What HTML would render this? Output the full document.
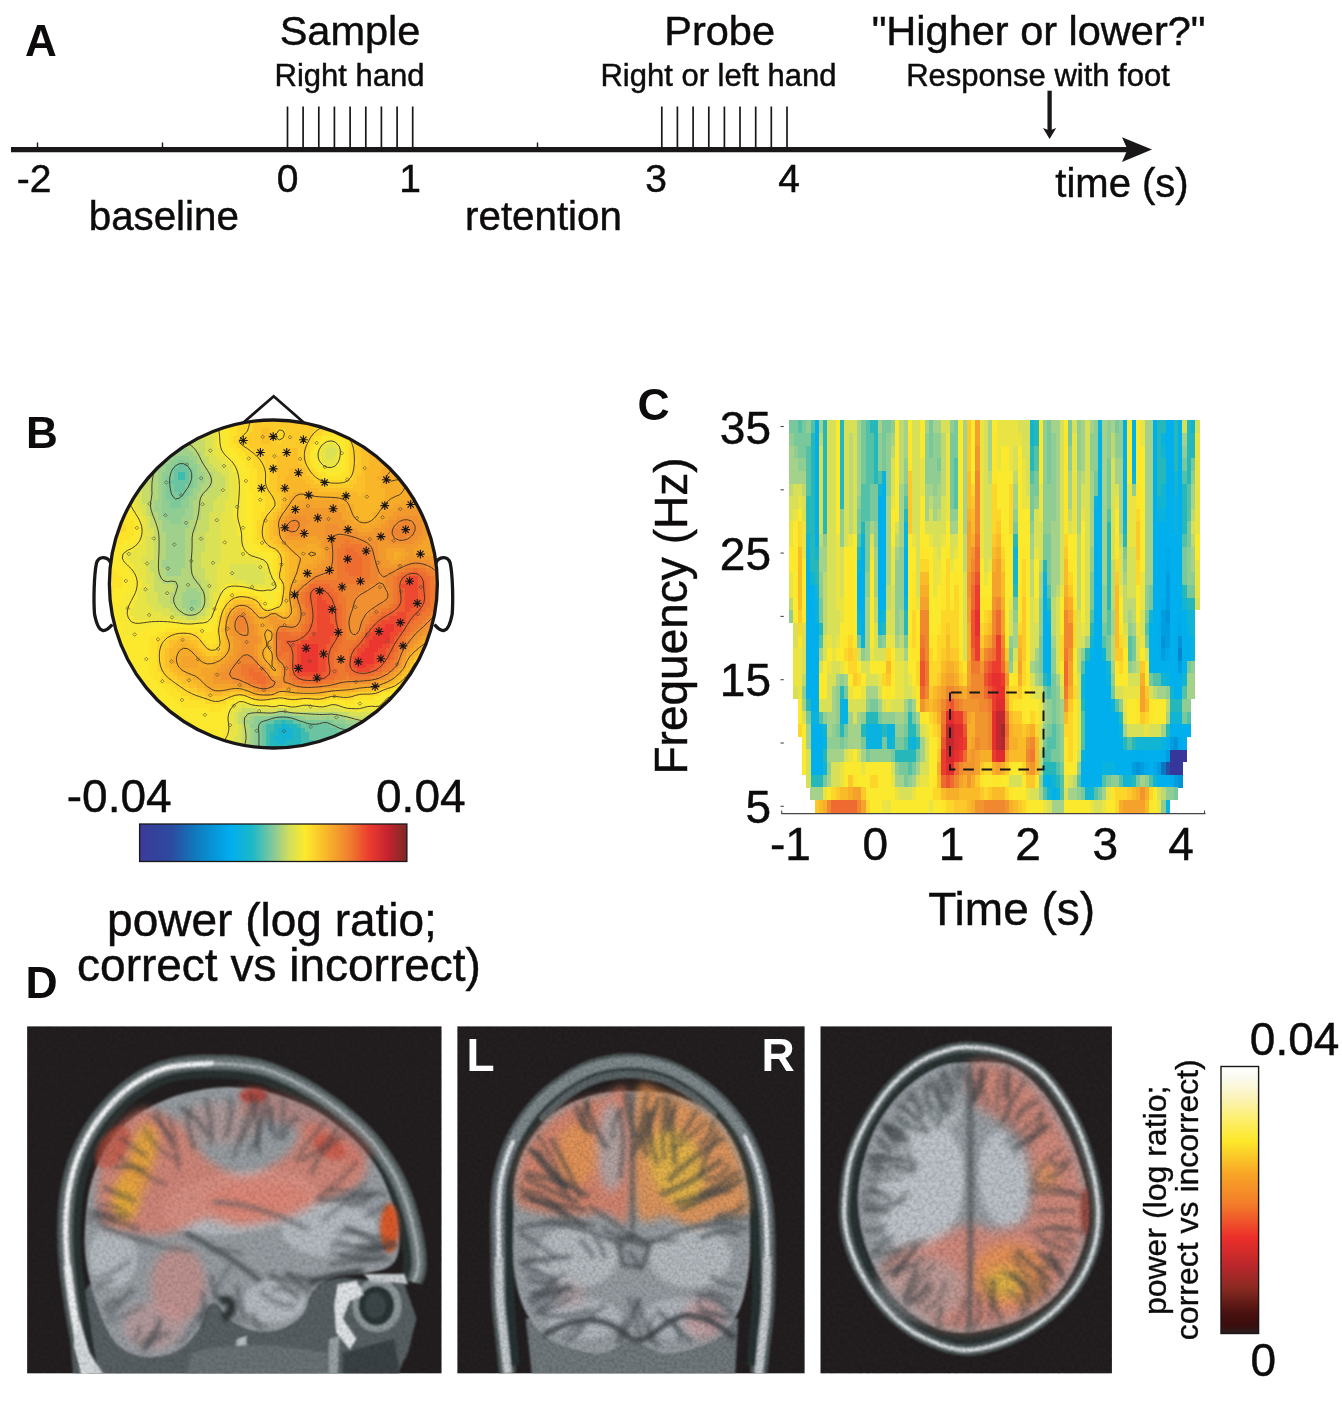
<!DOCTYPE html>
<html><head><meta charset="utf-8"><title>Figure</title>
<style>
html,body{margin:0;padding:0;background:#fff;}
svg{display:block;font-family:"Liberation Sans",sans-serif;}
</style></head><body>
<svg width="1342" height="1407" viewBox="0 0 1342 1407">
<rect width="1342" height="1407" fill="#fff"/>
<text x="25" y="56" font-size="44" text-anchor="start" font-weight="bold" fill="#0d0b0c" >A</text>
<text x="350" y="44.5" font-size="41.5" text-anchor="middle" font-weight="normal" fill="#0d0b0c" stroke="#0d0b0c" stroke-width="0.45" >Sample</text>
<text x="349.5" y="85.5" font-size="31" text-anchor="middle" font-weight="normal" fill="#0d0b0c" stroke="#0d0b0c" stroke-width="0.45" >Right hand</text>
<text x="719.6" y="44.5" font-size="41.5" text-anchor="middle" font-weight="normal" fill="#0d0b0c" stroke="#0d0b0c" stroke-width="0.45" >Probe</text>
<text x="718.5" y="85.5" font-size="31" text-anchor="middle" font-weight="normal" fill="#0d0b0c" stroke="#0d0b0c" stroke-width="0.45" >Right or left hand</text>
<text x="1038.6" y="44.5" font-size="41.5" text-anchor="middle" font-weight="normal" fill="#0d0b0c" stroke="#0d0b0c" stroke-width="0.45" >&quot;Higher or lower?&quot;</text>
<text x="1038" y="85.5" font-size="31" text-anchor="middle" font-weight="normal" fill="#0d0b0c" stroke="#0d0b0c" stroke-width="0.45" >Response with foot</text>
<line x1="11" y1="149.6" x2="1130" y2="149.6" stroke="#1a1718" stroke-width="5.2"/>
<polygon points="1152,149.6 1122,137.2 1127.5,149.6 1122,162" fill="#1a1718"/>
<line x1="37.5" y1="142.5" x2="37.5" y2="150" stroke="#1a1718" stroke-width="1.4"/>
<line x1="162.5" y1="142.5" x2="162.5" y2="150" stroke="#1a1718" stroke-width="1.4"/>
<line x1="537.5" y1="142.5" x2="537.5" y2="150" stroke="#1a1718" stroke-width="1.4"/>
<line x1="287.5" y1="106.5" x2="287.5" y2="149" stroke="#1a1718" stroke-width="1.7"/>
<line x1="303.1" y1="106.5" x2="303.1" y2="149" stroke="#1a1718" stroke-width="1.7"/>
<line x1="318.8" y1="106.5" x2="318.8" y2="149" stroke="#1a1718" stroke-width="1.7"/>
<line x1="334.4" y1="106.5" x2="334.4" y2="149" stroke="#1a1718" stroke-width="1.7"/>
<line x1="350.1" y1="106.5" x2="350.1" y2="149" stroke="#1a1718" stroke-width="1.7"/>
<line x1="365.8" y1="106.5" x2="365.8" y2="149" stroke="#1a1718" stroke-width="1.7"/>
<line x1="381.4" y1="106.5" x2="381.4" y2="149" stroke="#1a1718" stroke-width="1.7"/>
<line x1="397.1" y1="106.5" x2="397.1" y2="149" stroke="#1a1718" stroke-width="1.7"/>
<line x1="412.7" y1="106.5" x2="412.7" y2="149" stroke="#1a1718" stroke-width="1.7"/>
<line x1="661.8" y1="106.5" x2="661.8" y2="149" stroke="#1a1718" stroke-width="1.7"/>
<line x1="677.4" y1="106.5" x2="677.4" y2="149" stroke="#1a1718" stroke-width="1.7"/>
<line x1="693.1" y1="106.5" x2="693.1" y2="149" stroke="#1a1718" stroke-width="1.7"/>
<line x1="708.8" y1="106.5" x2="708.8" y2="149" stroke="#1a1718" stroke-width="1.7"/>
<line x1="724.4" y1="106.5" x2="724.4" y2="149" stroke="#1a1718" stroke-width="1.7"/>
<line x1="740.0" y1="106.5" x2="740.0" y2="149" stroke="#1a1718" stroke-width="1.7"/>
<line x1="755.7" y1="106.5" x2="755.7" y2="149" stroke="#1a1718" stroke-width="1.7"/>
<line x1="771.3" y1="106.5" x2="771.3" y2="149" stroke="#1a1718" stroke-width="1.7"/>
<line x1="787.0" y1="106.5" x2="787.0" y2="149" stroke="#1a1718" stroke-width="1.7"/>
<line x1="1049.6" y1="90.7" x2="1049.6" y2="131" stroke="#1a1718" stroke-width="4.3"/>
<polygon points="1049.6,139 1043,128 1049.6,130.5 1056.2,128" fill="#1a1718"/>
<text x="34" y="191.5" font-size="39" text-anchor="middle" font-weight="normal" fill="#0d0b0c" stroke="#0d0b0c" stroke-width="0.45" >-2</text>
<text x="287.5" y="191.5" font-size="39" text-anchor="middle" font-weight="normal" fill="#0d0b0c" stroke="#0d0b0c" stroke-width="0.45" >0</text>
<text x="410" y="191.5" font-size="39" text-anchor="middle" font-weight="normal" fill="#0d0b0c" stroke="#0d0b0c" stroke-width="0.45" >1</text>
<text x="656" y="191.5" font-size="39" text-anchor="middle" font-weight="normal" fill="#0d0b0c" stroke="#0d0b0c" stroke-width="0.45" >3</text>
<text x="789" y="191.5" font-size="39" text-anchor="middle" font-weight="normal" fill="#0d0b0c" stroke="#0d0b0c" stroke-width="0.45" >4</text>
<text x="163.8" y="230.3" font-size="40.3" text-anchor="middle" font-weight="normal" fill="#0d0b0c" stroke="#0d0b0c" stroke-width="0.45" >baseline</text>
<text x="543.5" y="230.3" font-size="40.3" text-anchor="middle" font-weight="normal" fill="#0d0b0c" stroke="#0d0b0c" stroke-width="0.45" >retention</text>
<text x="1122" y="196.5" font-size="40" text-anchor="middle" font-weight="normal" fill="#0d0b0c" stroke="#0d0b0c" stroke-width="0.45" >time (s)</text>
<text x="26" y="447.6" font-size="44" text-anchor="start" font-weight="bold" fill="#0d0b0c" >B</text>
<text x="119.2" y="811.5" font-size="46" text-anchor="middle" font-weight="normal" fill="#0d0b0c" stroke="#0d0b0c" stroke-width="0.45" >-0.04</text>
<text x="420.8" y="811.5" font-size="46" text-anchor="middle" font-weight="normal" fill="#0d0b0c" stroke="#0d0b0c" stroke-width="0.45" >0.04</text>
<text x="272" y="935.8" font-size="46" text-anchor="middle" font-weight="normal" fill="#0d0b0c" stroke="#0d0b0c" stroke-width="0.45" >power (log ratio;</text>
<text x="279" y="980.5" font-size="46" text-anchor="middle" font-weight="normal" fill="#0d0b0c" stroke="#0d0b0c" stroke-width="0.45" >correct vs incorrect)</text>
<defs><linearGradient id="jet" x1="0" x2="1" y1="0" y2="0">
<stop offset="0" stop-color="#3b3a98"/><stop offset="0.12" stop-color="#2c4ba0"/><stop offset="0.22" stop-color="#0d7fc2"/>
<stop offset="0.34" stop-color="#00aeef"/><stop offset="0.42" stop-color="#1bb8c8"/><stop offset="0.5" stop-color="#85c99a"/>
<stop offset="0.56" stop-color="#d3de5a"/><stop offset="0.62" stop-color="#fdea2c"/><stop offset="0.7" stop-color="#f8b62a"/>
<stop offset="0.78" stop-color="#f0822f"/><stop offset="0.86" stop-color="#ec3b2e"/><stop offset="0.93" stop-color="#c42330"/><stop offset="1" stop-color="#7a2a24"/>
</linearGradient></defs>
<rect x="139.6" y="824" width="267.3" height="37.5" fill="url(#jet)" stroke="#1a1718" stroke-width="1.3"/>
<text x="637.5" y="420" font-size="44.5" text-anchor="start" font-weight="bold" fill="#0d0b0c" >C</text>
<text x="771" y="443.6" font-size="46" text-anchor="end" font-weight="normal" fill="#0d0b0c" stroke="#0d0b0c" stroke-width="0.45" >35</text>
<text x="771" y="569.8" font-size="46" text-anchor="end" font-weight="normal" fill="#0d0b0c" stroke="#0d0b0c" stroke-width="0.45" >25</text>
<text x="771" y="696.2" font-size="46" text-anchor="end" font-weight="normal" fill="#0d0b0c" stroke="#0d0b0c" stroke-width="0.45" >15</text>
<text x="771" y="822.8" font-size="46" text-anchor="end" font-weight="normal" fill="#0d0b0c" stroke="#0d0b0c" stroke-width="0.45" >5</text>
<text x="790.5" y="859.6" font-size="46" text-anchor="middle" font-weight="normal" fill="#0d0b0c" stroke="#0d0b0c" stroke-width="0.45" >-1</text>
<text x="875.4" y="859.6" font-size="46" text-anchor="middle" font-weight="normal" fill="#0d0b0c" stroke="#0d0b0c" stroke-width="0.45" >0</text>
<text x="951.5" y="859.6" font-size="46" text-anchor="middle" font-weight="normal" fill="#0d0b0c" stroke="#0d0b0c" stroke-width="0.45" >1</text>
<text x="1028" y="859.6" font-size="46" text-anchor="middle" font-weight="normal" fill="#0d0b0c" stroke="#0d0b0c" stroke-width="0.45" >2</text>
<text x="1105.4" y="859.6" font-size="46" text-anchor="middle" font-weight="normal" fill="#0d0b0c" stroke="#0d0b0c" stroke-width="0.45" >3</text>
<text x="1181" y="859.6" font-size="46" text-anchor="middle" font-weight="normal" fill="#0d0b0c" stroke="#0d0b0c" stroke-width="0.45" >4</text>
<text x="1011.7" y="924.6" font-size="46" text-anchor="middle" font-weight="normal" fill="#0d0b0c" stroke="#0d0b0c" stroke-width="0.45" >Time (s)</text>
<text transform="translate(686.5,616) rotate(-90)" font-size="46" text-anchor="middle" fill="#0d0b0c" stroke="#0d0b0c" stroke-width="0.45">Frequency (Hz)</text>
<line x1="781.5" y1="813.6" x2="1205.5" y2="813.6" stroke="#4a4648" stroke-width="1.1"/>
<line x1="781.7" y1="810.5" x2="781.7" y2="814" stroke="#4a4648" stroke-width="1.1"/>
<line x1="866.3" y1="810.5" x2="866.3" y2="814" stroke="#4a4648" stroke-width="1.1"/>
<line x1="950.8" y1="810.5" x2="950.8" y2="814" stroke="#4a4648" stroke-width="1.1"/>
<line x1="1035.4" y1="810.5" x2="1035.4" y2="814" stroke="#4a4648" stroke-width="1.1"/>
<line x1="1119.9" y1="810.5" x2="1119.9" y2="814" stroke="#4a4648" stroke-width="1.1"/>
<line x1="1204.5" y1="810.5" x2="1204.5" y2="814" stroke="#4a4648" stroke-width="1.1"/>
<line x1="780.5" y1="426.5" x2="783.8" y2="426.5" stroke="#4a4648" stroke-width="1.1"/>
<line x1="780.5" y1="489.8" x2="783.8" y2="489.8" stroke="#4a4648" stroke-width="1.1"/>
<line x1="780.5" y1="553.1" x2="783.8" y2="553.1" stroke="#4a4648" stroke-width="1.1"/>
<line x1="780.5" y1="616.4" x2="783.8" y2="616.4" stroke="#4a4648" stroke-width="1.1"/>
<line x1="780.5" y1="679.7" x2="783.8" y2="679.7" stroke="#4a4648" stroke-width="1.1"/>
<line x1="780.5" y1="743.0" x2="783.8" y2="743.0" stroke="#4a4648" stroke-width="1.1"/>
<line x1="780.5" y1="806.3" x2="783.8" y2="806.3" stroke="#4a4648" stroke-width="1.1"/>
<text x="25.5" y="998" font-size="44.5" text-anchor="start" font-weight="bold" fill="#0d0b0c" >D</text>
<text x="1294.6" y="1054.8" font-size="46" text-anchor="middle" font-weight="normal" fill="#0d0b0c" stroke="#0d0b0c" stroke-width="0.45" >0.04</text>
<text x="1263.3" y="1376.2" font-size="46" text-anchor="middle" font-weight="normal" fill="#0d0b0c" stroke="#0d0b0c" stroke-width="0.45" >0</text>
<text transform="translate(1165.7,1200.4) rotate(-90)" font-size="32" text-anchor="middle" fill="#0d0b0c" stroke="#0d0b0c" stroke-width="0.35">power (log ratio;</text>
<text transform="translate(1197.7,1199.7) rotate(-90)" font-size="32" text-anchor="middle" fill="#0d0b0c" stroke="#0d0b0c" stroke-width="0.35">correct vs incorrect)</text>
<defs><linearGradient id="hot" x1="0" x2="0" y1="1" y2="0">
<stop offset="0" stop-color="#2a2021"/><stop offset="0.03" stop-color="#3a0d0c"/><stop offset="0.08" stop-color="#4a1210"/><stop offset="0.17" stop-color="#8a2a22"/><stop offset="0.25" stop-color="#b8272b"/>
<stop offset="0.36" stop-color="#ec2f2a"/><stop offset="0.48" stop-color="#f37a2a"/><stop offset="0.6" stop-color="#f8a626"/>
<stop offset="0.72" stop-color="#fde82a"/><stop offset="0.8" stop-color="#fdee6a"/><stop offset="0.88" stop-color="#fbf3b8"/><stop offset="0.96" stop-color="#fbfaf0"/><stop offset="1" stop-color="#ffffff"/>
</linearGradient></defs>
<rect x="1221" y="1066.5" width="37.6" height="267" fill="url(#hot)" stroke="#1a1718" stroke-width="1.4"/>
<rect x="27.15" y="1026.4" width="414.35" height="346.9" fill="#231f20"/>
<rect x="457.4" y="1026.4" width="347.20" height="346.9" fill="#231f20"/>
<rect x="820.5" y="1026.4" width="291.40" height="346.9" fill="#231f20"/>
<defs><clipPath id="headclip"><circle cx="273.35" cy="584.0" r="164.0"/></clipPath></defs>
<g clip-path="url(#headclip)" shape-rendering="crispEdges">
<path fill="#14b4d2" d="M281.35 724h8.3v4.3h-8.3zM277.35 728h16.3v4.3h-16.3zM277.35 732h16.3v4.3h-16.3zM273.35 736h20.3v4.3h-20.3zM277.35 740h8.3v4.3h-8.3z"/>
<path fill="#24b7be" d="M281.35 720h4.3v4.3h-4.3zM273.35 724h8.3v4.3h-8.3zM289.35 724h8.3v4.3h-8.3zM273.35 728h4.3v4.3h-4.3zM293.35 728h8.3v4.3h-8.3zM269.35 732h8.3v4.3h-8.3zM293.35 732h8.3v4.3h-8.3zM269.35 736h4.3v4.3h-4.3zM293.35 736h8.3v4.3h-8.3zM269.35 740h8.3v4.3h-8.3zM285.35 740h16.3v4.3h-16.3zM269.35 744h32.3v4.3h-32.3zM273.35 748h24.3v4.3h-24.3z"/>
<path fill="#40bcae" d="M177.35 472h8.3v4.3h-8.3zM177.35 476h8.3v4.3h-8.3zM273.35 720h8.3v4.3h-8.3zM285.35 720h8.3v4.3h-8.3zM265.35 724h8.3v4.3h-8.3zM297.35 724h4.3v4.3h-4.3zM265.35 728h8.3v4.3h-8.3zM301.35 728h4.3v4.3h-4.3zM265.35 732h4.3v4.3h-4.3zM301.35 732h8.3v4.3h-8.3zM265.35 736h4.3v4.3h-4.3zM301.35 736h8.3v4.3h-8.3zM265.35 740h4.3v4.3h-4.3zM301.35 740h12.3v4.3h-12.3zM265.35 744h4.3v4.3h-4.3zM301.35 744h16.3v4.3h-16.3zM265.35 748h8.3v4.3h-8.3z"/>
<path fill="#6ac4a1" d="M177.35 464h8.3v4.3h-8.3zM173.35 468h16.3v4.3h-16.3zM173.35 472h4.3v4.3h-4.3zM185.35 472h4.3v4.3h-4.3zM173.35 476h4.3v4.3h-4.3zM185.35 476h4.3v4.3h-4.3zM169.35 480h20.3v4.3h-20.3zM173.35 484h12.3v4.3h-12.3zM173.35 488h12.3v4.3h-12.3zM177.35 492h4.3v4.3h-4.3zM277.35 716h12.3v4.3h-12.3zM265.35 720h8.3v4.3h-8.3zM293.35 720h8.3v4.3h-8.3zM261.35 724h4.3v4.3h-4.3zM301.35 724h28.3v4.3h-28.3zM261.35 728h4.3v4.3h-4.3zM305.35 728h32.3v4.3h-32.3zM261.35 732h4.3v4.3h-4.3zM309.35 732h40.3v4.3h-40.3zM261.35 736h4.3v4.3h-4.3zM309.35 736h32.3v4.3h-32.3zM261.35 740h4.3v4.3h-4.3zM313.35 740h16.3v4.3h-16.3zM261.35 744h4.3v4.3h-4.3zM261.35 748h4.3v4.3h-4.3z"/>
<path fill="#7dc99a" d="M177.35 460h8.3v4.3h-8.3zM173.35 464h4.3v4.3h-4.3zM185.35 464h4.3v4.3h-4.3zM169.35 468h4.3v4.3h-4.3zM189.35 468h4.3v4.3h-4.3zM169.35 472h4.3v4.3h-4.3zM189.35 472h4.3v4.3h-4.3zM165.35 476h8.3v4.3h-8.3zM189.35 476h4.3v4.3h-4.3zM165.35 480h4.3v4.3h-4.3zM189.35 480h4.3v4.3h-4.3zM165.35 484h8.3v4.3h-8.3zM185.35 484h8.3v4.3h-8.3zM165.35 488h8.3v4.3h-8.3zM185.35 488h4.3v4.3h-4.3zM165.35 492h12.3v4.3h-12.3zM181.35 492h8.3v4.3h-8.3zM165.35 496h20.3v4.3h-20.3zM169.35 500h12.3v4.3h-12.3zM169.35 504h12.3v4.3h-12.3zM269.35 716h8.3v4.3h-8.3zM289.35 716h8.3v4.3h-8.3zM257.35 720h8.3v4.3h-8.3zM301.35 720h32.3v4.3h-32.3zM257.35 724h4.3v4.3h-4.3zM329.35 724h16.3v4.3h-16.3zM257.35 728h4.3v4.3h-4.3zM337.35 728h20.3v4.3h-20.3zM257.35 732h4.3v4.3h-4.3zM257.35 736h4.3v4.3h-4.3zM257.35 740h4.3v4.3h-4.3zM257.35 744h4.3v4.3h-4.3zM257.35 748h4.3v4.3h-4.3z"/>
<path fill="#8fcd93" d="M173.35 456h16.3v4.3h-16.3zM169.35 460h8.3v4.3h-8.3zM185.35 460h8.3v4.3h-8.3zM165.35 464h8.3v4.3h-8.3zM189.35 464h8.3v4.3h-8.3zM165.35 468h4.3v4.3h-4.3zM193.35 468h4.3v4.3h-4.3zM161.35 472h8.3v4.3h-8.3zM193.35 472h4.3v4.3h-4.3zM161.35 476h4.3v4.3h-4.3zM193.35 476h8.3v4.3h-8.3zM161.35 480h4.3v4.3h-4.3zM193.35 480h4.3v4.3h-4.3zM161.35 484h4.3v4.3h-4.3zM193.35 484h4.3v4.3h-4.3zM161.35 488h4.3v4.3h-4.3zM189.35 488h4.3v4.3h-4.3zM161.35 492h4.3v4.3h-4.3zM189.35 492h4.3v4.3h-4.3zM161.35 496h4.3v4.3h-4.3zM185.35 496h4.3v4.3h-4.3zM161.35 500h8.3v4.3h-8.3zM181.35 500h8.3v4.3h-8.3zM161.35 504h8.3v4.3h-8.3zM181.35 504h8.3v4.3h-8.3zM161.35 508h24.3v4.3h-24.3zM161.35 512h24.3v4.3h-24.3zM165.35 516h16.3v4.3h-16.3zM169.35 520h12.3v4.3h-12.3zM189.35 600h8.3v4.3h-8.3zM189.35 604h4.3v4.3h-4.3zM253.35 716h16.3v4.3h-16.3zM297.35 716h8.3v4.3h-8.3zM325.35 716h4.3v4.3h-4.3zM253.35 720h4.3v4.3h-4.3zM333.35 720h12.3v4.3h-12.3zM249.35 724h8.3v4.3h-8.3zM345.35 724h12.3v4.3h-12.3zM253.35 728h4.3v4.3h-4.3zM253.35 732h4.3v4.3h-4.3zM253.35 736h4.3v4.3h-4.3zM253.35 740h4.3v4.3h-4.3zM253.35 744h4.3v4.3h-4.3zM253.35 748h4.3v4.3h-4.3z"/>
<path fill="#a0d18c" d="M177.35 448h12.3v4.3h-12.3zM169.35 452h24.3v4.3h-24.3zM165.35 456h8.3v4.3h-8.3zM189.35 456h8.3v4.3h-8.3zM165.35 460h4.3v4.3h-4.3zM193.35 460h4.3v4.3h-4.3zM161.35 464h4.3v4.3h-4.3zM197.35 464h4.3v4.3h-4.3zM157.35 468h8.3v4.3h-8.3zM197.35 468h4.3v4.3h-4.3zM157.35 472h4.3v4.3h-4.3zM197.35 472h8.3v4.3h-8.3zM157.35 476h4.3v4.3h-4.3zM201.35 476h4.3v4.3h-4.3zM157.35 480h4.3v4.3h-4.3zM197.35 480h8.3v4.3h-8.3zM157.35 484h4.3v4.3h-4.3zM197.35 484h4.3v4.3h-4.3zM157.35 488h4.3v4.3h-4.3zM193.35 488h8.3v4.3h-8.3zM157.35 492h4.3v4.3h-4.3zM193.35 492h4.3v4.3h-4.3zM157.35 496h4.3v4.3h-4.3zM189.35 496h8.3v4.3h-8.3zM153.35 500h8.3v4.3h-8.3zM189.35 500h4.3v4.3h-4.3zM153.35 504h8.3v4.3h-8.3zM189.35 504h4.3v4.3h-4.3zM153.35 508h8.3v4.3h-8.3zM185.35 508h8.3v4.3h-8.3zM157.35 512h4.3v4.3h-4.3zM185.35 512h8.3v4.3h-8.3zM157.35 516h8.3v4.3h-8.3zM181.35 516h12.3v4.3h-12.3zM161.35 520h8.3v4.3h-8.3zM181.35 520h8.3v4.3h-8.3zM161.35 524h28.3v4.3h-28.3zM161.35 528h24.3v4.3h-24.3zM165.35 532h20.3v4.3h-20.3zM165.35 536h20.3v4.3h-20.3zM165.35 540h20.3v4.3h-20.3zM165.35 544h20.3v4.3h-20.3zM165.35 548h20.3v4.3h-20.3zM165.35 552h20.3v4.3h-20.3zM165.35 556h20.3v4.3h-20.3zM161.35 560h24.3v4.3h-24.3zM161.35 564h24.3v4.3h-24.3zM165.35 568h16.3v4.3h-16.3zM165.35 572h16.3v4.3h-16.3zM185.35 588h12.3v4.3h-12.3zM181.35 592h20.3v4.3h-20.3zM181.35 596h20.3v4.3h-20.3zM181.35 600h8.3v4.3h-8.3zM197.35 600h4.3v4.3h-4.3zM181.35 604h8.3v4.3h-8.3zM193.35 604h8.3v4.3h-8.3zM185.35 608h12.3v4.3h-12.3zM273.35 712h20.3v4.3h-20.3zM249.35 716h4.3v4.3h-4.3zM305.35 716h20.3v4.3h-20.3zM329.35 716h16.3v4.3h-16.3zM245.35 720h8.3v4.3h-8.3zM345.35 720h12.3v4.3h-12.3zM357.35 724h4.3v4.3h-4.3zM249.35 728h4.3v4.3h-4.3zM249.35 732h4.3v4.3h-4.3zM249.35 736h4.3v4.3h-4.3zM249.35 740h4.3v4.3h-4.3zM249.35 744h4.3v4.3h-4.3zM249.35 748h4.3v4.3h-4.3z"/>
<path fill="#b3d67c" d="M185.35 440h4.3v4.3h-4.3zM177.35 444h16.3v4.3h-16.3zM173.35 448h4.3v4.3h-4.3zM189.35 448h8.3v4.3h-8.3zM165.35 452h4.3v4.3h-4.3zM193.35 452h8.3v4.3h-8.3zM161.35 456h4.3v4.3h-4.3zM197.35 456h4.3v4.3h-4.3zM157.35 460h8.3v4.3h-8.3zM197.35 460h8.3v4.3h-8.3zM153.35 464h8.3v4.3h-8.3zM201.35 464h4.3v4.3h-4.3zM153.35 468h4.3v4.3h-4.3zM201.35 468h8.3v4.3h-8.3zM153.35 472h4.3v4.3h-4.3zM205.35 472h8.3v4.3h-8.3zM149.35 476h8.3v4.3h-8.3zM205.35 476h8.3v4.3h-8.3zM149.35 480h8.3v4.3h-8.3zM205.35 480h8.3v4.3h-8.3zM149.35 484h8.3v4.3h-8.3zM201.35 484h12.3v4.3h-12.3zM149.35 488h8.3v4.3h-8.3zM201.35 488h8.3v4.3h-8.3zM149.35 492h8.3v4.3h-8.3zM197.35 492h8.3v4.3h-8.3zM149.35 496h8.3v4.3h-8.3zM197.35 496h4.3v4.3h-4.3zM149.35 500h4.3v4.3h-4.3zM193.35 500h8.3v4.3h-8.3zM149.35 504h4.3v4.3h-4.3zM193.35 504h8.3v4.3h-8.3zM149.35 508h4.3v4.3h-4.3zM193.35 508h8.3v4.3h-8.3zM149.35 512h8.3v4.3h-8.3zM193.35 512h8.3v4.3h-8.3zM153.35 516h4.3v4.3h-4.3zM193.35 516h8.3v4.3h-8.3zM153.35 520h8.3v4.3h-8.3zM189.35 520h8.3v4.3h-8.3zM157.35 524h4.3v4.3h-4.3zM189.35 524h8.3v4.3h-8.3zM157.35 528h4.3v4.3h-4.3zM185.35 528h12.3v4.3h-12.3zM157.35 532h8.3v4.3h-8.3zM185.35 532h8.3v4.3h-8.3zM157.35 536h8.3v4.3h-8.3zM185.35 536h8.3v4.3h-8.3zM157.35 540h8.3v4.3h-8.3zM185.35 540h8.3v4.3h-8.3zM157.35 544h8.3v4.3h-8.3zM185.35 544h8.3v4.3h-8.3zM157.35 548h8.3v4.3h-8.3zM185.35 548h8.3v4.3h-8.3zM157.35 552h8.3v4.3h-8.3zM185.35 552h8.3v4.3h-8.3zM157.35 556h8.3v4.3h-8.3zM185.35 556h8.3v4.3h-8.3zM157.35 560h4.3v4.3h-4.3zM185.35 560h8.3v4.3h-8.3zM157.35 564h4.3v4.3h-4.3zM185.35 564h8.3v4.3h-8.3zM157.35 568h8.3v4.3h-8.3zM181.35 568h12.3v4.3h-12.3zM157.35 572h8.3v4.3h-8.3zM181.35 572h12.3v4.3h-12.3zM157.35 576h40.3v4.3h-40.3zM161.35 580h40.3v4.3h-40.3zM173.35 584h28.3v4.3h-28.3zM173.35 588h12.3v4.3h-12.3zM197.35 588h8.3v4.3h-8.3zM169.35 592h12.3v4.3h-12.3zM201.35 592h4.3v4.3h-4.3zM169.35 596h12.3v4.3h-12.3zM201.35 596h4.3v4.3h-4.3zM169.35 600h12.3v4.3h-12.3zM201.35 600h4.3v4.3h-4.3zM173.35 604h8.3v4.3h-8.3zM201.35 604h4.3v4.3h-4.3zM177.35 608h8.3v4.3h-8.3zM197.35 608h4.3v4.3h-4.3zM181.35 612h16.3v4.3h-16.3zM245.35 712h28.3v4.3h-28.3zM293.35 712h44.3v4.3h-44.3zM241.35 716h8.3v4.3h-8.3zM345.35 716h8.3v4.3h-8.3zM241.35 720h4.3v4.3h-4.3zM357.35 720h12.3v4.3h-12.3zM245.35 724h4.3v4.3h-4.3zM245.35 728h4.3v4.3h-4.3zM245.35 732h4.3v4.3h-4.3zM245.35 736h4.3v4.3h-4.3zM245.35 740h4.3v4.3h-4.3zM245.35 744h4.3v4.3h-4.3z"/>
<path fill="#c7db68" d="M189.35 436h12.3v4.3h-12.3zM189.35 440h16.3v4.3h-16.3zM193.35 444h12.3v4.3h-12.3zM197.35 448h8.3v4.3h-8.3zM201.35 452h4.3v4.3h-4.3zM201.35 456h8.3v4.3h-8.3zM205.35 460h4.3v4.3h-4.3zM205.35 464h8.3v4.3h-8.3zM149.35 468h4.3v4.3h-4.3zM209.35 468h8.3v4.3h-8.3zM145.35 472h8.3v4.3h-8.3zM213.35 472h8.3v4.3h-8.3zM145.35 476h4.3v4.3h-4.3zM213.35 476h12.3v4.3h-12.3zM141.35 480h8.3v4.3h-8.3zM213.35 480h12.3v4.3h-12.3zM141.35 484h8.3v4.3h-8.3zM213.35 484h12.3v4.3h-12.3zM141.35 488h8.3v4.3h-8.3zM209.35 488h12.3v4.3h-12.3zM141.35 492h8.3v4.3h-8.3zM205.35 492h16.3v4.3h-16.3zM141.35 496h8.3v4.3h-8.3zM201.35 496h16.3v4.3h-16.3zM141.35 500h8.3v4.3h-8.3zM201.35 500h12.3v4.3h-12.3zM145.35 504h4.3v4.3h-4.3zM201.35 504h12.3v4.3h-12.3zM145.35 508h4.3v4.3h-4.3zM201.35 508h12.3v4.3h-12.3zM145.35 512h4.3v4.3h-4.3zM201.35 512h8.3v4.3h-8.3zM149.35 516h4.3v4.3h-4.3zM201.35 516h8.3v4.3h-8.3zM149.35 520h4.3v4.3h-4.3zM197.35 520h12.3v4.3h-12.3zM149.35 524h8.3v4.3h-8.3zM197.35 524h12.3v4.3h-12.3zM153.35 528h4.3v4.3h-4.3zM197.35 528h12.3v4.3h-12.3zM153.35 532h4.3v4.3h-4.3zM193.35 532h12.3v4.3h-12.3zM153.35 536h4.3v4.3h-4.3zM193.35 536h12.3v4.3h-12.3zM153.35 540h4.3v4.3h-4.3zM193.35 540h12.3v4.3h-12.3zM153.35 544h4.3v4.3h-4.3zM193.35 544h12.3v4.3h-12.3zM153.35 548h4.3v4.3h-4.3zM193.35 548h12.3v4.3h-12.3zM153.35 552h4.3v4.3h-4.3zM193.35 552h8.3v4.3h-8.3zM153.35 556h4.3v4.3h-4.3zM193.35 556h8.3v4.3h-8.3zM149.35 560h8.3v4.3h-8.3zM193.35 560h8.3v4.3h-8.3zM149.35 564h8.3v4.3h-8.3zM193.35 564h8.3v4.3h-8.3zM149.35 568h8.3v4.3h-8.3zM193.35 568h12.3v4.3h-12.3zM153.35 572h4.3v4.3h-4.3zM193.35 572h12.3v4.3h-12.3zM153.35 576h4.3v4.3h-4.3zM197.35 576h8.3v4.3h-8.3zM153.35 580h8.3v4.3h-8.3zM201.35 580h8.3v4.3h-8.3zM153.35 584h20.3v4.3h-20.3zM201.35 584h8.3v4.3h-8.3zM153.35 588h20.3v4.3h-20.3zM205.35 588h4.3v4.3h-4.3zM157.35 592h12.3v4.3h-12.3zM205.35 592h4.3v4.3h-4.3zM157.35 596h12.3v4.3h-12.3zM205.35 596h4.3v4.3h-4.3zM157.35 600h12.3v4.3h-12.3zM205.35 600h4.3v4.3h-4.3zM161.35 604h12.3v4.3h-12.3zM205.35 604h4.3v4.3h-4.3zM169.35 608h8.3v4.3h-8.3zM201.35 608h4.3v4.3h-4.3zM173.35 612h8.3v4.3h-8.3zM197.35 612h8.3v4.3h-8.3zM185.35 616h12.3v4.3h-12.3zM241.35 708h16.3v4.3h-16.3zM277.35 708h8.3v4.3h-8.3zM237.35 712h8.3v4.3h-8.3zM337.35 712h12.3v4.3h-12.3zM237.35 716h4.3v4.3h-4.3zM353.35 716h20.3v4.3h-20.3zM237.35 720h4.3v4.3h-4.3zM241.35 724h4.3v4.3h-4.3zM241.35 728h4.3v4.3h-4.3zM241.35 732h4.3v4.3h-4.3zM241.35 736h4.3v4.3h-4.3zM241.35 740h4.3v4.3h-4.3zM237.35 744h8.3v4.3h-8.3z"/>
<path fill="#dae155" d="M205.35 428h4.3v4.3h-4.3zM197.35 432h12.3v4.3h-12.3zM201.35 436h12.3v4.3h-12.3zM205.35 440h8.3v4.3h-8.3zM205.35 444h8.3v4.3h-8.3zM329.35 444h4.3v4.3h-4.3zM205.35 448h8.3v4.3h-8.3zM325.35 448h12.3v4.3h-12.3zM205.35 452h8.3v4.3h-8.3zM325.35 452h12.3v4.3h-12.3zM209.35 456h8.3v4.3h-8.3zM325.35 456h8.3v4.3h-8.3zM209.35 460h12.3v4.3h-12.3zM213.35 464h12.3v4.3h-12.3zM217.35 468h12.3v4.3h-12.3zM221.35 472h8.3v4.3h-8.3zM141.35 476h4.3v4.3h-4.3zM225.35 476h4.3v4.3h-4.3zM225.35 480h4.3v4.3h-4.3zM137.35 484h4.3v4.3h-4.3zM225.35 484h4.3v4.3h-4.3zM133.35 488h8.3v4.3h-8.3zM221.35 488h8.3v4.3h-8.3zM137.35 492h4.3v4.3h-4.3zM221.35 492h8.3v4.3h-8.3zM137.35 496h4.3v4.3h-4.3zM217.35 496h12.3v4.3h-12.3zM137.35 500h4.3v4.3h-4.3zM213.35 500h12.3v4.3h-12.3zM137.35 504h8.3v4.3h-8.3zM213.35 504h12.3v4.3h-12.3zM141.35 508h4.3v4.3h-4.3zM213.35 508h12.3v4.3h-12.3zM141.35 512h4.3v4.3h-4.3zM209.35 512h12.3v4.3h-12.3zM145.35 516h4.3v4.3h-4.3zM209.35 516h12.3v4.3h-12.3zM145.35 520h4.3v4.3h-4.3zM209.35 520h12.3v4.3h-12.3zM145.35 524h4.3v4.3h-4.3zM209.35 524h12.3v4.3h-12.3zM145.35 528h8.3v4.3h-8.3zM209.35 528h12.3v4.3h-12.3zM149.35 532h4.3v4.3h-4.3zM205.35 532h16.3v4.3h-16.3zM145.35 536h8.3v4.3h-8.3zM205.35 536h16.3v4.3h-16.3zM145.35 540h8.3v4.3h-8.3zM205.35 540h16.3v4.3h-16.3zM145.35 544h8.3v4.3h-8.3zM205.35 544h16.3v4.3h-16.3zM145.35 548h8.3v4.3h-8.3zM205.35 548h16.3v4.3h-16.3zM145.35 552h8.3v4.3h-8.3zM201.35 552h20.3v4.3h-20.3zM141.35 556h12.3v4.3h-12.3zM201.35 556h20.3v4.3h-20.3zM141.35 560h8.3v4.3h-8.3zM201.35 560h20.3v4.3h-20.3zM145.35 564h4.3v4.3h-4.3zM201.35 564h16.3v4.3h-16.3zM229.35 564h28.3v4.3h-28.3zM145.35 568h4.3v4.3h-4.3zM205.35 568h12.3v4.3h-12.3zM229.35 568h32.3v4.3h-32.3zM145.35 572h8.3v4.3h-8.3zM205.35 572h12.3v4.3h-12.3zM229.35 572h36.3v4.3h-36.3zM145.35 576h8.3v4.3h-8.3zM205.35 576h12.3v4.3h-12.3zM233.35 576h32.3v4.3h-32.3zM145.35 580h8.3v4.3h-8.3zM209.35 580h8.3v4.3h-8.3zM245.35 580h20.3v4.3h-20.3zM149.35 584h4.3v4.3h-4.3zM209.35 584h8.3v4.3h-8.3zM145.35 588h8.3v4.3h-8.3zM209.35 588h8.3v4.3h-8.3zM145.35 592h12.3v4.3h-12.3zM209.35 592h4.3v4.3h-4.3zM145.35 596h12.3v4.3h-12.3zM209.35 596h4.3v4.3h-4.3zM145.35 600h12.3v4.3h-12.3zM209.35 600h4.3v4.3h-4.3zM149.35 604h12.3v4.3h-12.3zM209.35 604h4.3v4.3h-4.3zM153.35 608h16.3v4.3h-16.3zM205.35 608h4.3v4.3h-4.3zM161.35 612h12.3v4.3h-12.3zM205.35 612h4.3v4.3h-4.3zM173.35 616h12.3v4.3h-12.3zM197.35 616h8.3v4.3h-8.3zM241.35 704h4.3v4.3h-4.3zM237.35 708h4.3v4.3h-4.3zM257.35 708h20.3v4.3h-20.3zM285.35 708h56.3v4.3h-56.3zM233.35 712h4.3v4.3h-4.3zM349.35 712h32.3v4.3h-32.3zM233.35 716h4.3v4.3h-4.3zM233.35 720h4.3v4.3h-4.3zM237.35 724h4.3v4.3h-4.3zM237.35 728h4.3v4.3h-4.3zM237.35 732h4.3v4.3h-4.3zM233.35 736h8.3v4.3h-8.3zM233.35 740h8.3v4.3h-8.3zM233.35 744h4.3v4.3h-4.3z"/>
<path fill="#e8e445" d="M209.35 428h8.3v4.3h-8.3zM209.35 432h8.3v4.3h-8.3zM213.35 436h4.3v4.3h-4.3zM213.35 440h4.3v4.3h-4.3zM329.35 440h4.3v4.3h-4.3zM213.35 444h4.3v4.3h-4.3zM321.35 444h8.3v4.3h-8.3zM333.35 444h4.3v4.3h-4.3zM213.35 448h8.3v4.3h-8.3zM321.35 448h4.3v4.3h-4.3zM337.35 448h4.3v4.3h-4.3zM213.35 452h8.3v4.3h-8.3zM317.35 452h8.3v4.3h-8.3zM217.35 456h8.3v4.3h-8.3zM321.35 456h4.3v4.3h-4.3zM333.35 456h4.3v4.3h-4.3zM221.35 460h8.3v4.3h-8.3zM321.35 460h16.3v4.3h-16.3zM225.35 464h8.3v4.3h-8.3zM325.35 464h8.3v4.3h-8.3zM229.35 468h4.3v4.3h-4.3zM229.35 472h8.3v4.3h-8.3zM229.35 476h8.3v4.3h-8.3zM229.35 480h8.3v4.3h-8.3zM229.35 484h8.3v4.3h-8.3zM229.35 488h8.3v4.3h-8.3zM133.35 492h4.3v4.3h-4.3zM229.35 492h8.3v4.3h-8.3zM129.35 496h8.3v4.3h-8.3zM229.35 496h8.3v4.3h-8.3zM129.35 500h8.3v4.3h-8.3zM225.35 500h12.3v4.3h-12.3zM133.35 504h4.3v4.3h-4.3zM225.35 504h12.3v4.3h-12.3zM133.35 508h8.3v4.3h-8.3zM225.35 508h8.3v4.3h-8.3zM137.35 512h4.3v4.3h-4.3zM221.35 512h12.3v4.3h-12.3zM141.35 516h4.3v4.3h-4.3zM221.35 516h12.3v4.3h-12.3zM141.35 520h4.3v4.3h-4.3zM221.35 520h16.3v4.3h-16.3zM141.35 524h4.3v4.3h-4.3zM221.35 524h16.3v4.3h-16.3zM141.35 528h4.3v4.3h-4.3zM221.35 528h16.3v4.3h-16.3zM141.35 532h8.3v4.3h-8.3zM221.35 532h16.3v4.3h-16.3zM141.35 536h4.3v4.3h-4.3zM221.35 536h20.3v4.3h-20.3zM141.35 540h4.3v4.3h-4.3zM221.35 540h20.3v4.3h-20.3zM137.35 544h8.3v4.3h-8.3zM221.35 544h20.3v4.3h-20.3zM133.35 548h12.3v4.3h-12.3zM221.35 548h20.3v4.3h-20.3zM125.35 552h20.3v4.3h-20.3zM221.35 552h24.3v4.3h-24.3zM125.35 556h16.3v4.3h-16.3zM221.35 556h32.3v4.3h-32.3zM129.35 560h12.3v4.3h-12.3zM221.35 560h44.3v4.3h-44.3zM133.35 564h12.3v4.3h-12.3zM217.35 564h12.3v4.3h-12.3zM257.35 564h8.3v4.3h-8.3zM133.35 568h12.3v4.3h-12.3zM217.35 568h12.3v4.3h-12.3zM261.35 568h8.3v4.3h-8.3zM137.35 572h8.3v4.3h-8.3zM217.35 572h12.3v4.3h-12.3zM265.35 572h4.3v4.3h-4.3zM137.35 576h8.3v4.3h-8.3zM217.35 576h16.3v4.3h-16.3zM265.35 576h8.3v4.3h-8.3zM141.35 580h4.3v4.3h-4.3zM217.35 580h28.3v4.3h-28.3zM265.35 580h8.3v4.3h-8.3zM141.35 584h8.3v4.3h-8.3zM217.35 584h8.3v4.3h-8.3zM245.35 584h32.3v4.3h-32.3zM137.35 588h8.3v4.3h-8.3zM217.35 588h4.3v4.3h-4.3zM137.35 592h8.3v4.3h-8.3zM213.35 592h8.3v4.3h-8.3zM137.35 596h8.3v4.3h-8.3zM213.35 596h4.3v4.3h-4.3zM133.35 600h12.3v4.3h-12.3zM213.35 600h4.3v4.3h-4.3zM133.35 604h16.3v4.3h-16.3zM129.35 608h24.3v4.3h-24.3zM209.35 608h4.3v4.3h-4.3zM129.35 612h32.3v4.3h-32.3zM209.35 612h4.3v4.3h-4.3zM133.35 616h40.3v4.3h-40.3zM205.35 616h4.3v4.3h-4.3zM177.35 620h24.3v4.3h-24.3zM397.35 692h4.3v4.3h-4.3zM389.35 696h8.3v4.3h-8.3zM385.35 700h8.3v4.3h-8.3zM233.35 704h8.3v4.3h-8.3zM245.35 704h12.3v4.3h-12.3zM301.35 704h8.3v4.3h-8.3zM329.35 704h8.3v4.3h-8.3zM381.35 704h8.3v4.3h-8.3zM229.35 708h8.3v4.3h-8.3zM341.35 708h16.3v4.3h-16.3zM361.35 708h24.3v4.3h-24.3zM229.35 712h4.3v4.3h-4.3zM229.35 716h4.3v4.3h-4.3zM229.35 720h4.3v4.3h-4.3zM229.35 724h8.3v4.3h-8.3zM229.35 728h8.3v4.3h-8.3zM229.35 732h8.3v4.3h-8.3zM229.35 736h4.3v4.3h-4.3zM225.35 740h8.3v4.3h-8.3zM229.35 744h4.3v4.3h-4.3z"/>
<path fill="#f6e835" d="M217.35 424h4.3v4.3h-4.3zM217.35 428h8.3v4.3h-8.3zM217.35 432h8.3v4.3h-8.3zM217.35 436h8.3v4.3h-8.3zM217.35 440h8.3v4.3h-8.3zM321.35 440h8.3v4.3h-8.3zM333.35 440h4.3v4.3h-4.3zM217.35 444h8.3v4.3h-8.3zM317.35 444h4.3v4.3h-4.3zM337.35 444h4.3v4.3h-4.3zM221.35 448h4.3v4.3h-4.3zM317.35 448h4.3v4.3h-4.3zM221.35 452h8.3v4.3h-8.3zM313.35 452h4.3v4.3h-4.3zM337.35 452h4.3v4.3h-4.3zM225.35 456h8.3v4.3h-8.3zM313.35 456h8.3v4.3h-8.3zM337.35 456h4.3v4.3h-4.3zM229.35 460h8.3v4.3h-8.3zM317.35 460h4.3v4.3h-4.3zM337.35 460h4.3v4.3h-4.3zM233.35 464h8.3v4.3h-8.3zM317.35 464h8.3v4.3h-8.3zM333.35 464h8.3v4.3h-8.3zM233.35 468h8.3v4.3h-8.3zM325.35 468h12.3v4.3h-12.3zM237.35 472h4.3v4.3h-4.3zM237.35 476h8.3v4.3h-8.3zM237.35 480h8.3v4.3h-8.3zM237.35 484h8.3v4.3h-8.3zM237.35 488h8.3v4.3h-8.3zM237.35 492h8.3v4.3h-8.3zM237.35 496h8.3v4.3h-8.3zM125.35 500h4.3v4.3h-4.3zM237.35 500h8.3v4.3h-8.3zM125.35 504h8.3v4.3h-8.3zM237.35 504h8.3v4.3h-8.3zM129.35 508h4.3v4.3h-4.3zM233.35 508h12.3v4.3h-12.3zM133.35 512h4.3v4.3h-4.3zM233.35 512h12.3v4.3h-12.3zM133.35 516h8.3v4.3h-8.3zM233.35 516h12.3v4.3h-12.3zM137.35 520h4.3v4.3h-4.3zM237.35 520h8.3v4.3h-8.3zM137.35 524h4.3v4.3h-4.3zM237.35 524h8.3v4.3h-8.3zM137.35 528h4.3v4.3h-4.3zM237.35 528h8.3v4.3h-8.3zM137.35 532h4.3v4.3h-4.3zM237.35 532h8.3v4.3h-8.3zM137.35 536h4.3v4.3h-4.3zM241.35 536h4.3v4.3h-4.3zM133.35 540h8.3v4.3h-8.3zM241.35 540h8.3v4.3h-8.3zM125.35 544h12.3v4.3h-12.3zM241.35 544h8.3v4.3h-8.3zM121.35 548h12.3v4.3h-12.3zM241.35 548h12.3v4.3h-12.3zM117.35 552h8.3v4.3h-8.3zM245.35 552h16.3v4.3h-16.3zM117.35 556h8.3v4.3h-8.3zM253.35 556h16.3v4.3h-16.3zM117.35 560h12.3v4.3h-12.3zM265.35 560h4.3v4.3h-4.3zM121.35 564h12.3v4.3h-12.3zM265.35 564h8.3v4.3h-8.3zM125.35 568h8.3v4.3h-8.3zM269.35 568h4.3v4.3h-4.3zM129.35 572h8.3v4.3h-8.3zM269.35 572h4.3v4.3h-4.3zM129.35 576h8.3v4.3h-8.3zM129.35 580h12.3v4.3h-12.3zM273.35 580h4.3v4.3h-4.3zM129.35 584h12.3v4.3h-12.3zM225.35 584h20.3v4.3h-20.3zM129.35 588h8.3v4.3h-8.3zM221.35 588h8.3v4.3h-8.3zM249.35 588h28.3v4.3h-28.3zM125.35 592h12.3v4.3h-12.3zM221.35 592h4.3v4.3h-4.3zM261.35 592h12.3v4.3h-12.3zM121.35 596h16.3v4.3h-16.3zM217.35 596h4.3v4.3h-4.3zM265.35 596h8.3v4.3h-8.3zM121.35 600h12.3v4.3h-12.3zM217.35 600h4.3v4.3h-4.3zM269.35 600h4.3v4.3h-4.3zM117.35 604h16.3v4.3h-16.3zM213.35 604h4.3v4.3h-4.3zM117.35 608h12.3v4.3h-12.3zM213.35 608h4.3v4.3h-4.3zM117.35 612h12.3v4.3h-12.3zM117.35 616h16.3v4.3h-16.3zM209.35 616h4.3v4.3h-4.3zM121.35 620h56.3v4.3h-56.3zM201.35 620h12.3v4.3h-12.3zM121.35 624h36.3v4.3h-36.3zM121.35 628h24.3v4.3h-24.3zM121.35 632h16.3v4.3h-16.3zM401.35 688h4.3v4.3h-4.3zM389.35 692h8.3v4.3h-8.3zM381.35 696h8.3v4.3h-8.3zM233.35 700h16.3v4.3h-16.3zM373.35 700h12.3v4.3h-12.3zM229.35 704h4.3v4.3h-4.3zM257.35 704h44.3v4.3h-44.3zM309.35 704h20.3v4.3h-20.3zM337.35 704h8.3v4.3h-8.3zM353.35 704h28.3v4.3h-28.3zM225.35 708h4.3v4.3h-4.3zM357.35 708h4.3v4.3h-4.3zM225.35 712h4.3v4.3h-4.3zM225.35 716h4.3v4.3h-4.3zM225.35 720h4.3v4.3h-4.3zM225.35 724h4.3v4.3h-4.3zM221.35 728h8.3v4.3h-8.3zM221.35 732h8.3v4.3h-8.3zM213.35 736h16.3v4.3h-16.3zM217.35 740h8.3v4.3h-8.3z"/>
<path fill="#fce82c" d="M221.35 424h8.3v4.3h-8.3zM225.35 428h4.3v4.3h-4.3zM225.35 432h4.3v4.3h-4.3zM225.35 436h4.3v4.3h-4.3zM321.35 436h20.3v4.3h-20.3zM225.35 440h4.3v4.3h-4.3zM317.35 440h4.3v4.3h-4.3zM337.35 440h8.3v4.3h-8.3zM225.35 444h4.3v4.3h-4.3zM313.35 444h4.3v4.3h-4.3zM341.35 444h4.3v4.3h-4.3zM225.35 448h8.3v4.3h-8.3zM313.35 448h4.3v4.3h-4.3zM341.35 448h4.3v4.3h-4.3zM229.35 452h8.3v4.3h-8.3zM309.35 452h4.3v4.3h-4.3zM341.35 452h4.3v4.3h-4.3zM233.35 456h8.3v4.3h-8.3zM309.35 456h4.3v4.3h-4.3zM341.35 456h4.3v4.3h-4.3zM237.35 460h8.3v4.3h-8.3zM313.35 460h4.3v4.3h-4.3zM341.35 460h4.3v4.3h-4.3zM241.35 464h4.3v4.3h-4.3zM313.35 464h4.3v4.3h-4.3zM341.35 464h4.3v4.3h-4.3zM241.35 468h8.3v4.3h-8.3zM317.35 468h8.3v4.3h-8.3zM337.35 468h8.3v4.3h-8.3zM241.35 472h8.3v4.3h-8.3zM325.35 472h16.3v4.3h-16.3zM245.35 476h4.3v4.3h-4.3zM245.35 480h4.3v4.3h-4.3zM245.35 484h4.3v4.3h-4.3zM245.35 488h4.3v4.3h-4.3zM245.35 492h8.3v4.3h-8.3zM245.35 496h8.3v4.3h-8.3zM245.35 500h8.3v4.3h-8.3zM245.35 504h8.3v4.3h-8.3zM121.35 508h8.3v4.3h-8.3zM245.35 508h8.3v4.3h-8.3zM125.35 512h8.3v4.3h-8.3zM245.35 512h8.3v4.3h-8.3zM129.35 516h4.3v4.3h-4.3zM245.35 516h8.3v4.3h-8.3zM133.35 520h4.3v4.3h-4.3zM245.35 520h8.3v4.3h-8.3zM133.35 524h4.3v4.3h-4.3zM245.35 524h8.3v4.3h-8.3zM133.35 528h4.3v4.3h-4.3zM245.35 528h8.3v4.3h-8.3zM133.35 532h4.3v4.3h-4.3zM245.35 532h8.3v4.3h-8.3zM129.35 536h8.3v4.3h-8.3zM245.35 536h8.3v4.3h-8.3zM121.35 540h12.3v4.3h-12.3zM249.35 540h4.3v4.3h-4.3zM113.35 544h12.3v4.3h-12.3zM249.35 544h8.3v4.3h-8.3zM109.35 548h12.3v4.3h-12.3zM253.35 548h8.3v4.3h-8.3zM109.35 552h8.3v4.3h-8.3zM261.35 552h12.3v4.3h-12.3zM109.35 556h8.3v4.3h-8.3zM269.35 556h4.3v4.3h-4.3zM109.35 560h8.3v4.3h-8.3zM269.35 560h4.3v4.3h-4.3zM109.35 564h12.3v4.3h-12.3zM113.35 568h12.3v4.3h-12.3zM117.35 572h12.3v4.3h-12.3zM121.35 576h8.3v4.3h-8.3zM273.35 576h4.3v4.3h-4.3zM121.35 580h8.3v4.3h-8.3zM121.35 584h8.3v4.3h-8.3zM277.35 584h4.3v4.3h-4.3zM113.35 588h16.3v4.3h-16.3zM229.35 588h20.3v4.3h-20.3zM277.35 588h4.3v4.3h-4.3zM109.35 592h16.3v4.3h-16.3zM225.35 592h4.3v4.3h-4.3zM253.35 592h8.3v4.3h-8.3zM273.35 592h4.3v4.3h-4.3zM109.35 596h12.3v4.3h-12.3zM221.35 596h4.3v4.3h-4.3zM261.35 596h4.3v4.3h-4.3zM273.35 596h4.3v4.3h-4.3zM105.35 600h16.3v4.3h-16.3zM265.35 600h4.3v4.3h-4.3zM273.35 600h4.3v4.3h-4.3zM105.35 604h12.3v4.3h-12.3zM217.35 604h4.3v4.3h-4.3zM265.35 604h8.3v4.3h-8.3zM109.35 608h8.3v4.3h-8.3zM109.35 612h8.3v4.3h-8.3zM213.35 612h4.3v4.3h-4.3zM109.35 616h8.3v4.3h-8.3zM213.35 616h4.3v4.3h-4.3zM109.35 620h12.3v4.3h-12.3zM213.35 620h4.3v4.3h-4.3zM109.35 624h12.3v4.3h-12.3zM157.35 624h56.3v4.3h-56.3zM113.35 628h8.3v4.3h-8.3zM145.35 628h20.3v4.3h-20.3zM201.35 628h12.3v4.3h-12.3zM113.35 632h8.3v4.3h-8.3zM137.35 632h20.3v4.3h-20.3zM113.35 636h36.3v4.3h-36.3zM117.35 640h32.3v4.3h-32.3zM117.35 644h32.3v4.3h-32.3zM117.35 648h32.3v4.3h-32.3zM121.35 652h28.3v4.3h-28.3zM121.35 656h28.3v4.3h-28.3zM125.35 660h24.3v4.3h-24.3zM125.35 664h24.3v4.3h-24.3zM129.35 668h20.3v4.3h-20.3zM133.35 672h16.3v4.3h-16.3zM133.35 676h20.3v4.3h-20.3zM409.35 676h4.3v4.3h-4.3zM137.35 680h20.3v4.3h-20.3zM405.35 680h4.3v4.3h-4.3zM141.35 684h20.3v4.3h-20.3zM401.35 684h4.3v4.3h-4.3zM141.35 688h24.3v4.3h-24.3zM393.35 688h8.3v4.3h-8.3zM145.35 692h24.3v4.3h-24.3zM381.35 692h8.3v4.3h-8.3zM149.35 696h24.3v4.3h-24.3zM237.35 696h4.3v4.3h-4.3zM373.35 696h8.3v4.3h-8.3zM153.35 700h24.3v4.3h-24.3zM229.35 700h4.3v4.3h-4.3zM249.35 700h4.3v4.3h-4.3zM269.35 700h16.3v4.3h-16.3zM301.35 700h12.3v4.3h-12.3zM325.35 700h20.3v4.3h-20.3zM353.35 700h20.3v4.3h-20.3zM157.35 704h24.3v4.3h-24.3zM225.35 704h4.3v4.3h-4.3zM345.35 704h8.3v4.3h-8.3zM161.35 708h48.3v4.3h-48.3zM221.35 708h4.3v4.3h-4.3zM165.35 712h60.3v4.3h-60.3zM173.35 716h52.3v4.3h-52.3zM177.35 720h48.3v4.3h-48.3zM185.35 724h40.3v4.3h-40.3zM189.35 728h32.3v4.3h-32.3zM197.35 732h24.3v4.3h-24.3zM205.35 736h8.3v4.3h-8.3z"/>
<path fill="#fde22a" d="M229.35 420h12.3v4.3h-12.3zM229.35 424h8.3v4.3h-8.3zM229.35 428h8.3v4.3h-8.3zM329.35 428h4.3v4.3h-4.3zM229.35 432h8.3v4.3h-8.3zM321.35 432h20.3v4.3h-20.3zM229.35 436h4.3v4.3h-4.3zM313.35 436h8.3v4.3h-8.3zM341.35 436h4.3v4.3h-4.3zM229.35 440h4.3v4.3h-4.3zM313.35 440h4.3v4.3h-4.3zM345.35 440h4.3v4.3h-4.3zM229.35 444h8.3v4.3h-8.3zM309.35 444h4.3v4.3h-4.3zM345.35 444h4.3v4.3h-4.3zM233.35 448h8.3v4.3h-8.3zM309.35 448h4.3v4.3h-4.3zM345.35 448h4.3v4.3h-4.3zM237.35 452h8.3v4.3h-8.3zM345.35 452h4.3v4.3h-4.3zM241.35 456h8.3v4.3h-8.3zM345.35 456h4.3v4.3h-4.3zM245.35 460h8.3v4.3h-8.3zM309.35 460h4.3v4.3h-4.3zM345.35 460h4.3v4.3h-4.3zM245.35 464h8.3v4.3h-8.3zM309.35 464h4.3v4.3h-4.3zM345.35 464h4.3v4.3h-4.3zM249.35 468h8.3v4.3h-8.3zM313.35 468h4.3v4.3h-4.3zM345.35 468h4.3v4.3h-4.3zM249.35 472h8.3v4.3h-8.3zM317.35 472h8.3v4.3h-8.3zM341.35 472h8.3v4.3h-8.3zM249.35 476h8.3v4.3h-8.3zM321.35 476h24.3v4.3h-24.3zM249.35 480h8.3v4.3h-8.3zM249.35 484h8.3v4.3h-8.3zM249.35 488h8.3v4.3h-8.3zM253.35 492h8.3v4.3h-8.3zM253.35 496h12.3v4.3h-12.3zM253.35 500h12.3v4.3h-12.3zM253.35 504h12.3v4.3h-12.3zM253.35 508h12.3v4.3h-12.3zM121.35 512h4.3v4.3h-4.3zM253.35 512h8.3v4.3h-8.3zM121.35 516h8.3v4.3h-8.3zM253.35 516h8.3v4.3h-8.3zM121.35 520h12.3v4.3h-12.3zM253.35 520h4.3v4.3h-4.3zM125.35 524h8.3v4.3h-8.3zM253.35 524h4.3v4.3h-4.3zM125.35 528h8.3v4.3h-8.3zM253.35 528h4.3v4.3h-4.3zM117.35 532h16.3v4.3h-16.3zM253.35 532h4.3v4.3h-4.3zM113.35 536h16.3v4.3h-16.3zM253.35 536h4.3v4.3h-4.3zM109.35 540h12.3v4.3h-12.3zM253.35 540h8.3v4.3h-8.3zM109.35 544h4.3v4.3h-4.3zM257.35 544h8.3v4.3h-8.3zM261.35 548h12.3v4.3h-12.3zM273.35 552h4.3v4.3h-4.3zM273.35 556h4.3v4.3h-4.3zM105.35 560h4.3v4.3h-4.3zM273.35 560h4.3v4.3h-4.3zM105.35 564h4.3v4.3h-4.3zM273.35 564h4.3v4.3h-4.3zM105.35 568h8.3v4.3h-8.3zM273.35 568h4.3v4.3h-4.3zM105.35 572h12.3v4.3h-12.3zM273.35 572h4.3v4.3h-4.3zM105.35 576h16.3v4.3h-16.3zM105.35 580h16.3v4.3h-16.3zM277.35 580h4.3v4.3h-4.3zM105.35 584h16.3v4.3h-16.3zM105.35 588h8.3v4.3h-8.3zM105.35 592h4.3v4.3h-4.3zM229.35 592h24.3v4.3h-24.3zM277.35 592h4.3v4.3h-4.3zM105.35 596h4.3v4.3h-4.3zM225.35 596h4.3v4.3h-4.3zM257.35 596h4.3v4.3h-4.3zM277.35 596h4.3v4.3h-4.3zM221.35 600h4.3v4.3h-4.3zM261.35 600h4.3v4.3h-4.3zM277.35 600h4.3v4.3h-4.3zM221.35 604h4.3v4.3h-4.3zM261.35 604h4.3v4.3h-4.3zM273.35 604h4.3v4.3h-4.3zM217.35 608h4.3v4.3h-4.3zM217.35 612h4.3v4.3h-4.3zM213.35 624h4.3v4.3h-4.3zM165.35 628h36.3v4.3h-36.3zM213.35 628h4.3v4.3h-4.3zM157.35 632h8.3v4.3h-8.3zM197.35 632h20.3v4.3h-20.3zM149.35 636h12.3v4.3h-12.3zM201.35 636h16.3v4.3h-16.3zM149.35 640h8.3v4.3h-8.3zM205.35 640h12.3v4.3h-12.3zM149.35 644h8.3v4.3h-8.3zM209.35 644h4.3v4.3h-4.3zM149.35 648h8.3v4.3h-8.3zM149.35 652h8.3v4.3h-8.3zM149.35 656h8.3v4.3h-8.3zM149.35 660h8.3v4.3h-8.3zM149.35 664h8.3v4.3h-8.3zM417.35 664h4.3v4.3h-4.3zM149.35 668h8.3v4.3h-8.3zM413.35 668h4.3v4.3h-4.3zM149.35 672h12.3v4.3h-12.3zM409.35 672h4.3v4.3h-4.3zM153.35 676h8.3v4.3h-8.3zM405.35 676h4.3v4.3h-4.3zM157.35 680h8.3v4.3h-8.3zM401.35 680h4.3v4.3h-4.3zM161.35 684h12.3v4.3h-12.3zM397.35 684h4.3v4.3h-4.3zM165.35 688h12.3v4.3h-12.3zM389.35 688h4.3v4.3h-4.3zM169.35 692h12.3v4.3h-12.3zM377.35 692h4.3v4.3h-4.3zM173.35 696h16.3v4.3h-16.3zM233.35 696h4.3v4.3h-4.3zM241.35 696h8.3v4.3h-8.3zM329.35 696h8.3v4.3h-8.3zM353.35 696h20.3v4.3h-20.3zM177.35 700h28.3v4.3h-28.3zM225.35 700h4.3v4.3h-4.3zM253.35 700h16.3v4.3h-16.3zM285.35 700h16.3v4.3h-16.3zM313.35 700h12.3v4.3h-12.3zM345.35 700h8.3v4.3h-8.3zM181.35 704h44.3v4.3h-44.3zM209.35 708h12.3v4.3h-12.3z"/>
<path fill="#fcd72a" d="M249.35 416h4.3v4.3h-4.3zM241.35 420h12.3v4.3h-12.3zM237.35 424h16.3v4.3h-16.3zM321.35 424h8.3v4.3h-8.3zM237.35 428h16.3v4.3h-16.3zM277.35 428h8.3v4.3h-8.3zM313.35 428h16.3v4.3h-16.3zM333.35 428h8.3v4.3h-8.3zM237.35 432h12.3v4.3h-12.3zM273.35 432h12.3v4.3h-12.3zM313.35 432h8.3v4.3h-8.3zM341.35 432h8.3v4.3h-8.3zM233.35 436h12.3v4.3h-12.3zM273.35 436h12.3v4.3h-12.3zM309.35 436h4.3v4.3h-4.3zM345.35 436h4.3v4.3h-4.3zM233.35 440h8.3v4.3h-8.3zM277.35 440h4.3v4.3h-4.3zM305.35 440h8.3v4.3h-8.3zM349.35 440h4.3v4.3h-4.3zM237.35 444h12.3v4.3h-12.3zM305.35 444h4.3v4.3h-4.3zM349.35 444h4.3v4.3h-4.3zM241.35 448h12.3v4.3h-12.3zM305.35 448h4.3v4.3h-4.3zM349.35 448h4.3v4.3h-4.3zM245.35 452h12.3v4.3h-12.3zM301.35 452h8.3v4.3h-8.3zM349.35 452h4.3v4.3h-4.3zM249.35 456h12.3v4.3h-12.3zM305.35 456h4.3v4.3h-4.3zM349.35 456h4.3v4.3h-4.3zM253.35 460h12.3v4.3h-12.3zM305.35 460h4.3v4.3h-4.3zM349.35 460h8.3v4.3h-8.3zM253.35 464h12.3v4.3h-12.3zM305.35 464h4.3v4.3h-4.3zM349.35 464h4.3v4.3h-4.3zM257.35 468h12.3v4.3h-12.3zM309.35 468h4.3v4.3h-4.3zM349.35 468h4.3v4.3h-4.3zM257.35 472h12.3v4.3h-12.3zM309.35 472h8.3v4.3h-8.3zM349.35 472h4.3v4.3h-4.3zM257.35 476h12.3v4.3h-12.3zM313.35 476h8.3v4.3h-8.3zM345.35 476h8.3v4.3h-8.3zM257.35 480h12.3v4.3h-12.3zM321.35 480h28.3v4.3h-28.3zM257.35 484h12.3v4.3h-12.3zM257.35 488h12.3v4.3h-12.3zM261.35 492h12.3v4.3h-12.3zM265.35 496h8.3v4.3h-8.3zM265.35 500h12.3v4.3h-12.3zM265.35 504h12.3v4.3h-12.3zM265.35 508h8.3v4.3h-8.3zM261.35 512h8.3v4.3h-8.3zM117.35 516h4.3v4.3h-4.3zM261.35 516h4.3v4.3h-4.3zM117.35 520h4.3v4.3h-4.3zM257.35 520h8.3v4.3h-8.3zM117.35 524h8.3v4.3h-8.3zM257.35 524h8.3v4.3h-8.3zM113.35 528h12.3v4.3h-12.3zM257.35 528h8.3v4.3h-8.3zM113.35 532h4.3v4.3h-4.3zM257.35 532h8.3v4.3h-8.3zM257.35 536h8.3v4.3h-8.3zM261.35 540h4.3v4.3h-4.3zM265.35 544h4.3v4.3h-4.3zM273.35 548h4.3v4.3h-4.3zM277.35 552h4.3v4.3h-4.3zM277.35 556h4.3v4.3h-4.3zM277.35 560h4.3v4.3h-4.3zM277.35 564h4.3v4.3h-4.3zM277.35 568h4.3v4.3h-4.3zM277.35 572h4.3v4.3h-4.3zM277.35 576h4.3v4.3h-4.3zM281.35 584h4.3v4.3h-4.3zM281.35 588h4.3v4.3h-4.3zM281.35 592h4.3v4.3h-4.3zM229.35 596h8.3v4.3h-8.3zM249.35 596h8.3v4.3h-8.3zM225.35 600h4.3v4.3h-4.3zM257.35 600h4.3v4.3h-4.3zM277.35 604h4.3v4.3h-4.3zM221.35 608h4.3v4.3h-4.3zM265.35 608h8.3v4.3h-8.3zM217.35 616h4.3v4.3h-4.3zM217.35 620h4.3v4.3h-4.3zM217.35 624h4.3v4.3h-4.3zM165.35 632h16.3v4.3h-16.3zM185.35 632h12.3v4.3h-12.3zM217.35 632h4.3v4.3h-4.3zM161.35 636h8.3v4.3h-8.3zM197.35 636h4.3v4.3h-4.3zM217.35 636h4.3v4.3h-4.3zM157.35 640h8.3v4.3h-8.3zM201.35 640h4.3v4.3h-4.3zM217.35 640h4.3v4.3h-4.3zM157.35 644h4.3v4.3h-4.3zM205.35 644h4.3v4.3h-4.3zM213.35 644h8.3v4.3h-8.3zM157.35 648h4.3v4.3h-4.3zM209.35 648h8.3v4.3h-8.3zM157.35 652h4.3v4.3h-4.3zM157.35 656h4.3v4.3h-4.3zM421.35 656h4.3v4.3h-4.3zM157.35 660h4.3v4.3h-4.3zM413.35 660h8.3v4.3h-8.3zM157.35 664h4.3v4.3h-4.3zM413.35 664h4.3v4.3h-4.3zM157.35 668h4.3v4.3h-4.3zM409.35 668h4.3v4.3h-4.3zM161.35 672h4.3v4.3h-4.3zM161.35 676h8.3v4.3h-8.3zM165.35 680h12.3v4.3h-12.3zM173.35 684h8.3v4.3h-8.3zM393.35 684h4.3v4.3h-4.3zM177.35 688h12.3v4.3h-12.3zM381.35 688h8.3v4.3h-8.3zM181.35 692h16.3v4.3h-16.3zM357.35 692h20.3v4.3h-20.3zM189.35 696h16.3v4.3h-16.3zM225.35 696h8.3v4.3h-8.3zM249.35 696h4.3v4.3h-4.3zM277.35 696h8.3v4.3h-8.3zM325.35 696h4.3v4.3h-4.3zM337.35 696h16.3v4.3h-16.3zM205.35 700h20.3v4.3h-20.3z"/>
<path fill="#fccb2a" d="M253.35 416h44.3v4.3h-44.3zM253.35 420h64.3v4.3h-64.3zM253.35 424h68.3v4.3h-68.3zM253.35 428h8.3v4.3h-8.3zM269.35 428h8.3v4.3h-8.3zM285.35 428h28.3v4.3h-28.3zM249.35 432h12.3v4.3h-12.3zM285.35 432h28.3v4.3h-28.3zM245.35 436h16.3v4.3h-16.3zM285.35 436h24.3v4.3h-24.3zM349.35 436h8.3v4.3h-8.3zM241.35 440h20.3v4.3h-20.3zM269.35 440h8.3v4.3h-8.3zM281.35 440h24.3v4.3h-24.3zM353.35 440h4.3v4.3h-4.3zM249.35 444h56.3v4.3h-56.3zM353.35 444h8.3v4.3h-8.3zM253.35 448h32.3v4.3h-32.3zM297.35 448h8.3v4.3h-8.3zM353.35 448h8.3v4.3h-8.3zM257.35 452h24.3v4.3h-24.3zM297.35 452h4.3v4.3h-4.3zM353.35 452h8.3v4.3h-8.3zM261.35 456h16.3v4.3h-16.3zM297.35 456h8.3v4.3h-8.3zM353.35 456h8.3v4.3h-8.3zM265.35 460h12.3v4.3h-12.3zM297.35 460h8.3v4.3h-8.3zM357.35 460h4.3v4.3h-4.3zM265.35 464h12.3v4.3h-12.3zM301.35 464h4.3v4.3h-4.3zM353.35 464h8.3v4.3h-8.3zM269.35 468h8.3v4.3h-8.3zM305.35 468h4.3v4.3h-4.3zM353.35 468h8.3v4.3h-8.3zM269.35 472h8.3v4.3h-8.3zM305.35 472h4.3v4.3h-4.3zM353.35 472h8.3v4.3h-8.3zM269.35 476h8.3v4.3h-8.3zM309.35 476h4.3v4.3h-4.3zM353.35 476h4.3v4.3h-4.3zM269.35 480h8.3v4.3h-8.3zM313.35 480h8.3v4.3h-8.3zM349.35 480h8.3v4.3h-8.3zM269.35 484h8.3v4.3h-8.3zM321.35 484h32.3v4.3h-32.3zM269.35 488h8.3v4.3h-8.3zM273.35 492h8.3v4.3h-8.3zM273.35 496h8.3v4.3h-8.3zM277.35 500h4.3v4.3h-4.3zM277.35 504h4.3v4.3h-4.3zM273.35 508h4.3v4.3h-4.3zM269.35 512h4.3v4.3h-4.3zM265.35 516h8.3v4.3h-8.3zM265.35 520h4.3v4.3h-4.3zM265.35 524h4.3v4.3h-4.3zM265.35 528h4.3v4.3h-4.3zM265.35 532h4.3v4.3h-4.3zM265.35 536h4.3v4.3h-4.3zM265.35 540h8.3v4.3h-8.3zM269.35 544h8.3v4.3h-8.3zM277.35 548h4.3v4.3h-4.3zM281.35 552h4.3v4.3h-4.3zM281.35 556h4.3v4.3h-4.3zM281.35 560h4.3v4.3h-4.3zM281.35 564h4.3v4.3h-4.3zM281.35 568h4.3v4.3h-4.3zM281.35 572h4.3v4.3h-4.3zM281.35 576h4.3v4.3h-4.3zM281.35 580h4.3v4.3h-4.3zM237.35 596h12.3v4.3h-12.3zM281.35 596h4.3v4.3h-4.3zM229.35 600h4.3v4.3h-4.3zM253.35 600h4.3v4.3h-4.3zM281.35 600h4.3v4.3h-4.3zM225.35 604h4.3v4.3h-4.3zM257.35 604h4.3v4.3h-4.3zM281.35 604h4.3v4.3h-4.3zM261.35 608h4.3v4.3h-4.3zM273.35 608h12.3v4.3h-12.3zM221.35 612h4.3v4.3h-4.3zM217.35 628h4.3v4.3h-4.3zM181.35 632h4.3v4.3h-4.3zM169.35 636h8.3v4.3h-8.3zM189.35 636h8.3v4.3h-8.3zM165.35 640h4.3v4.3h-4.3zM197.35 640h4.3v4.3h-4.3zM161.35 644h8.3v4.3h-8.3zM197.35 644h8.3v4.3h-8.3zM161.35 648h4.3v4.3h-4.3zM201.35 648h8.3v4.3h-8.3zM217.35 648h4.3v4.3h-4.3zM161.35 652h4.3v4.3h-4.3zM205.35 652h12.3v4.3h-12.3zM421.35 652h4.3v4.3h-4.3zM161.35 656h4.3v4.3h-4.3zM417.35 656h4.3v4.3h-4.3zM161.35 660h4.3v4.3h-4.3zM161.35 664h4.3v4.3h-4.3zM409.35 664h4.3v4.3h-4.3zM161.35 668h8.3v4.3h-8.3zM165.35 672h8.3v4.3h-8.3zM405.35 672h4.3v4.3h-4.3zM169.35 676h8.3v4.3h-8.3zM401.35 676h4.3v4.3h-4.3zM177.35 680h4.3v4.3h-4.3zM397.35 680h4.3v4.3h-4.3zM181.35 684h8.3v4.3h-8.3zM389.35 684h4.3v4.3h-4.3zM189.35 688h8.3v4.3h-8.3zM377.35 688h4.3v4.3h-4.3zM197.35 692h8.3v4.3h-8.3zM229.35 692h16.3v4.3h-16.3zM349.35 692h8.3v4.3h-8.3zM205.35 696h20.3v4.3h-20.3zM253.35 696h4.3v4.3h-4.3zM269.35 696h8.3v4.3h-8.3zM285.35 696h40.3v4.3h-40.3z"/>
<path fill="#fbc029" d="M261.35 428h8.3v4.3h-8.3zM261.35 432h12.3v4.3h-12.3zM261.35 436h12.3v4.3h-12.3zM261.35 440h8.3v4.3h-8.3zM357.35 440h4.3v4.3h-4.3zM361.35 444h8.3v4.3h-8.3zM285.35 448h12.3v4.3h-12.3zM361.35 448h8.3v4.3h-8.3zM281.35 452h16.3v4.3h-16.3zM361.35 452h8.3v4.3h-8.3zM277.35 456h20.3v4.3h-20.3zM361.35 456h8.3v4.3h-8.3zM277.35 460h20.3v4.3h-20.3zM361.35 460h8.3v4.3h-8.3zM277.35 464h24.3v4.3h-24.3zM361.35 464h8.3v4.3h-8.3zM277.35 468h12.3v4.3h-12.3zM297.35 468h8.3v4.3h-8.3zM361.35 468h4.3v4.3h-4.3zM277.35 472h12.3v4.3h-12.3zM301.35 472h4.3v4.3h-4.3zM361.35 472h4.3v4.3h-4.3zM277.35 476h8.3v4.3h-8.3zM301.35 476h8.3v4.3h-8.3zM357.35 476h8.3v4.3h-8.3zM277.35 480h8.3v4.3h-8.3zM305.35 480h8.3v4.3h-8.3zM357.35 480h8.3v4.3h-8.3zM277.35 484h8.3v4.3h-8.3zM309.35 484h12.3v4.3h-12.3zM353.35 484h12.3v4.3h-12.3zM277.35 488h8.3v4.3h-8.3zM317.35 488h48.3v4.3h-48.3zM281.35 492h4.3v4.3h-4.3zM357.35 492h4.3v4.3h-4.3zM281.35 496h4.3v4.3h-4.3zM281.35 500h4.3v4.3h-4.3zM277.35 508h4.3v4.3h-4.3zM273.35 512h4.3v4.3h-4.3zM273.35 516h4.3v4.3h-4.3zM269.35 520h4.3v4.3h-4.3zM269.35 524h4.3v4.3h-4.3zM269.35 528h4.3v4.3h-4.3zM269.35 532h4.3v4.3h-4.3zM269.35 536h8.3v4.3h-8.3zM273.35 540h4.3v4.3h-4.3zM277.35 544h4.3v4.3h-4.3zM281.35 548h4.3v4.3h-4.3zM285.35 552h4.3v4.3h-4.3zM285.35 556h4.3v4.3h-4.3zM285.35 560h4.3v4.3h-4.3zM285.35 564h4.3v4.3h-4.3zM285.35 568h4.3v4.3h-4.3zM285.35 572h4.3v4.3h-4.3zM285.35 576h4.3v4.3h-4.3zM285.35 580h4.3v4.3h-4.3zM285.35 584h4.3v4.3h-4.3zM285.35 588h4.3v4.3h-4.3zM285.35 592h4.3v4.3h-4.3zM233.35 600h20.3v4.3h-20.3zM285.35 600h4.3v4.3h-4.3zM229.35 604h4.3v4.3h-4.3zM253.35 604h4.3v4.3h-4.3zM285.35 604h4.3v4.3h-4.3zM225.35 608h4.3v4.3h-4.3zM257.35 608h4.3v4.3h-4.3zM285.35 608h4.3v4.3h-4.3zM261.35 612h4.3v4.3h-4.3zM281.35 612h4.3v4.3h-4.3zM221.35 616h4.3v4.3h-4.3zM221.35 620h4.3v4.3h-4.3zM221.35 624h4.3v4.3h-4.3zM221.35 632h4.3v4.3h-4.3zM177.35 636h12.3v4.3h-12.3zM221.35 636h4.3v4.3h-4.3zM169.35 640h8.3v4.3h-8.3zM189.35 640h8.3v4.3h-8.3zM221.35 640h4.3v4.3h-4.3zM169.35 644h4.3v4.3h-4.3zM193.35 644h4.3v4.3h-4.3zM221.35 644h4.3v4.3h-4.3zM165.35 648h4.3v4.3h-4.3zM197.35 648h4.3v4.3h-4.3zM221.35 648h4.3v4.3h-4.3zM421.35 648h8.3v4.3h-8.3zM165.35 652h4.3v4.3h-4.3zM201.35 652h4.3v4.3h-4.3zM217.35 652h4.3v4.3h-4.3zM417.35 652h4.3v4.3h-4.3zM165.35 656h4.3v4.3h-4.3zM209.35 656h4.3v4.3h-4.3zM413.35 656h4.3v4.3h-4.3zM165.35 660h4.3v4.3h-4.3zM409.35 660h4.3v4.3h-4.3zM165.35 664h4.3v4.3h-4.3zM169.35 668h4.3v4.3h-4.3zM405.35 668h4.3v4.3h-4.3zM173.35 672h4.3v4.3h-4.3zM401.35 672h4.3v4.3h-4.3zM177.35 676h8.3v4.3h-8.3zM397.35 676h4.3v4.3h-4.3zM181.35 680h12.3v4.3h-12.3zM393.35 680h4.3v4.3h-4.3zM189.35 684h8.3v4.3h-8.3zM385.35 684h4.3v4.3h-4.3zM197.35 688h8.3v4.3h-8.3zM365.35 688h12.3v4.3h-12.3zM205.35 692h8.3v4.3h-8.3zM221.35 692h8.3v4.3h-8.3zM245.35 692h4.3v4.3h-4.3zM277.35 692h8.3v4.3h-8.3zM325.35 692h24.3v4.3h-24.3zM257.35 696h12.3v4.3h-12.3z"/>
<path fill="#f9b629" d="M369.35 448h4.3v4.3h-4.3zM369.35 452h12.3v4.3h-12.3zM369.35 456h16.3v4.3h-16.3zM369.35 460h16.3v4.3h-16.3zM369.35 464h16.3v4.3h-16.3zM289.35 468h8.3v4.3h-8.3zM365.35 468h16.3v4.3h-16.3zM289.35 472h12.3v4.3h-12.3zM365.35 472h16.3v4.3h-16.3zM285.35 476h16.3v4.3h-16.3zM365.35 476h12.3v4.3h-12.3zM285.35 480h20.3v4.3h-20.3zM365.35 480h16.3v4.3h-16.3zM285.35 484h24.3v4.3h-24.3zM365.35 484h16.3v4.3h-16.3zM285.35 488h32.3v4.3h-32.3zM365.35 488h20.3v4.3h-20.3zM285.35 492h8.3v4.3h-8.3zM313.35 492h44.3v4.3h-44.3zM361.35 492h24.3v4.3h-24.3zM285.35 496h4.3v4.3h-4.3zM345.35 496h40.3v4.3h-40.3zM285.35 500h4.3v4.3h-4.3zM349.35 500h32.3v4.3h-32.3zM281.35 504h4.3v4.3h-4.3zM353.35 504h28.3v4.3h-28.3zM281.35 508h4.3v4.3h-4.3zM353.35 508h24.3v4.3h-24.3zM277.35 512h4.3v4.3h-4.3zM353.35 512h20.3v4.3h-20.3zM357.35 516h16.3v4.3h-16.3zM273.35 520h4.3v4.3h-4.3zM273.35 524h4.3v4.3h-4.3zM273.35 528h4.3v4.3h-4.3zM273.35 532h4.3v4.3h-4.3zM277.35 536h4.3v4.3h-4.3zM277.35 540h4.3v4.3h-4.3zM281.35 544h4.3v4.3h-4.3zM285.35 548h4.3v4.3h-4.3zM289.35 552h4.3v4.3h-4.3zM289.35 556h8.3v4.3h-8.3zM289.35 560h8.3v4.3h-8.3zM289.35 564h8.3v4.3h-8.3zM289.35 568h8.3v4.3h-8.3zM289.35 572h4.3v4.3h-4.3zM289.35 576h4.3v4.3h-4.3zM289.35 580h4.3v4.3h-4.3zM285.35 596h4.3v4.3h-4.3zM233.35 604h4.3v4.3h-4.3zM249.35 604h4.3v4.3h-4.3zM253.35 608h4.3v4.3h-4.3zM225.35 612h4.3v4.3h-4.3zM257.35 612h4.3v4.3h-4.3zM265.35 612h4.3v4.3h-4.3zM277.35 612h4.3v4.3h-4.3zM285.35 612h4.3v4.3h-4.3zM221.35 628h4.3v4.3h-4.3zM265.35 632h8.3v4.3h-8.3zM265.35 636h8.3v4.3h-8.3zM177.35 640h12.3v4.3h-12.3zM225.35 640h4.3v4.3h-4.3zM173.35 644h8.3v4.3h-8.3zM185.35 644h8.3v4.3h-8.3zM225.35 644h4.3v4.3h-4.3zM421.35 644h8.3v4.3h-8.3zM169.35 648h8.3v4.3h-8.3zM193.35 648h4.3v4.3h-4.3zM225.35 648h4.3v4.3h-4.3zM265.35 648h4.3v4.3h-4.3zM417.35 648h4.3v4.3h-4.3zM169.35 652h8.3v4.3h-8.3zM197.35 652h4.3v4.3h-4.3zM221.35 652h4.3v4.3h-4.3zM265.35 652h8.3v4.3h-8.3zM413.35 652h4.3v4.3h-4.3zM169.35 656h4.3v4.3h-4.3zM201.35 656h8.3v4.3h-8.3zM213.35 656h8.3v4.3h-8.3zM265.35 656h8.3v4.3h-8.3zM409.35 656h4.3v4.3h-4.3zM169.35 660h4.3v4.3h-4.3zM205.35 660h8.3v4.3h-8.3zM405.35 660h4.3v4.3h-4.3zM169.35 664h8.3v4.3h-8.3zM405.35 664h4.3v4.3h-4.3zM173.35 668h8.3v4.3h-8.3zM401.35 668h4.3v4.3h-4.3zM177.35 672h8.3v4.3h-8.3zM185.35 676h8.3v4.3h-8.3zM393.35 676h4.3v4.3h-4.3zM193.35 680h8.3v4.3h-8.3zM389.35 680h4.3v4.3h-4.3zM197.35 684h8.3v4.3h-8.3zM377.35 684h8.3v4.3h-8.3zM205.35 688h4.3v4.3h-4.3zM229.35 688h16.3v4.3h-16.3zM353.35 688h12.3v4.3h-12.3zM213.35 692h8.3v4.3h-8.3zM249.35 692h4.3v4.3h-4.3zM273.35 692h4.3v4.3h-4.3zM285.35 692h40.3v4.3h-40.3z"/>
<path fill="#f7ac29" d="M385.35 460h4.3v4.3h-4.3zM385.35 464h8.3v4.3h-8.3zM381.35 468h16.3v4.3h-16.3zM381.35 472h20.3v4.3h-20.3zM377.35 476h28.3v4.3h-28.3zM381.35 480h24.3v4.3h-24.3zM381.35 484h28.3v4.3h-28.3zM385.35 488h28.3v4.3h-28.3zM293.35 492h20.3v4.3h-20.3zM385.35 492h28.3v4.3h-28.3zM289.35 496h56.3v4.3h-56.3zM385.35 496h24.3v4.3h-24.3zM289.35 500h8.3v4.3h-8.3zM337.35 500h12.3v4.3h-12.3zM381.35 500h20.3v4.3h-20.3zM285.35 504h8.3v4.3h-8.3zM345.35 504h8.3v4.3h-8.3zM381.35 504h12.3v4.3h-12.3zM285.35 508h4.3v4.3h-4.3zM345.35 508h8.3v4.3h-8.3zM377.35 508h8.3v4.3h-8.3zM281.35 512h4.3v4.3h-4.3zM349.35 512h4.3v4.3h-4.3zM373.35 512h8.3v4.3h-8.3zM277.35 516h4.3v4.3h-4.3zM349.35 516h8.3v4.3h-8.3zM373.35 516h8.3v4.3h-8.3zM277.35 520h4.3v4.3h-4.3zM353.35 520h24.3v4.3h-24.3zM277.35 524h4.3v4.3h-4.3zM361.35 524h8.3v4.3h-8.3zM277.35 528h4.3v4.3h-4.3zM277.35 532h4.3v4.3h-4.3zM281.35 540h4.3v4.3h-4.3zM285.35 544h8.3v4.3h-8.3zM305.35 544h12.3v4.3h-12.3zM289.35 548h32.3v4.3h-32.3zM293.35 552h28.3v4.3h-28.3zM393.35 552h8.3v4.3h-8.3zM297.35 556h20.3v4.3h-20.3zM393.35 556h4.3v4.3h-4.3zM297.35 560h16.3v4.3h-16.3zM297.35 564h8.3v4.3h-8.3zM297.35 568h4.3v4.3h-4.3zM293.35 572h8.3v4.3h-8.3zM293.35 576h8.3v4.3h-8.3zM293.35 580h4.3v4.3h-4.3zM289.35 584h4.3v4.3h-4.3zM289.35 588h4.3v4.3h-4.3zM289.35 600h4.3v4.3h-4.3zM237.35 604h12.3v4.3h-12.3zM289.35 604h4.3v4.3h-4.3zM229.35 608h4.3v4.3h-4.3zM249.35 608h4.3v4.3h-4.3zM289.35 608h4.3v4.3h-4.3zM253.35 612h4.3v4.3h-4.3zM269.35 612h8.3v4.3h-8.3zM289.35 612h4.3v4.3h-4.3zM225.35 616h4.3v4.3h-4.3zM257.35 616h8.3v4.3h-8.3zM281.35 616h8.3v4.3h-8.3zM225.35 620h4.3v4.3h-4.3zM257.35 620h8.3v4.3h-8.3zM261.35 624h4.3v4.3h-4.3zM261.35 628h12.3v4.3h-12.3zM225.35 632h4.3v4.3h-4.3zM261.35 632h4.3v4.3h-4.3zM225.35 636h4.3v4.3h-4.3zM261.35 636h4.3v4.3h-4.3zM429.35 636h4.3v4.3h-4.3zM261.35 640h12.3v4.3h-12.3zM421.35 640h8.3v4.3h-8.3zM181.35 644h4.3v4.3h-4.3zM229.35 644h4.3v4.3h-4.3zM261.35 644h8.3v4.3h-8.3zM417.35 644h4.3v4.3h-4.3zM177.35 648h16.3v4.3h-16.3zM261.35 648h4.3v4.3h-4.3zM269.35 648h4.3v4.3h-4.3zM413.35 648h4.3v4.3h-4.3zM177.35 652h20.3v4.3h-20.3zM225.35 652h4.3v4.3h-4.3zM261.35 652h4.3v4.3h-4.3zM409.35 652h4.3v4.3h-4.3zM173.35 656h8.3v4.3h-8.3zM193.35 656h8.3v4.3h-8.3zM221.35 656h4.3v4.3h-4.3zM261.35 656h4.3v4.3h-4.3zM405.35 656h4.3v4.3h-4.3zM173.35 660h8.3v4.3h-8.3zM197.35 660h8.3v4.3h-8.3zM213.35 660h8.3v4.3h-8.3zM265.35 660h8.3v4.3h-8.3zM177.35 664h4.3v4.3h-4.3zM197.35 664h16.3v4.3h-16.3zM269.35 664h8.3v4.3h-8.3zM181.35 668h20.3v4.3h-20.3zM269.35 668h8.3v4.3h-8.3zM185.35 672h16.3v4.3h-16.3zM273.35 672h4.3v4.3h-4.3zM397.35 672h4.3v4.3h-4.3zM193.35 676h12.3v4.3h-12.3zM201.35 680h4.3v4.3h-4.3zM385.35 680h4.3v4.3h-4.3zM205.35 684h4.3v4.3h-4.3zM369.35 684h8.3v4.3h-8.3zM209.35 688h20.3v4.3h-20.3zM245.35 688h4.3v4.3h-4.3zM333.35 688h20.3v4.3h-20.3zM253.35 692h12.3v4.3h-12.3zM269.35 692h4.3v4.3h-4.3z"/>
<path fill="#f4a32b" d="M409.35 496h8.3v4.3h-8.3zM297.35 500h40.3v4.3h-40.3zM401.35 500h20.3v4.3h-20.3zM293.35 504h52.3v4.3h-52.3zM393.35 504h28.3v4.3h-28.3zM289.35 508h4.3v4.3h-4.3zM337.35 508h8.3v4.3h-8.3zM385.35 508h12.3v4.3h-12.3zM285.35 512h4.3v4.3h-4.3zM341.35 512h8.3v4.3h-8.3zM381.35 512h12.3v4.3h-12.3zM281.35 516h4.3v4.3h-4.3zM341.35 516h8.3v4.3h-8.3zM381.35 516h8.3v4.3h-8.3zM345.35 520h8.3v4.3h-8.3zM377.35 520h8.3v4.3h-8.3zM349.35 524h12.3v4.3h-12.3zM369.35 524h12.3v4.3h-12.3zM357.35 528h16.3v4.3h-16.3zM429.35 528h4.3v4.3h-4.3zM281.35 532h4.3v4.3h-4.3zM429.35 532h4.3v4.3h-4.3zM281.35 536h4.3v4.3h-4.3zM305.35 536h12.3v4.3h-12.3zM425.35 536h8.3v4.3h-8.3zM285.35 540h36.3v4.3h-36.3zM421.35 540h16.3v4.3h-16.3zM293.35 544h12.3v4.3h-12.3zM317.35 544h4.3v4.3h-4.3zM417.35 544h20.3v4.3h-20.3zM321.35 548h4.3v4.3h-4.3zM385.35 548h20.3v4.3h-20.3zM413.35 548h24.3v4.3h-24.3zM321.35 552h4.3v4.3h-4.3zM385.35 552h8.3v4.3h-8.3zM401.35 552h8.3v4.3h-8.3zM413.35 552h24.3v4.3h-24.3zM317.35 556h8.3v4.3h-8.3zM385.35 556h8.3v4.3h-8.3zM397.35 556h8.3v4.3h-8.3zM433.35 556h4.3v4.3h-4.3zM313.35 560h8.3v4.3h-8.3zM389.35 560h12.3v4.3h-12.3zM305.35 564h12.3v4.3h-12.3zM301.35 568h12.3v4.3h-12.3zM301.35 572h8.3v4.3h-8.3zM301.35 576h4.3v4.3h-4.3zM297.35 580h4.3v4.3h-4.3zM293.35 584h4.3v4.3h-4.3zM289.35 592h4.3v4.3h-4.3zM289.35 596h4.3v4.3h-4.3zM233.35 608h4.3v4.3h-4.3zM245.35 608h4.3v4.3h-4.3zM293.35 608h4.3v4.3h-4.3zM229.35 612h4.3v4.3h-4.3zM249.35 612h4.3v4.3h-4.3zM293.35 612h4.3v4.3h-4.3zM253.35 616h4.3v4.3h-4.3zM265.35 616h4.3v4.3h-4.3zM277.35 616h4.3v4.3h-4.3zM289.35 616h4.3v4.3h-4.3zM253.35 620h4.3v4.3h-4.3zM265.35 620h4.3v4.3h-4.3zM285.35 620h4.3v4.3h-4.3zM225.35 624h4.3v4.3h-4.3zM257.35 624h4.3v4.3h-4.3zM265.35 624h8.3v4.3h-8.3zM225.35 628h4.3v4.3h-4.3zM257.35 628h4.3v4.3h-4.3zM257.35 632h4.3v4.3h-4.3zM429.35 632h4.3v4.3h-4.3zM229.35 636h4.3v4.3h-4.3zM421.35 636h8.3v4.3h-8.3zM229.35 640h4.3v4.3h-4.3zM417.35 640h4.3v4.3h-4.3zM257.35 644h4.3v4.3h-4.3zM269.35 644h4.3v4.3h-4.3zM413.35 644h4.3v4.3h-4.3zM229.35 648h4.3v4.3h-4.3zM257.35 648h4.3v4.3h-4.3zM409.35 648h4.3v4.3h-4.3zM229.35 652h4.3v4.3h-4.3zM257.35 652h4.3v4.3h-4.3zM405.35 652h4.3v4.3h-4.3zM181.35 656h12.3v4.3h-12.3zM225.35 656h4.3v4.3h-4.3zM257.35 656h4.3v4.3h-4.3zM181.35 660h16.3v4.3h-16.3zM221.35 660h4.3v4.3h-4.3zM261.35 660h4.3v4.3h-4.3zM273.35 660h4.3v4.3h-4.3zM401.35 660h4.3v4.3h-4.3zM181.35 664h16.3v4.3h-16.3zM213.35 664h8.3v4.3h-8.3zM265.35 664h4.3v4.3h-4.3zM401.35 664h4.3v4.3h-4.3zM201.35 668h16.3v4.3h-16.3zM277.35 668h4.3v4.3h-4.3zM397.35 668h4.3v4.3h-4.3zM201.35 672h12.3v4.3h-12.3zM269.35 672h4.3v4.3h-4.3zM277.35 672h4.3v4.3h-4.3zM393.35 672h4.3v4.3h-4.3zM205.35 676h8.3v4.3h-8.3zM389.35 676h4.3v4.3h-4.3zM205.35 680h8.3v4.3h-8.3zM377.35 680h8.3v4.3h-8.3zM209.35 684h32.3v4.3h-32.3zM349.35 684h20.3v4.3h-20.3zM249.35 688h4.3v4.3h-4.3zM277.35 688h20.3v4.3h-20.3zM321.35 688h12.3v4.3h-12.3zM265.35 692h4.3v4.3h-4.3z"/>
<path fill="#f2992e" d="M293.35 508h44.3v4.3h-44.3zM397.35 508h28.3v4.3h-28.3zM289.35 512h52.3v4.3h-52.3zM393.35 512h32.3v4.3h-32.3zM285.35 516h4.3v4.3h-4.3zM305.35 516h36.3v4.3h-36.3zM389.35 516h8.3v4.3h-8.3zM417.35 516h12.3v4.3h-12.3zM281.35 520h4.3v4.3h-4.3zM309.35 520h36.3v4.3h-36.3zM385.35 520h4.3v4.3h-4.3zM421.35 520h8.3v4.3h-8.3zM281.35 524h4.3v4.3h-4.3zM305.35 524h20.3v4.3h-20.3zM337.35 524h12.3v4.3h-12.3zM381.35 524h8.3v4.3h-8.3zM421.35 524h8.3v4.3h-8.3zM281.35 528h4.3v4.3h-4.3zM305.35 528h20.3v4.3h-20.3zM345.35 528h12.3v4.3h-12.3zM373.35 528h12.3v4.3h-12.3zM421.35 528h8.3v4.3h-8.3zM285.35 532h4.3v4.3h-4.3zM301.35 532h24.3v4.3h-24.3zM357.35 532h28.3v4.3h-28.3zM421.35 532h8.3v4.3h-8.3zM285.35 536h20.3v4.3h-20.3zM317.35 536h8.3v4.3h-8.3zM369.35 536h12.3v4.3h-12.3zM417.35 536h8.3v4.3h-8.3zM321.35 540h4.3v4.3h-4.3zM377.35 540h12.3v4.3h-12.3zM413.35 540h8.3v4.3h-8.3zM321.35 544h8.3v4.3h-8.3zM377.35 544h40.3v4.3h-40.3zM325.35 548h4.3v4.3h-4.3zM377.35 548h8.3v4.3h-8.3zM405.35 548h8.3v4.3h-8.3zM325.35 552h4.3v4.3h-4.3zM377.35 552h8.3v4.3h-8.3zM409.35 552h4.3v4.3h-4.3zM325.35 556h4.3v4.3h-4.3zM377.35 556h8.3v4.3h-8.3zM405.35 556h28.3v4.3h-28.3zM321.35 560h8.3v4.3h-8.3zM381.35 560h8.3v4.3h-8.3zM401.35 560h8.3v4.3h-8.3zM429.35 560h12.3v4.3h-12.3zM317.35 564h8.3v4.3h-8.3zM381.35 564h16.3v4.3h-16.3zM437.35 564h4.3v4.3h-4.3zM313.35 568h8.3v4.3h-8.3zM309.35 572h4.3v4.3h-4.3zM305.35 576h4.3v4.3h-4.3zM301.35 580h4.3v4.3h-4.3zM297.35 584h4.3v4.3h-4.3zM293.35 588h4.3v4.3h-4.3zM293.35 600h4.3v4.3h-4.3zM293.35 604h4.3v4.3h-4.3zM237.35 608h8.3v4.3h-8.3zM233.35 612h4.3v4.3h-4.3zM245.35 612h4.3v4.3h-4.3zM229.35 616h4.3v4.3h-4.3zM249.35 616h4.3v4.3h-4.3zM269.35 616h8.3v4.3h-8.3zM293.35 616h4.3v4.3h-4.3zM229.35 620h4.3v4.3h-4.3zM249.35 620h4.3v4.3h-4.3zM269.35 620h16.3v4.3h-16.3zM289.35 620h8.3v4.3h-8.3zM433.35 620h4.3v4.3h-4.3zM229.35 624h4.3v4.3h-4.3zM253.35 624h4.3v4.3h-4.3zM273.35 624h4.3v4.3h-4.3zM429.35 624h8.3v4.3h-8.3zM229.35 628h4.3v4.3h-4.3zM253.35 628h4.3v4.3h-4.3zM273.35 628h4.3v4.3h-4.3zM425.35 628h8.3v4.3h-8.3zM229.35 632h4.3v4.3h-4.3zM253.35 632h4.3v4.3h-4.3zM421.35 632h8.3v4.3h-8.3zM233.35 636h4.3v4.3h-4.3zM257.35 636h4.3v4.3h-4.3zM417.35 636h4.3v4.3h-4.3zM233.35 640h8.3v4.3h-8.3zM257.35 640h4.3v4.3h-4.3zM413.35 640h4.3v4.3h-4.3zM233.35 644h8.3v4.3h-8.3zM253.35 644h4.3v4.3h-4.3zM409.35 644h4.3v4.3h-4.3zM233.35 648h8.3v4.3h-8.3zM253.35 648h4.3v4.3h-4.3zM405.35 648h4.3v4.3h-4.3zM233.35 652h4.3v4.3h-4.3zM253.35 652h4.3v4.3h-4.3zM273.35 652h4.3v4.3h-4.3zM229.35 656h8.3v4.3h-8.3zM273.35 656h4.3v4.3h-4.3zM401.35 656h4.3v4.3h-4.3zM225.35 660h8.3v4.3h-8.3zM257.35 660h4.3v4.3h-4.3zM221.35 664h8.3v4.3h-8.3zM261.35 664h4.3v4.3h-4.3zM277.35 664h4.3v4.3h-4.3zM397.35 664h4.3v4.3h-4.3zM217.35 668h8.3v4.3h-8.3zM265.35 668h4.3v4.3h-4.3zM393.35 668h4.3v4.3h-4.3zM213.35 672h8.3v4.3h-8.3zM389.35 672h4.3v4.3h-4.3zM213.35 676h8.3v4.3h-8.3zM273.35 676h8.3v4.3h-8.3zM385.35 676h4.3v4.3h-4.3zM213.35 680h20.3v4.3h-20.3zM369.35 680h8.3v4.3h-8.3zM241.35 684h8.3v4.3h-8.3zM281.35 684h8.3v4.3h-8.3zM337.35 684h12.3v4.3h-12.3zM253.35 688h4.3v4.3h-4.3zM269.35 688h8.3v4.3h-8.3zM297.35 688h24.3v4.3h-24.3z"/>
<path fill="#f09030" d="M289.35 516h16.3v4.3h-16.3zM397.35 516h20.3v4.3h-20.3zM285.35 520h8.3v4.3h-8.3zM297.35 520h12.3v4.3h-12.3zM389.35 520h12.3v4.3h-12.3zM409.35 520h12.3v4.3h-12.3zM297.35 524h8.3v4.3h-8.3zM325.35 524h12.3v4.3h-12.3zM389.35 524h8.3v4.3h-8.3zM413.35 524h8.3v4.3h-8.3zM285.35 528h4.3v4.3h-4.3zM293.35 528h12.3v4.3h-12.3zM325.35 528h20.3v4.3h-20.3zM385.35 528h8.3v4.3h-8.3zM413.35 528h8.3v4.3h-8.3zM289.35 532h12.3v4.3h-12.3zM325.35 532h32.3v4.3h-32.3zM385.35 532h8.3v4.3h-8.3zM413.35 532h8.3v4.3h-8.3zM325.35 536h8.3v4.3h-8.3zM353.35 536h16.3v4.3h-16.3zM381.35 536h16.3v4.3h-16.3zM405.35 536h12.3v4.3h-12.3zM325.35 540h8.3v4.3h-8.3zM365.35 540h12.3v4.3h-12.3zM389.35 540h24.3v4.3h-24.3zM329.35 544h4.3v4.3h-4.3zM369.35 544h8.3v4.3h-8.3zM329.35 548h4.3v4.3h-4.3zM373.35 548h4.3v4.3h-4.3zM329.35 552h4.3v4.3h-4.3zM373.35 552h4.3v4.3h-4.3zM329.35 556h4.3v4.3h-4.3zM373.35 556h4.3v4.3h-4.3zM329.35 560h4.3v4.3h-4.3zM373.35 560h8.3v4.3h-8.3zM409.35 560h20.3v4.3h-20.3zM325.35 564h8.3v4.3h-8.3zM377.35 564h4.3v4.3h-4.3zM397.35 564h8.3v4.3h-8.3zM425.35 564h12.3v4.3h-12.3zM321.35 568h8.3v4.3h-8.3zM377.35 568h20.3v4.3h-20.3zM433.35 568h8.3v4.3h-8.3zM313.35 572h12.3v4.3h-12.3zM377.35 572h12.3v4.3h-12.3zM437.35 572h4.3v4.3h-4.3zM309.35 576h4.3v4.3h-4.3zM377.35 576h8.3v4.3h-8.3zM305.35 580h4.3v4.3h-4.3zM377.35 580h8.3v4.3h-8.3zM301.35 584h4.3v4.3h-4.3zM369.35 584h16.3v4.3h-16.3zM297.35 588h4.3v4.3h-4.3zM365.35 588h24.3v4.3h-24.3zM293.35 592h4.3v4.3h-4.3zM357.35 592h32.3v4.3h-32.3zM293.35 596h4.3v4.3h-4.3zM353.35 596h36.3v4.3h-36.3zM353.35 600h32.3v4.3h-32.3zM297.35 604h4.3v4.3h-4.3zM353.35 604h24.3v4.3h-24.3zM437.35 604h4.3v4.3h-4.3zM297.35 608h4.3v4.3h-4.3zM349.35 608h24.3v4.3h-24.3zM237.35 612h8.3v4.3h-8.3zM297.35 612h4.3v4.3h-4.3zM349.35 612h20.3v4.3h-20.3zM433.35 612h4.3v4.3h-4.3zM233.35 616h4.3v4.3h-4.3zM245.35 616h4.3v4.3h-4.3zM297.35 616h4.3v4.3h-4.3zM349.35 616h16.3v4.3h-16.3zM429.35 616h8.3v4.3h-8.3zM233.35 620h4.3v4.3h-4.3zM245.35 620h4.3v4.3h-4.3zM297.35 620h4.3v4.3h-4.3zM349.35 620h12.3v4.3h-12.3zM425.35 620h8.3v4.3h-8.3zM233.35 624h4.3v4.3h-4.3zM245.35 624h8.3v4.3h-8.3zM277.35 624h20.3v4.3h-20.3zM349.35 624h12.3v4.3h-12.3zM421.35 624h8.3v4.3h-8.3zM233.35 628h4.3v4.3h-4.3zM245.35 628h8.3v4.3h-8.3zM349.35 628h12.3v4.3h-12.3zM417.35 628h8.3v4.3h-8.3zM233.35 632h20.3v4.3h-20.3zM273.35 632h4.3v4.3h-4.3zM349.35 632h8.3v4.3h-8.3zM413.35 632h8.3v4.3h-8.3zM237.35 636h20.3v4.3h-20.3zM273.35 636h4.3v4.3h-4.3zM409.35 636h8.3v4.3h-8.3zM241.35 640h16.3v4.3h-16.3zM273.35 640h4.3v4.3h-4.3zM409.35 640h4.3v4.3h-4.3zM241.35 644h12.3v4.3h-12.3zM273.35 644h4.3v4.3h-4.3zM405.35 644h4.3v4.3h-4.3zM241.35 648h12.3v4.3h-12.3zM273.35 648h4.3v4.3h-4.3zM401.35 648h4.3v4.3h-4.3zM237.35 652h16.3v4.3h-16.3zM401.35 652h4.3v4.3h-4.3zM237.35 656h4.3v4.3h-4.3zM253.35 656h4.3v4.3h-4.3zM397.35 656h4.3v4.3h-4.3zM233.35 660h4.3v4.3h-4.3zM277.35 660h4.3v4.3h-4.3zM397.35 660h4.3v4.3h-4.3zM229.35 664h4.3v4.3h-4.3zM257.35 664h4.3v4.3h-4.3zM281.35 664h4.3v4.3h-4.3zM225.35 668h8.3v4.3h-8.3zM281.35 668h4.3v4.3h-4.3zM221.35 672h8.3v4.3h-8.3zM265.35 672h4.3v4.3h-4.3zM281.35 672h4.3v4.3h-4.3zM385.35 672h4.3v4.3h-4.3zM221.35 676h12.3v4.3h-12.3zM269.35 676h4.3v4.3h-4.3zM281.35 676h4.3v4.3h-4.3zM377.35 676h8.3v4.3h-8.3zM233.35 680h12.3v4.3h-12.3zM273.35 680h12.3v4.3h-12.3zM341.35 680h28.3v4.3h-28.3zM249.35 684h4.3v4.3h-4.3zM273.35 684h8.3v4.3h-8.3zM289.35 684h8.3v4.3h-8.3zM321.35 684h16.3v4.3h-16.3zM257.35 688h12.3v4.3h-12.3z"/>
<path fill="#ef8430" d="M293.35 520h4.3v4.3h-4.3zM401.35 520h8.3v4.3h-8.3zM285.35 524h12.3v4.3h-12.3zM397.35 524h16.3v4.3h-16.3zM289.35 528h4.3v4.3h-4.3zM393.35 528h20.3v4.3h-20.3zM393.35 532h20.3v4.3h-20.3zM333.35 536h20.3v4.3h-20.3zM397.35 536h8.3v4.3h-8.3zM333.35 540h12.3v4.3h-12.3zM349.35 540h16.3v4.3h-16.3zM333.35 544h8.3v4.3h-8.3zM361.35 544h8.3v4.3h-8.3zM333.35 548h4.3v4.3h-4.3zM365.35 548h8.3v4.3h-8.3zM333.35 552h4.3v4.3h-4.3zM365.35 552h8.3v4.3h-8.3zM333.35 556h4.3v4.3h-4.3zM369.35 556h4.3v4.3h-4.3zM333.35 560h4.3v4.3h-4.3zM369.35 560h4.3v4.3h-4.3zM333.35 564h4.3v4.3h-4.3zM369.35 564h8.3v4.3h-8.3zM405.35 564h20.3v4.3h-20.3zM329.35 568h8.3v4.3h-8.3zM369.35 568h8.3v4.3h-8.3zM397.35 568h8.3v4.3h-8.3zM425.35 568h8.3v4.3h-8.3zM325.35 572h12.3v4.3h-12.3zM369.35 572h8.3v4.3h-8.3zM389.35 572h8.3v4.3h-8.3zM429.35 572h8.3v4.3h-8.3zM313.35 576h24.3v4.3h-24.3zM369.35 576h8.3v4.3h-8.3zM385.35 576h8.3v4.3h-8.3zM433.35 576h8.3v4.3h-8.3zM309.35 580h4.3v4.3h-4.3zM365.35 580h12.3v4.3h-12.3zM385.35 580h8.3v4.3h-8.3zM433.35 580h8.3v4.3h-8.3zM305.35 584h4.3v4.3h-4.3zM341.35 584h28.3v4.3h-28.3zM385.35 584h8.3v4.3h-8.3zM437.35 584h4.3v4.3h-4.3zM301.35 588h4.3v4.3h-4.3zM341.35 588h24.3v4.3h-24.3zM389.35 588h4.3v4.3h-4.3zM437.35 588h4.3v4.3h-4.3zM297.35 592h4.3v4.3h-4.3zM341.35 592h16.3v4.3h-16.3zM389.35 592h4.3v4.3h-4.3zM437.35 592h4.3v4.3h-4.3zM297.35 596h4.3v4.3h-4.3zM345.35 596h8.3v4.3h-8.3zM389.35 596h4.3v4.3h-4.3zM437.35 596h4.3v4.3h-4.3zM297.35 600h4.3v4.3h-4.3zM345.35 600h8.3v4.3h-8.3zM385.35 600h8.3v4.3h-8.3zM433.35 600h8.3v4.3h-8.3zM301.35 604h4.3v4.3h-4.3zM345.35 604h8.3v4.3h-8.3zM377.35 604h12.3v4.3h-12.3zM433.35 604h4.3v4.3h-4.3zM301.35 608h4.3v4.3h-4.3zM345.35 608h4.3v4.3h-4.3zM373.35 608h8.3v4.3h-8.3zM433.35 608h4.3v4.3h-4.3zM301.35 612h4.3v4.3h-4.3zM345.35 612h4.3v4.3h-4.3zM369.35 612h4.3v4.3h-4.3zM429.35 612h4.3v4.3h-4.3zM237.35 616h8.3v4.3h-8.3zM301.35 616h4.3v4.3h-4.3zM345.35 616h4.3v4.3h-4.3zM365.35 616h4.3v4.3h-4.3zM425.35 616h4.3v4.3h-4.3zM237.35 620h8.3v4.3h-8.3zM301.35 620h4.3v4.3h-4.3zM345.35 620h4.3v4.3h-4.3zM361.35 620h8.3v4.3h-8.3zM421.35 620h4.3v4.3h-4.3zM237.35 624h8.3v4.3h-8.3zM297.35 624h4.3v4.3h-4.3zM345.35 624h4.3v4.3h-4.3zM361.35 624h4.3v4.3h-4.3zM417.35 624h4.3v4.3h-4.3zM237.35 628h8.3v4.3h-8.3zM277.35 628h4.3v4.3h-4.3zM285.35 628h16.3v4.3h-16.3zM345.35 628h4.3v4.3h-4.3zM361.35 628h4.3v4.3h-4.3zM413.35 628h4.3v4.3h-4.3zM345.35 632h4.3v4.3h-4.3zM357.35 632h4.3v4.3h-4.3zM409.35 632h4.3v4.3h-4.3zM345.35 636h12.3v4.3h-12.3zM405.35 636h4.3v4.3h-4.3zM405.35 640h4.3v4.3h-4.3zM401.35 644h4.3v4.3h-4.3zM397.35 648h4.3v4.3h-4.3zM397.35 652h4.3v4.3h-4.3zM241.35 656h12.3v4.3h-12.3zM337.35 656h4.3v4.3h-4.3zM237.35 660h20.3v4.3h-20.3zM281.35 660h4.3v4.3h-4.3zM393.35 660h4.3v4.3h-4.3zM233.35 664h8.3v4.3h-8.3zM393.35 664h4.3v4.3h-4.3zM233.35 668h8.3v4.3h-8.3zM261.35 668h4.3v4.3h-4.3zM285.35 668h4.3v4.3h-4.3zM389.35 668h4.3v4.3h-4.3zM229.35 672h12.3v4.3h-12.3zM285.35 672h4.3v4.3h-4.3zM381.35 672h4.3v4.3h-4.3zM233.35 676h12.3v4.3h-12.3zM285.35 676h4.3v4.3h-4.3zM345.35 676h4.3v4.3h-4.3zM369.35 676h8.3v4.3h-8.3zM245.35 680h4.3v4.3h-4.3zM269.35 680h4.3v4.3h-4.3zM285.35 680h8.3v4.3h-8.3zM333.35 680h8.3v4.3h-8.3zM253.35 684h8.3v4.3h-8.3zM265.35 684h8.3v4.3h-8.3zM297.35 684h24.3v4.3h-24.3z"/>
<path fill="#ef7830" d="M345.35 540h4.3v4.3h-4.3zM341.35 544h20.3v4.3h-20.3zM337.35 548h8.3v4.3h-8.3zM353.35 548h12.3v4.3h-12.3zM337.35 552h8.3v4.3h-8.3zM357.35 552h8.3v4.3h-8.3zM337.35 556h8.3v4.3h-8.3zM361.35 556h8.3v4.3h-8.3zM337.35 560h8.3v4.3h-8.3zM361.35 560h8.3v4.3h-8.3zM337.35 564h8.3v4.3h-8.3zM361.35 564h8.3v4.3h-8.3zM337.35 568h8.3v4.3h-8.3zM361.35 568h8.3v4.3h-8.3zM405.35 568h8.3v4.3h-8.3zM417.35 568h8.3v4.3h-8.3zM337.35 572h12.3v4.3h-12.3zM361.35 572h8.3v4.3h-8.3zM397.35 572h4.3v4.3h-4.3zM425.35 572h4.3v4.3h-4.3zM337.35 576h32.3v4.3h-32.3zM393.35 576h4.3v4.3h-4.3zM429.35 576h4.3v4.3h-4.3zM313.35 580h52.3v4.3h-52.3zM393.35 580h4.3v4.3h-4.3zM429.35 580h4.3v4.3h-4.3zM329.35 584h12.3v4.3h-12.3zM393.35 584h4.3v4.3h-4.3zM429.35 584h8.3v4.3h-8.3zM305.35 588h4.3v4.3h-4.3zM333.35 588h8.3v4.3h-8.3zM393.35 588h4.3v4.3h-4.3zM429.35 588h8.3v4.3h-8.3zM301.35 592h4.3v4.3h-4.3zM337.35 592h4.3v4.3h-4.3zM393.35 592h4.3v4.3h-4.3zM429.35 592h8.3v4.3h-8.3zM301.35 596h4.3v4.3h-4.3zM337.35 596h8.3v4.3h-8.3zM393.35 596h4.3v4.3h-4.3zM429.35 596h8.3v4.3h-8.3zM301.35 600h4.3v4.3h-4.3zM337.35 600h8.3v4.3h-8.3zM393.35 600h4.3v4.3h-4.3zM429.35 600h4.3v4.3h-4.3zM341.35 604h4.3v4.3h-4.3zM389.35 604h4.3v4.3h-4.3zM429.35 604h4.3v4.3h-4.3zM305.35 608h4.3v4.3h-4.3zM341.35 608h4.3v4.3h-4.3zM381.35 608h8.3v4.3h-8.3zM425.35 608h8.3v4.3h-8.3zM305.35 612h4.3v4.3h-4.3zM341.35 612h4.3v4.3h-4.3zM373.35 612h8.3v4.3h-8.3zM421.35 612h8.3v4.3h-8.3zM305.35 616h4.3v4.3h-4.3zM341.35 616h4.3v4.3h-4.3zM369.35 616h8.3v4.3h-8.3zM417.35 616h8.3v4.3h-8.3zM305.35 620h4.3v4.3h-4.3zM341.35 620h4.3v4.3h-4.3zM369.35 620h4.3v4.3h-4.3zM413.35 620h8.3v4.3h-8.3zM301.35 624h4.3v4.3h-4.3zM341.35 624h4.3v4.3h-4.3zM365.35 624h4.3v4.3h-4.3zM409.35 624h8.3v4.3h-8.3zM281.35 628h4.3v4.3h-4.3zM301.35 628h4.3v4.3h-4.3zM341.35 628h4.3v4.3h-4.3zM409.35 628h4.3v4.3h-4.3zM289.35 632h12.3v4.3h-12.3zM341.35 632h4.3v4.3h-4.3zM361.35 632h4.3v4.3h-4.3zM405.35 632h4.3v4.3h-4.3zM341.35 636h4.3v4.3h-4.3zM357.35 636h4.3v4.3h-4.3zM401.35 636h4.3v4.3h-4.3zM277.35 640h4.3v4.3h-4.3zM341.35 640h16.3v4.3h-16.3zM401.35 640h4.3v4.3h-4.3zM277.35 644h4.3v4.3h-4.3zM337.35 644h16.3v4.3h-16.3zM397.35 644h4.3v4.3h-4.3zM277.35 648h4.3v4.3h-4.3zM337.35 648h12.3v4.3h-12.3zM281.35 652h8.3v4.3h-8.3zM333.35 652h16.3v4.3h-16.3zM393.35 652h4.3v4.3h-4.3zM277.35 656h12.3v4.3h-12.3zM333.35 656h4.3v4.3h-4.3zM341.35 656h8.3v4.3h-8.3zM393.35 656h4.3v4.3h-4.3zM285.35 660h4.3v4.3h-4.3zM333.35 660h12.3v4.3h-12.3zM389.35 660h4.3v4.3h-4.3zM241.35 664h16.3v4.3h-16.3zM285.35 664h4.3v4.3h-4.3zM333.35 664h12.3v4.3h-12.3zM385.35 664h8.3v4.3h-8.3zM241.35 668h8.3v4.3h-8.3zM253.35 668h8.3v4.3h-8.3zM337.35 668h8.3v4.3h-8.3zM381.35 668h8.3v4.3h-8.3zM241.35 672h8.3v4.3h-8.3zM261.35 672h4.3v4.3h-4.3zM337.35 672h12.3v4.3h-12.3zM373.35 672h8.3v4.3h-8.3zM245.35 676h8.3v4.3h-8.3zM265.35 676h4.3v4.3h-4.3zM289.35 676h4.3v4.3h-4.3zM333.35 676h12.3v4.3h-12.3zM349.35 676h20.3v4.3h-20.3zM249.35 680h8.3v4.3h-8.3zM265.35 680h4.3v4.3h-4.3zM293.35 680h8.3v4.3h-8.3zM321.35 680h12.3v4.3h-12.3zM261.35 684h4.3v4.3h-4.3z"/>
<path fill="#ee6c30" d="M345.35 548h8.3v4.3h-8.3zM345.35 552h12.3v4.3h-12.3zM345.35 556h16.3v4.3h-16.3zM345.35 560h16.3v4.3h-16.3zM345.35 564h16.3v4.3h-16.3zM345.35 568h16.3v4.3h-16.3zM413.35 568h4.3v4.3h-4.3zM349.35 572h12.3v4.3h-12.3zM401.35 572h8.3v4.3h-8.3zM417.35 572h8.3v4.3h-8.3zM397.35 576h4.3v4.3h-4.3zM421.35 576h8.3v4.3h-8.3zM397.35 580h4.3v4.3h-4.3zM425.35 580h4.3v4.3h-4.3zM309.35 584h20.3v4.3h-20.3zM397.35 584h4.3v4.3h-4.3zM425.35 584h4.3v4.3h-4.3zM309.35 588h4.3v4.3h-4.3zM325.35 588h8.3v4.3h-8.3zM397.35 588h4.3v4.3h-4.3zM425.35 588h4.3v4.3h-4.3zM305.35 592h4.3v4.3h-4.3zM329.35 592h8.3v4.3h-8.3zM397.35 592h4.3v4.3h-4.3zM425.35 592h4.3v4.3h-4.3zM305.35 596h4.3v4.3h-4.3zM333.35 596h4.3v4.3h-4.3zM397.35 596h4.3v4.3h-4.3zM425.35 596h4.3v4.3h-4.3zM305.35 600h4.3v4.3h-4.3zM333.35 600h4.3v4.3h-4.3zM397.35 600h4.3v4.3h-4.3zM425.35 600h4.3v4.3h-4.3zM305.35 604h8.3v4.3h-8.3zM333.35 604h8.3v4.3h-8.3zM393.35 604h4.3v4.3h-4.3zM421.35 604h8.3v4.3h-8.3zM309.35 608h4.3v4.3h-4.3zM337.35 608h4.3v4.3h-4.3zM389.35 608h8.3v4.3h-8.3zM421.35 608h4.3v4.3h-4.3zM309.35 612h4.3v4.3h-4.3zM337.35 612h4.3v4.3h-4.3zM381.35 612h8.3v4.3h-8.3zM417.35 612h4.3v4.3h-4.3zM309.35 616h4.3v4.3h-4.3zM337.35 616h4.3v4.3h-4.3zM377.35 616h4.3v4.3h-4.3zM413.35 616h4.3v4.3h-4.3zM309.35 620h4.3v4.3h-4.3zM337.35 620h4.3v4.3h-4.3zM373.35 620h4.3v4.3h-4.3zM409.35 620h4.3v4.3h-4.3zM305.35 624h4.3v4.3h-4.3zM337.35 624h4.3v4.3h-4.3zM369.35 624h4.3v4.3h-4.3zM405.35 624h4.3v4.3h-4.3zM305.35 628h4.3v4.3h-4.3zM337.35 628h4.3v4.3h-4.3zM365.35 628h4.3v4.3h-4.3zM405.35 628h4.3v4.3h-4.3zM277.35 632h12.3v4.3h-12.3zM301.35 632h4.3v4.3h-4.3zM337.35 632h4.3v4.3h-4.3zM401.35 632h4.3v4.3h-4.3zM277.35 636h24.3v4.3h-24.3zM337.35 636h4.3v4.3h-4.3zM361.35 636h4.3v4.3h-4.3zM397.35 636h4.3v4.3h-4.3zM281.35 640h4.3v4.3h-4.3zM333.35 640h8.3v4.3h-8.3zM357.35 640h4.3v4.3h-4.3zM397.35 640h4.3v4.3h-4.3zM281.35 644h8.3v4.3h-8.3zM333.35 644h4.3v4.3h-4.3zM353.35 644h4.3v4.3h-4.3zM393.35 644h4.3v4.3h-4.3zM281.35 648h12.3v4.3h-12.3zM329.35 648h8.3v4.3h-8.3zM349.35 648h4.3v4.3h-4.3zM393.35 648h4.3v4.3h-4.3zM277.35 652h4.3v4.3h-4.3zM289.35 652h4.3v4.3h-4.3zM329.35 652h4.3v4.3h-4.3zM349.35 652h4.3v4.3h-4.3zM389.35 652h4.3v4.3h-4.3zM289.35 656h4.3v4.3h-4.3zM329.35 656h4.3v4.3h-4.3zM389.35 656h4.3v4.3h-4.3zM289.35 660h4.3v4.3h-4.3zM329.35 660h4.3v4.3h-4.3zM345.35 660h4.3v4.3h-4.3zM385.35 660h4.3v4.3h-4.3zM289.35 664h4.3v4.3h-4.3zM329.35 664h4.3v4.3h-4.3zM345.35 664h4.3v4.3h-4.3zM381.35 664h4.3v4.3h-4.3zM249.35 668h4.3v4.3h-4.3zM289.35 668h4.3v4.3h-4.3zM329.35 668h8.3v4.3h-8.3zM345.35 668h8.3v4.3h-8.3zM377.35 668h4.3v4.3h-4.3zM249.35 672h12.3v4.3h-12.3zM289.35 672h4.3v4.3h-4.3zM329.35 672h8.3v4.3h-8.3zM349.35 672h24.3v4.3h-24.3zM253.35 676h12.3v4.3h-12.3zM293.35 676h4.3v4.3h-4.3zM325.35 676h8.3v4.3h-8.3zM257.35 680h8.3v4.3h-8.3zM301.35 680h20.3v4.3h-20.3z"/>
<path fill="#ee5c30" d="M409.35 572h8.3v4.3h-8.3zM401.35 576h8.3v4.3h-8.3zM417.35 576h4.3v4.3h-4.3zM401.35 580h4.3v4.3h-4.3zM417.35 580h8.3v4.3h-8.3zM417.35 584h8.3v4.3h-8.3zM313.35 588h12.3v4.3h-12.3zM401.35 588h4.3v4.3h-4.3zM417.35 588h8.3v4.3h-8.3zM309.35 592h20.3v4.3h-20.3zM401.35 592h4.3v4.3h-4.3zM417.35 592h8.3v4.3h-8.3zM309.35 596h8.3v4.3h-8.3zM321.35 596h12.3v4.3h-12.3zM401.35 596h4.3v4.3h-4.3zM417.35 596h8.3v4.3h-8.3zM309.35 600h8.3v4.3h-8.3zM325.35 600h8.3v4.3h-8.3zM401.35 600h4.3v4.3h-4.3zM417.35 600h8.3v4.3h-8.3zM313.35 604h4.3v4.3h-4.3zM329.35 604h4.3v4.3h-4.3zM397.35 604h8.3v4.3h-8.3zM413.35 604h8.3v4.3h-8.3zM313.35 608h4.3v4.3h-4.3zM329.35 608h8.3v4.3h-8.3zM397.35 608h8.3v4.3h-8.3zM409.35 608h12.3v4.3h-12.3zM313.35 612h4.3v4.3h-4.3zM329.35 612h8.3v4.3h-8.3zM389.35 612h8.3v4.3h-8.3zM405.35 612h12.3v4.3h-12.3zM313.35 616h4.3v4.3h-4.3zM329.35 616h8.3v4.3h-8.3zM381.35 616h8.3v4.3h-8.3zM405.35 616h8.3v4.3h-8.3zM313.35 620h4.3v4.3h-4.3zM329.35 620h8.3v4.3h-8.3zM377.35 620h4.3v4.3h-4.3zM405.35 620h4.3v4.3h-4.3zM309.35 624h8.3v4.3h-8.3zM333.35 624h4.3v4.3h-4.3zM373.35 624h4.3v4.3h-4.3zM401.35 624h4.3v4.3h-4.3zM309.35 628h8.3v4.3h-8.3zM333.35 628h4.3v4.3h-4.3zM369.35 628h4.3v4.3h-4.3zM401.35 628h4.3v4.3h-4.3zM305.35 632h8.3v4.3h-8.3zM333.35 632h4.3v4.3h-4.3zM365.35 632h4.3v4.3h-4.3zM397.35 632h4.3v4.3h-4.3zM301.35 636h8.3v4.3h-8.3zM329.35 636h8.3v4.3h-8.3zM393.35 636h4.3v4.3h-4.3zM285.35 640h16.3v4.3h-16.3zM329.35 640h4.3v4.3h-4.3zM361.35 640h4.3v4.3h-4.3zM393.35 640h4.3v4.3h-4.3zM289.35 644h8.3v4.3h-8.3zM325.35 644h8.3v4.3h-8.3zM357.35 644h4.3v4.3h-4.3zM389.35 644h4.3v4.3h-4.3zM293.35 648h4.3v4.3h-4.3zM325.35 648h4.3v4.3h-4.3zM353.35 648h4.3v4.3h-4.3zM385.35 648h8.3v4.3h-8.3zM293.35 652h4.3v4.3h-4.3zM325.35 652h4.3v4.3h-4.3zM353.35 652h4.3v4.3h-4.3zM385.35 652h4.3v4.3h-4.3zM293.35 656h4.3v4.3h-4.3zM325.35 656h4.3v4.3h-4.3zM349.35 656h4.3v4.3h-4.3zM381.35 656h8.3v4.3h-8.3zM293.35 660h4.3v4.3h-4.3zM325.35 660h4.3v4.3h-4.3zM349.35 660h4.3v4.3h-4.3zM377.35 660h8.3v4.3h-8.3zM325.35 664h4.3v4.3h-4.3zM349.35 664h4.3v4.3h-4.3zM373.35 664h8.3v4.3h-8.3zM293.35 668h4.3v4.3h-4.3zM325.35 668h4.3v4.3h-4.3zM353.35 668h4.3v4.3h-4.3zM369.35 668h8.3v4.3h-8.3zM293.35 672h4.3v4.3h-4.3zM321.35 672h8.3v4.3h-8.3zM297.35 676h28.3v4.3h-28.3z"/>
<path fill="#ed4930" d="M409.35 576h8.3v4.3h-8.3zM405.35 580h12.3v4.3h-12.3zM401.35 584h16.3v4.3h-16.3zM405.35 588h12.3v4.3h-12.3zM405.35 592h12.3v4.3h-12.3zM317.35 596h4.3v4.3h-4.3zM405.35 596h12.3v4.3h-12.3zM317.35 600h8.3v4.3h-8.3zM405.35 600h12.3v4.3h-12.3zM317.35 604h12.3v4.3h-12.3zM405.35 604h8.3v4.3h-8.3zM317.35 608h12.3v4.3h-12.3zM405.35 608h4.3v4.3h-4.3zM317.35 612h12.3v4.3h-12.3zM397.35 612h8.3v4.3h-8.3zM317.35 616h12.3v4.3h-12.3zM389.35 616h16.3v4.3h-16.3zM317.35 620h12.3v4.3h-12.3zM381.35 620h24.3v4.3h-24.3zM317.35 624h16.3v4.3h-16.3zM377.35 624h8.3v4.3h-8.3zM393.35 624h8.3v4.3h-8.3zM317.35 628h16.3v4.3h-16.3zM373.35 628h8.3v4.3h-8.3zM393.35 628h8.3v4.3h-8.3zM313.35 632h20.3v4.3h-20.3zM369.35 632h8.3v4.3h-8.3zM389.35 632h8.3v4.3h-8.3zM309.35 636h20.3v4.3h-20.3zM365.35 636h8.3v4.3h-8.3zM389.35 636h4.3v4.3h-4.3zM301.35 640h28.3v4.3h-28.3zM365.35 640h4.3v4.3h-4.3zM385.35 640h8.3v4.3h-8.3zM297.35 644h8.3v4.3h-8.3zM317.35 644h8.3v4.3h-8.3zM361.35 644h8.3v4.3h-8.3zM381.35 644h8.3v4.3h-8.3zM297.35 648h4.3v4.3h-4.3zM317.35 648h8.3v4.3h-8.3zM357.35 648h8.3v4.3h-8.3zM377.35 648h8.3v4.3h-8.3zM297.35 652h4.3v4.3h-4.3zM317.35 652h8.3v4.3h-8.3zM357.35 652h4.3v4.3h-4.3zM373.35 652h12.3v4.3h-12.3zM297.35 656h4.3v4.3h-4.3zM317.35 656h8.3v4.3h-8.3zM353.35 656h4.3v4.3h-4.3zM373.35 656h8.3v4.3h-8.3zM297.35 660h4.3v4.3h-4.3zM317.35 660h8.3v4.3h-8.3zM353.35 660h4.3v4.3h-4.3zM373.35 660h4.3v4.3h-4.3zM293.35 664h4.3v4.3h-4.3zM317.35 664h8.3v4.3h-8.3zM353.35 664h4.3v4.3h-4.3zM365.35 664h8.3v4.3h-8.3zM297.35 668h4.3v4.3h-4.3zM317.35 668h8.3v4.3h-8.3zM357.35 668h12.3v4.3h-12.3zM297.35 672h24.3v4.3h-24.3z"/>
<path fill="#ec3730" d="M385.35 624h8.3v4.3h-8.3zM381.35 628h12.3v4.3h-12.3zM377.35 632h12.3v4.3h-12.3zM373.35 636h16.3v4.3h-16.3zM369.35 640h16.3v4.3h-16.3zM305.35 644h12.3v4.3h-12.3zM369.35 644h12.3v4.3h-12.3zM301.35 648h16.3v4.3h-16.3zM365.35 648h12.3v4.3h-12.3zM301.35 652h16.3v4.3h-16.3zM361.35 652h12.3v4.3h-12.3zM301.35 656h16.3v4.3h-16.3zM357.35 656h16.3v4.3h-16.3zM301.35 660h16.3v4.3h-16.3zM357.35 660h16.3v4.3h-16.3zM297.35 664h20.3v4.3h-20.3zM357.35 664h8.3v4.3h-8.3zM301.35 668h16.3v4.3h-16.3z"/>
</g>
<g clip-path="url(#headclip)" fill="none" stroke="#3a3025" stroke-width="0.9">
<polyline points="179.5,498.0 183.4,494.1 183.4,494.0 186.1,490.0 187.4,488.3 188.7,486.0 190.6,482.0 191.4,479.5 191.7,478.0 191.7,474.0 191.4,472.7 190.5,470.0 187.6,466.0 187.4,465.7 183.4,463.6 179.4,463.7 175.4,465.8 175.2,466.0 172.1,470.0 171.4,471.7 170.5,474.0 169.7,478.0 169.6,482.0 169.9,486.0 170.5,490.0 171.4,493.8 171.4,494.0 174.3,498.0 175.4,499.0 179.4,498.2 179.5,498.0"/>
<polyline points="443.4,693.5 442.5,694.0 439.4,696.1 436.6,698.0 435.4,698.9 431.4,702.0 431.3,702.0 427.4,705.2 426.4,706.0 423.4,708.6 421.7,710.0 419.4,712.0 417.0,714.0 415.4,715.4 412.4,718.0 411.4,718.9 407.7,722.0 407.4,722.3 403.4,725.4 402.6,726.0 399.4,728.3 396.5,730.0 395.4,730.7 391.4,732.7 387.9,734.0 387.4,734.2 383.4,735.4 379.4,736.1 375.4,736.5 371.4,736.5 367.4,736.1 363.4,735.5 359.4,734.5 357.5,734.0 355.4,733.4 351.4,732.2 347.4,730.8 345.1,730.0 343.4,729.4 339.4,728.2 335.4,726.2 335.0,726.0 331.4,724.5 327.4,722.7 323.4,722.5 319.4,723.7 315.4,724.3 311.4,724.2 307.4,723.4 303.4,722.0 303.4,722.0 299.4,720.7 295.4,719.3 291.4,718.1 291.1,718.0 287.4,717.3 283.4,717.0 279.4,717.1 275.4,717.7 273.9,718.0 271.4,718.7 267.4,720.0 263.4,721.3 261.3,722.0 259.4,724.2 258.6,726.0 258.6,730.0 258.9,734.0 259.0,738.0 258.9,742.0 258.9,746.0 258.9,750.0 259.0,754.0"/>
<polyline points="196.5,614.0 199.4,612.2 201.7,610.0 203.4,607.1 203.9,606.0 204.8,602.0 204.8,598.0 204.1,594.0 203.4,591.8 202.4,590.0 199.9,586.0 199.4,585.1 196.7,582.0 195.4,580.0 193.7,578.0 192.0,574.0 191.4,570.1 191.3,570.0 191.1,566.0 191.1,562.0 191.4,558.6 191.4,558.0 191.7,554.0 192.0,550.0 192.1,546.0 192.1,542.0 192.1,538.0 192.6,534.0 193.8,530.0 195.2,526.0 195.4,525.5 196.5,522.0 197.6,518.0 198.4,514.0 199.0,510.0 199.3,506.0 199.4,505.6 199.7,502.0 200.5,498.0 202.7,494.0 203.4,493.3 206.6,490.0 207.4,489.0 209.9,486.0 211.4,482.3 211.5,482.0 211.4,480.0 211.2,478.0 209.7,474.0 207.4,470.3 207.2,470.0 204.6,466.0 203.4,464.2 202.1,462.0 200.2,458.0 199.4,456.3 198.1,454.0 195.6,450.0 195.4,449.7 191.8,446.0 191.4,445.6 187.4,443.4 183.4,442.7 179.4,442.9 175.4,444.1 172.0,446.0 171.4,446.4 167.4,449.9 167.3,450.0 164.1,454.0 163.4,455.1 161.5,458.0 159.4,461.4 159.0,462.0 156.7,466.0 155.4,469.0 154.9,470.0 153.5,474.0 152.7,478.0 152.1,482.0 151.9,486.0 151.9,490.0 152.0,494.0 151.4,498.0 151.4,498.5 150.7,502.0 150.5,506.0 151.1,510.0 151.4,510.6 152.4,514.0 154.0,518.0 155.4,521.6 155.5,522.0 156.9,526.0 158.0,530.0 158.7,534.0 159.0,538.0 159.1,542.0 159.1,546.0 159.0,550.0 158.9,554.0 158.7,558.0 158.5,562.0 158.4,566.0 158.6,570.0 159.3,574.0 159.4,574.1 161.2,578.0 163.4,580.7 167.4,581.7 171.4,581.1 175.4,581.7 176.0,582.0 177.6,586.0 176.5,590.0 175.4,593.8 175.2,594.0 173.7,598.0 173.8,602.0 175.4,605.7 175.4,606.0 178.5,610.0 179.4,610.6 183.4,613.4 184.5,614.0 187.4,615.0 191.4,615.3 195.4,614.5 196.5,614.0"/>
<polyline points="443.4,674.9 439.4,677.0 437.7,678.0 435.4,679.4 431.6,682.0 431.4,682.2 427.4,685.4 426.6,686.0 423.4,688.8 422.0,690.0 419.4,692.4 417.5,694.0 415.4,695.8 412.7,698.0 411.4,699.1 407.6,702.0 407.4,702.2 403.4,705.4 402.5,706.0 399.4,708.7 397.9,710.0 395.4,712.2 393.4,714.0 391.4,715.6 387.9,718.0 387.4,718.3 383.4,720.2 379.4,721.3 375.4,721.7 371.4,721.8 367.4,721.4 363.4,720.8 359.4,720.1 355.4,719.2 351.4,718.1 351.0,718.0 347.4,717.0 343.4,716.1 339.4,715.2 335.4,714.5 331.4,714.1 327.4,714.3 323.4,714.5 319.4,714.5 315.4,714.3 311.4,714.1 310.2,714.0 307.4,713.8 303.4,713.6 299.4,713.3 295.4,713.1 291.4,712.7 287.4,712.0 283.4,711.5 279.4,711.6 275.4,712.5 271.4,713.1 267.4,713.0 263.4,712.8 259.4,712.7 255.4,712.7 251.4,713.1 247.9,714.0 247.4,714.4 244.6,718.0 244.3,722.0 244.7,726.0 245.4,730.0 245.9,734.0 246.0,738.0 245.5,742.0 244.7,746.0 243.6,750.0 243.4,750.9 242.3,754.0"/>
<polyline points="152.9,418.0 151.4,419.7 149.4,422.0 147.4,424.6 146.4,426.0 143.7,430.0 143.4,430.6 141.3,434.0 139.4,437.7 139.2,438.0 137.2,442.0 135.4,446.0 135.4,446.2 133.8,450.0 132.3,454.0 131.4,456.8 130.9,458.0 129.7,462.0 128.7,466.0 127.9,470.0 127.4,473.1 127.2,474.0 126.8,478.0 126.6,482.0 126.6,486.0 126.8,490.0 127.3,494.0 127.4,494.0 128.1,498.0 129.3,502.0 131.0,506.0 131.4,506.5 133.3,510.0 135.4,513.2 135.8,514.0 138.3,518.0 139.4,520.1 140.2,522.0 141.6,526.0 142.1,530.0 141.9,534.0 140.9,538.0 139.4,541.4 138.9,542.0 135.4,546.0 135.4,546.0 131.4,548.6 128.3,550.0 127.4,550.5 123.4,553.5 123.0,554.0 122.3,558.0 123.4,560.5 124.3,562.0 127.4,565.0 128.4,566.0 131.4,568.9 132.3,570.0 134.9,574.0 135.4,575.0 136.5,578.0 137.3,582.0 137.1,586.0 136.3,590.0 135.4,592.6 134.8,594.0 132.7,598.0 131.4,600.6 130.6,602.0 128.7,606.0 127.4,610.0 127.4,610.9 127.2,614.0 127.4,614.6 128.4,618.0 131.4,621.8 131.8,622.0 135.4,623.3 139.4,623.3 143.4,622.8 147.4,622.2 148.9,622.0 151.4,621.7 155.4,621.5 159.4,621.4 163.4,621.5 167.4,621.7 170.3,622.0 171.4,622.1 175.4,622.6 179.4,623.1 183.4,623.7 187.4,624.0 191.4,624.0 195.4,623.6 199.4,623.2 203.4,622.9 207.0,622.0 207.4,621.9 211.2,618.0 211.4,617.8 212.9,614.0 214.4,610.0 215.4,607.4 215.8,606.0 217.3,602.0 219.0,598.0 219.4,597.0 220.9,594.0 223.4,590.2 223.6,590.0 227.4,587.2 231.4,586.2 235.4,586.1 239.4,586.4 243.4,586.8 247.4,587.6 251.4,588.6 255.4,589.9 255.9,590.0 259.4,590.7 263.4,590.8 267.4,590.0 271.4,590.3 271.8,590.0 275.4,588.1 276.1,586.0 275.4,583.5 274.8,582.0 272.1,578.0 271.4,575.6 270.5,574.0 269.3,570.0 268.1,566.0 267.4,563.9 266.0,562.0 263.4,559.9 259.4,558.3 258.4,558.0 255.4,557.1 251.4,555.7 248.4,554.0 247.4,553.1 244.5,550.0 243.4,547.4 242.7,546.0 241.9,542.0 241.7,538.0 241.6,534.0 240.9,530.0 239.9,526.0 239.4,524.0 238.7,522.0 237.8,518.0 237.6,514.0 237.8,510.0 238.1,506.0 238.6,502.0 238.9,498.0 239.2,494.0 239.3,490.0 239.4,488.0 239.4,486.0 239.4,485.6 239.2,482.0 238.8,478.0 238.1,474.0 236.9,470.0 235.4,466.6 235.1,466.0 232.3,462.0 231.4,461.0 228.1,458.0 227.4,457.3 224.2,454.0 223.4,452.8 221.6,450.0 220.4,446.0 219.9,442.0 219.7,438.0 219.4,434.0 219.3,434.0 218.7,430.0 217.7,426.0 216.3,422.0 215.4,420.0 214.2,418.0"/>
<polyline points="335.0,466.0 335.4,465.8 338.3,462.0 339.4,459.2 339.7,458.0 340.3,454.0 340.3,450.0 339.4,447.0 339.0,446.0 335.4,442.1 335.0,442.0 331.4,440.9 327.4,441.4 326.2,442.0 323.4,443.9 321.3,446.0 319.4,449.2 319.0,450.0 318.0,454.0 318.3,458.0 319.4,460.7 320.1,462.0 323.4,465.5 324.3,466.0 327.4,467.4 331.4,467.5 335.0,466.0"/>
<polyline points="443.4,659.3 439.4,661.3 437.9,662.0 435.4,663.3 431.4,665.4 430.3,666.0 427.4,667.9 424.4,670.0 423.4,670.9 420.2,674.0 419.4,674.9 416.8,678.0 415.4,679.5 413.2,682.0 411.4,683.8 409.0,686.0 407.4,687.5 404.0,690.0 403.4,690.5 399.4,692.9 396.9,694.0 395.4,694.8 391.4,696.4 387.7,698.0 387.4,698.2 383.5,702.0 383.4,702.2 379.6,706.0 379.4,706.2 375.4,706.5 371.4,706.2 367.4,706.6 363.4,707.6 359.4,708.7 355.4,708.7 351.4,708.5 347.4,708.3 343.4,707.3 339.7,706.0 339.4,705.9 335.4,704.7 331.4,704.7 327.4,706.0 327.2,706.0 323.4,706.9 319.4,706.8 315.4,706.3 313.4,706.0 311.4,705.7 307.4,705.2 303.4,705.3 300.0,706.0 299.4,706.1 295.4,706.9 291.4,707.0 287.4,706.3 285.7,706.0 283.4,705.5 279.4,705.4 277.6,706.0 275.4,706.6 271.4,706.7 267.7,706.0 267.4,705.9 263.4,705.9 259.4,705.8 255.4,705.5 251.4,704.7 247.4,703.3 244.2,702.0 243.4,701.7 239.4,701.7 238.5,702.0 235.4,704.0 233.0,706.0 231.4,708.2 230.1,710.0 228.6,714.0 228.0,718.0 228.3,722.0 228.8,726.0 228.8,730.0 227.9,734.0 227.4,735.3 225.9,738.0 223.4,741.9 223.2,742.0 219.4,746.0 219.3,746.0 215.4,749.0 213.6,750.0 211.4,751.4 207.4,753.2 205.2,754.0"/>
<polyline points="443.4,645.2 442.1,646.0 439.4,647.7 435.4,650.0 435.4,650.0 431.4,652.2 428.2,654.0 427.4,654.5 423.4,656.8 421.5,658.0 419.4,659.5 416.1,662.0 415.4,662.8 413.2,666.0 411.4,669.0 410.9,670.0 408.3,674.0 407.4,675.1 404.8,678.0 403.4,679.4 400.4,682.0 399.4,682.8 395.4,685.6 394.5,686.0 391.4,687.4 387.4,688.6 383.5,690.0 383.4,690.0 379.4,692.0 375.4,693.4 371.4,693.9 370.0,694.0 367.4,694.1 363.4,694.1 359.4,694.4 355.4,695.5 351.4,696.7 347.4,697.4 343.4,697.4 339.4,696.9 335.4,696.4 331.4,696.5 327.4,697.4 324.9,698.0 323.4,698.5 319.4,699.2 315.4,699.2 311.4,698.8 307.4,698.4 303.4,698.5 299.4,699.1 295.4,699.6 291.4,699.6 287.4,699.0 283.4,698.1 282.0,698.0 279.4,697.8 278.3,698.0 275.4,698.4 271.4,699.0 267.4,699.7 263.4,700.1 259.4,700.1 255.4,699.5 251.4,698.3 250.8,698.0 247.4,696.6 243.4,695.2 239.4,694.7 235.4,695.3 231.4,696.5 227.6,698.0 227.4,698.1 223.4,700.0 219.4,701.2 215.4,701.5 211.4,700.7 207.4,699.2 203.8,698.0 203.4,697.8 199.4,696.6 195.4,695.2 192.5,694.0 191.4,693.4 187.4,691.4 185.2,690.0 183.4,688.9 179.4,686.0 179.3,686.0 175.4,683.2 173.7,682.0 171.4,680.3 168.3,678.0 167.4,677.1 164.5,674.0 163.4,672.2 162.0,670.0 160.5,666.0 159.7,662.0 159.4,658.0 159.4,654.0 159.8,650.0 160.9,646.0 163.0,642.0 163.4,641.6 166.9,638.0 167.4,637.7 171.4,635.5 175.4,634.1 175.7,634.0 179.4,633.4 183.4,633.2 187.4,633.4 190.9,634.0 191.4,634.1 195.4,635.8 198.2,638.0 199.4,639.2 201.6,642.0 203.4,644.3 204.7,646.0 207.4,648.6 210.1,650.0 211.4,650.4 214.5,650.0 215.4,649.8 219.4,646.5 219.6,646.0 220.1,642.0 219.5,638.0 219.4,636.7 218.9,634.0 218.6,630.0 219.1,626.0 219.4,624.8 219.8,622.0 220.6,618.0 221.7,614.0 223.2,610.0 223.4,609.8 225.5,606.0 227.4,603.5 228.8,602.0 231.4,599.7 234.7,598.0 235.4,597.7 239.4,596.7 243.4,596.7 247.4,597.3 250.1,598.0 251.4,598.4 255.4,600.1 258.0,602.0 259.4,603.7 260.5,606.0 263.4,609.3 264.6,610.0 267.4,610.7 271.1,610.0 271.4,609.9 275.4,608.2 279.4,606.8 280.4,606.0 282.1,602.0 282.7,598.0 283.3,594.0 283.4,593.4 283.8,590.0 283.8,586.0 283.4,584.3 282.6,582.0 279.7,578.0 279.6,574.0 280.4,570.0 281.2,566.0 281.6,562.0 281.3,558.0 279.9,554.0 279.4,553.2 276.7,550.0 275.4,549.0 271.4,547.3 269.0,546.0 267.4,544.3 265.1,542.0 263.4,538.7 263.0,538.0 262.3,534.0 262.3,530.0 262.8,526.0 263.4,523.9 263.8,522.0 265.5,518.0 267.4,515.1 268.1,514.0 271.4,510.5 271.7,510.0 274.9,506.0 275.0,502.0 273.2,498.0 271.4,494.7 270.8,494.0 268.0,490.0 267.4,488.6 266.1,486.0 265.5,482.0 265.5,478.0 265.6,474.0 265.0,470.0 263.6,466.0 263.4,465.4 261.6,462.0 259.4,459.0 258.6,458.0 255.4,454.8 254.5,454.0 251.4,451.5 249.3,450.0 247.4,448.5 243.4,446.1 243.2,446.0 239.4,442.2 239.2,442.0 239.4,441.3 240.7,438.0 243.4,435.0 244.8,434.0 247.4,431.0 247.8,430.0 249.0,426.0 249.8,422.0 250.5,418.0"/>
<polyline points="345.2,482.0 347.4,480.9 350.3,478.0 351.4,476.2 352.4,474.0 353.5,470.0 354.1,466.0 354.4,462.0 354.4,458.0 354.1,454.0 353.7,450.0 352.8,446.0 351.4,442.3 351.2,442.0 349.3,438.0 347.4,434.8 346.8,434.0 343.4,430.1 343.3,430.0 339.4,427.2 336.1,426.0 335.4,425.7 331.4,425.1 327.4,425.5 325.7,426.0 323.4,426.7 319.4,428.8 317.6,430.0 315.4,431.7 313.1,434.0 311.4,436.2 310.2,438.0 308.1,442.0 307.4,443.7 306.2,446.0 304.9,450.0 304.3,454.0 304.4,458.0 305.3,462.0 307.0,466.0 307.4,466.7 309.3,470.0 311.4,472.9 312.3,474.0 315.4,477.0 316.7,478.0 319.4,479.7 323.4,481.4 325.6,482.0 327.4,482.4 331.4,483.0 335.4,483.2 339.4,483.1 343.4,482.6 345.2,482.0"/>
<polyline points="283.1,438.0 283.4,437.5 284.4,434.0 283.4,431.1 280.4,430.0 279.4,429.8 279.2,430.0 276.3,434.0 276.4,438.0 279.4,439.9 283.1,438.0"/>
<polyline points="443.4,628.6 442.0,630.0 439.4,632.5 437.8,634.0 435.4,636.0 432.9,638.0 431.4,639.1 427.4,641.8 427.1,642.0 423.4,644.5 421.4,646.0 419.4,647.5 416.5,650.0 415.4,650.9 412.1,654.0 411.4,654.7 408.8,658.0 407.4,660.5 406.6,662.0 404.9,666.0 403.4,668.6 402.4,670.0 399.4,673.4 398.7,674.0 395.4,677.0 394.0,678.0 391.4,679.8 387.4,681.9 387.2,682.0 383.4,683.6 379.4,685.2 377.0,686.0 375.4,686.5 371.4,687.1 367.4,687.4 363.4,687.7 359.4,688.1 355.4,688.8 351.4,689.4 347.4,689.8 345.1,690.0 343.4,690.1 339.4,690.4 335.4,690.7 331.4,691.1 327.4,691.7 323.4,692.3 319.4,692.9 315.4,693.2 311.4,693.3 307.4,693.3 303.4,693.3 299.4,693.2 295.4,692.9 291.4,692.4 287.4,691.8 283.4,691.4 279.4,691.7 275.4,693.4 274.0,694.0 271.4,694.8 267.4,695.0 263.4,695.0 259.4,694.7 255.9,694.0 255.4,693.9 251.4,692.5 247.4,690.8 244.9,690.0 243.4,689.4 239.4,688.6 235.4,688.5 231.4,688.9 227.4,689.7 225.8,690.0 223.4,690.5 219.4,690.9 215.4,690.7 213.2,690.0 211.4,689.2 207.4,686.6 206.5,686.0 203.4,682.9 202.3,682.0 199.4,678.9 198.0,678.0 195.4,676.1 191.4,674.5 190.0,674.0 187.4,672.9 183.4,671.0 181.9,670.0 179.4,667.6 178.2,666.0 176.6,662.0 176.4,658.0 177.5,654.0 179.4,651.0 180.5,650.0 183.4,648.3 187.4,648.6 189.4,650.0 191.4,651.3 193.9,654.0 195.4,655.5 197.7,658.0 199.4,659.9 202.3,662.0 203.4,662.7 207.4,663.9 211.4,663.7 215.4,662.7 216.7,662.0 219.4,660.8 223.3,658.0 223.4,657.9 226.8,654.0 227.4,653.0 228.8,650.0 229.5,646.0 229.0,642.0 227.7,638.0 227.4,637.2 226.3,634.0 225.7,630.0 225.9,626.0 226.5,622.0 227.4,618.6 227.5,618.0 229.1,614.0 231.4,610.4 231.7,610.0 235.4,607.0 237.9,606.0 239.4,605.5 243.4,605.4 245.8,606.0 247.4,606.5 251.4,609.2 252.2,610.0 255.4,613.7 255.7,614.0 259.4,617.7 263.0,618.0 263.4,618.1 263.4,618.0 267.4,616.4 271.0,614.0 271.4,613.9 275.4,613.7 276.1,614.0 279.4,616.0 283.0,618.0 283.4,618.2 286.8,618.0 287.4,617.9 291.0,614.0 291.4,611.5 291.5,610.0 291.4,608.8 291.0,606.0 290.2,602.0 289.7,598.0 289.8,594.0 290.4,590.0 291.4,586.1 291.4,586.0 292.8,582.0 294.6,578.0 295.4,575.9 296.4,574.0 297.5,570.0 298.7,566.0 299.4,563.3 300.0,562.0 300.4,558.0 299.4,557.3 296.1,554.0 295.4,553.7 291.4,550.0 291.4,549.9 287.4,546.0 287.4,545.9 283.4,542.0 283.4,541.9 280.7,538.0 279.5,534.0 279.4,530.0 279.4,529.7 278.6,526.0 278.7,522.0 279.4,520.3 280.2,518.0 282.6,514.0 283.4,512.9 285.6,510.0 287.4,507.2 288.4,506.0 291.0,502.0 291.4,501.2 294.0,498.0 295.4,496.2 299.4,494.2 303.4,494.2 307.4,495.0 311.4,495.8 315.4,496.4 319.4,496.8 323.4,497.1 327.4,497.2 331.4,497.4 335.4,497.7 338.3,498.0 339.4,498.2 343.4,499.3 347.1,502.0 347.4,502.3 349.4,506.0 350.9,510.0 351.4,511.2 352.4,514.0 354.7,518.0 355.4,518.7 359.4,521.8 359.9,522.0 363.4,522.9 367.4,522.5 368.7,522.0 371.4,520.6 374.5,518.0 375.4,517.0 377.7,514.0 379.4,511.6 380.6,510.0 383.4,506.1 383.5,506.0 386.9,502.0 387.4,501.5 391.4,498.4 392.5,498.0 395.4,496.4 399.4,494.9 400.7,494.0 403.4,490.5 403.8,490.0 405.1,486.0 404.4,482.0 403.4,480.7 399.4,479.5 395.4,480.1 391.4,481.1 387.4,480.2 386.2,478.0 387.4,474.8 388.0,474.0 391.4,470.3 391.7,470.0 394.4,466.0 395.3,462.0 395.3,458.0 394.7,454.0 393.3,450.0 391.4,446.1 391.3,446.0 389.2,442.0 387.4,439.1 386.8,438.0 384.3,434.0 383.4,432.5 381.9,430.0 379.4,426.1 379.3,426.0 376.8,422.0 375.4,420.0 374.0,418.0"/>
<polyline points="443.4,460.0 442.2,462.0 440.8,466.0 440.2,470.0 440.5,474.0 441.5,478.0 443.2,482.0 443.4,482.4"/>
<polyline points="315.6,554.0 315.4,553.3 311.4,552.1 308.5,554.0 311.4,556.0 315.4,554.6 315.6,554.0"/>
<polyline points="275.7,670.0 275.4,669.2 272.1,666.0 272.0,662.0 272.4,658.0 272.1,654.0 271.4,651.4 269.8,650.0 267.7,646.0 268.2,642.0 271.4,639.7 271.8,638.0 272.1,634.0 271.4,631.7 267.9,630.0 267.4,629.6 266.6,630.0 264.6,634.0 265.3,638.0 266.6,642.0 266.7,646.0 263.4,649.9 263.3,650.0 262.7,654.0 263.4,656.4 263.9,658.0 266.8,662.0 267.4,662.7 270.9,666.0 271.4,667.9 273.2,670.0 275.4,670.7 275.7,670.0"/>
<polyline points="295.4,531.3 291.4,531.9 287.7,530.0 287.4,529.5 286.8,526.0 287.4,524.6 290.2,522.0 291.4,521.1 295.4,520.3 298.6,522.0 299.3,526.0 297.1,530.0 295.4,531.3"/>
<polyline points="407.4,539.1 403.4,540.3 399.4,540.4 395.4,538.5 394.5,538.0 392.1,534.0 392.4,530.0 394.4,526.0 395.4,525.0 398.6,522.0 399.4,521.5 403.4,519.9 407.4,519.7 411.4,521.0 412.7,522.0 415.1,526.0 415.1,530.0 413.3,534.0 411.4,536.2 409.2,538.0 407.4,539.1"/>
<polyline points="323.4,686.3 319.4,686.8 315.4,687.1 311.4,687.4 307.4,687.5 303.4,687.3 299.4,686.7 296.0,686.0 295.4,685.8 291.4,684.4 287.4,682.9 284.2,682.0 283.8,678.0 284.7,674.0 284.8,670.0 283.9,666.0 283.4,665.1 280.8,662.0 279.4,661.3 277.2,658.0 276.3,654.0 276.4,650.0 276.5,646.0 276.4,642.0 276.3,638.0 276.4,634.0 277.4,630.0 279.4,626.9 283.4,626.4 287.4,626.8 291.4,627.3 295.4,626.6 296.2,626.0 299.4,622.3 299.5,622.0 300.8,618.0 301.2,614.0 300.8,610.0 299.8,606.0 299.4,604.7 298.5,602.0 297.3,598.0 297.2,594.0 299.2,590.0 299.4,589.9 303.4,586.1 303.4,586.0 307.4,583.1 308.7,582.0 311.4,579.7 314.1,578.0 315.4,577.0 319.4,575.3 323.2,574.0 323.4,573.9 327.4,572.1 329.7,570.0 331.4,566.8 331.6,566.0 332.4,562.0 332.7,558.0 332.8,554.0 332.6,550.0 332.3,546.0 332.0,542.0 332.8,538.0 335.4,535.2 339.4,534.2 343.4,534.6 347.4,535.4 351.4,536.4 355.4,537.6 356.5,538.0 359.4,539.1 363.4,540.8 365.8,542.0 367.4,543.1 370.6,546.0 371.4,547.3 372.6,550.0 373.7,554.0 374.6,558.0 375.4,561.0 375.6,562.0 376.8,566.0 378.3,570.0 379.4,572.9 380.3,574.0 383.4,577.1 387.4,575.3 388.8,574.0 391.4,572.9 395.4,570.7 396.4,570.0 399.4,568.6 403.4,566.6 404.8,566.0 407.4,564.8 411.4,563.6 415.4,563.1 419.4,563.3 423.4,564.1 427.4,565.5 428.5,566.0 431.4,567.5 434.7,570.0 435.4,570.6 438.3,574.0 439.4,575.8 440.6,578.0 442.1,582.0 442.9,586.0 443.3,590.0 443.1,594.0 442.6,598.0 441.6,602.0 440.1,606.0 439.4,607.4 438.0,610.0 435.4,614.0 435.4,614.0 432.0,618.0 431.4,618.8 428.0,622.0 427.4,622.7 424.0,626.0 423.4,626.7 419.6,630.0 419.4,630.2 415.4,634.0 415.3,634.0 412.1,638.0 411.4,638.8 408.9,642.0 407.4,643.8 405.7,646.0 403.4,649.6 403.1,650.0 401.3,654.0 399.8,658.0 399.4,659.3 398.3,662.0 396.2,666.0 395.4,667.0 392.4,670.0 391.4,670.8 387.4,674.0 387.4,674.0 383.4,676.2 379.4,678.0 379.3,678.0 375.4,679.3 371.4,680.1 367.4,680.6 363.4,680.9 359.4,681.2 355.4,681.4 351.4,681.5 347.4,681.7 345.1,682.0 343.4,682.2 339.4,683.0 335.4,684.1 331.4,685.1 327.4,685.8 325.8,686.0 323.4,686.3"/>
<polyline points="356.5,634.0 359.4,630.2 359.4,630.0 360.4,626.0 361.6,622.0 363.4,618.4 363.5,618.0 366.0,614.0 367.4,612.6 370.5,610.0 371.4,609.4 375.4,606.6 376.4,606.0 379.4,603.9 382.9,602.0 383.4,601.7 387.4,598.4 387.7,598.0 387.9,594.0 387.4,592.3 386.1,590.0 383.9,586.0 383.4,584.3 379.4,582.7 375.4,585.2 374.4,586.0 371.4,588.1 368.4,590.0 367.4,590.6 363.4,593.0 361.4,594.0 359.4,595.5 356.5,598.0 355.4,599.8 354.5,602.0 353.4,606.0 352.3,610.0 351.4,612.1 350.8,614.0 349.6,618.0 348.9,622.0 349.2,626.0 350.0,630.0 351.4,633.1 352.5,634.0 355.4,634.8 356.5,634.0"/>
<polyline points="247.4,635.2 243.4,635.5 240.0,634.0 239.4,633.8 235.7,630.0 235.4,629.0 234.9,626.0 235.3,622.0 235.4,621.7 237.1,618.0 239.4,615.7 243.4,616.7 244.6,618.0 246.6,622.0 247.4,624.7 247.7,626.0 248.1,630.0 247.9,634.0 247.4,635.2"/>
<polyline points="271.4,687.0 267.4,688.5 263.4,688.8 259.4,688.3 255.4,687.2 252.2,686.0 251.4,685.6 247.4,683.5 243.7,682.0 243.4,681.8 239.4,680.0 235.4,678.9 232.0,678.0 231.4,677.3 229.5,674.0 231.1,670.0 231.4,669.7 234.0,666.0 235.4,664.3 237.1,662.0 239.4,659.1 240.6,658.0 243.4,655.4 247.4,654.7 251.4,656.8 252.3,658.0 255.4,660.8 256.2,662.0 259.4,665.5 259.8,666.0 263.4,669.3 263.9,670.0 267.4,673.6 267.6,674.0 270.4,678.0 271.4,679.8 275.3,682.0 273.4,686.0 271.4,687.0"/>
<polyline points="375.4,670.3 371.4,671.9 367.4,673.0 363.4,673.4 359.4,673.2 355.4,672.1 352.0,670.0 351.4,668.9 350.1,666.0 350.1,662.0 350.7,658.0 351.4,655.4 351.8,654.0 353.9,650.0 355.4,648.4 357.5,646.0 359.4,644.3 361.1,642.0 363.4,638.8 363.9,638.0 366.9,634.0 367.4,633.4 370.2,630.0 371.4,628.4 373.5,626.0 375.4,623.9 377.4,622.0 379.4,620.3 382.6,618.0 383.4,617.5 387.4,615.1 389.3,614.0 391.4,612.8 395.4,610.1 395.5,610.0 399.2,606.0 399.4,605.6 400.8,602.0 401.0,598.0 400.7,594.0 400.1,590.0 399.8,586.0 400.4,582.0 402.7,578.0 403.4,577.3 407.4,574.6 409.2,574.0 411.4,573.4 415.4,573.5 417.3,574.0 419.4,575.1 422.0,578.0 423.4,582.0 423.4,582.0 423.6,586.0 423.8,590.0 424.3,594.0 424.6,598.0 424.0,602.0 423.4,603.7 422.3,606.0 419.4,610.0 419.4,610.0 415.4,614.0 415.4,614.0 411.8,618.0 411.4,618.5 409.0,622.0 407.4,624.5 406.5,626.0 404.1,630.0 403.4,631.1 401.4,634.0 399.4,636.9 398.6,638.0 395.9,642.0 395.4,642.9 393.5,646.0 391.5,650.0 391.4,650.3 389.4,654.0 387.4,657.8 387.2,658.0 384.5,662.0 383.4,663.4 381.3,666.0 379.4,667.6 376.0,670.0 375.4,670.3"/>
<polyline points="323.4,678.4 319.4,679.5 315.4,680.2 311.4,680.5 307.4,680.5 303.4,680.0 299.4,678.7 298.1,678.0 295.4,675.7 294.2,674.0 292.9,670.0 292.6,666.0 292.8,662.0 293.0,658.0 292.8,654.0 292.0,650.0 291.4,647.7 290.0,646.0 287.4,642.2 287.2,642.0 287.4,641.7 291.4,641.7 295.4,641.0 299.4,639.4 301.7,638.0 303.4,636.9 306.7,634.0 307.4,633.2 309.7,630.0 311.4,626.0 311.4,626.0 312.4,622.0 312.9,618.0 312.9,614.0 312.5,610.0 312.0,606.0 311.4,602.4 311.3,602.0 310.7,598.0 310.6,594.0 311.4,592.1 312.8,590.0 315.4,588.5 319.4,589.0 323.0,590.0 323.4,590.1 327.4,593.0 328.3,594.0 331.2,598.0 331.4,598.2 333.2,602.0 334.7,606.0 335.4,609.3 335.5,610.0 335.6,614.0 335.8,618.0 336.2,622.0 337.2,626.0 338.3,630.0 338.2,634.0 336.9,638.0 335.4,641.0 334.7,642.0 332.1,646.0 331.4,647.4 330.1,650.0 328.9,654.0 328.5,658.0 328.7,662.0 329.4,666.0 330.1,670.0 329.4,674.0 327.4,676.0 324.5,678.0 323.4,678.4"/>
</g>
<circle cx="273.35" cy="584.0" r="164.0" fill="none" stroke="#1a1718" stroke-width="3.3"/>
<polyline points="243.5,422.5 273.7,396.3 303.7,422.5" fill="none" stroke="#1a1718" stroke-width="2.8" stroke-linejoin="miter"/>
<path d="M110.8,563 C108,556.5 99,555 96.5,563 C94,575 93.5,600 94.5,614 C96,622 99,630 103,630.5 C107,631 110,627 112.3,624.5" fill="none" stroke="#1a1718" stroke-width="3.3"/>
<path d="M435.9,563 C438.7,556.5 447.7,555 450.2,563 C452.7,575 453.2,600 452.2,614 C450.7,622 447.7,630 443.7,630.5 C439.7,631 436.7,627 434.4,624.5" fill="none" stroke="#1a1718" stroke-width="3.3"/>
<path d="M238.9 440.5L247.7 440.5M240.2 437.4L246.4 443.6M243.3 436.1L243.3 444.9M246.4 437.4L240.2 443.6M268.8 436.6L277.6 436.6M270.1 433.5L276.3 439.8M273.2 432.2L273.2 441.0M276.3 433.5L270.1 439.8M299.0 439.7L307.8 439.7M300.3 436.6L306.5 442.9M303.4 435.3L303.4 444.1M306.5 436.6L300.3 442.9M256.0 452.5L264.8 452.5M257.3 449.4L263.5 455.6M260.4 448.1L260.4 456.9M263.5 449.4L257.3 455.6M282.3 452.5L291.1 452.5M283.6 449.4L289.8 455.6M286.7 448.1L286.7 456.9M289.8 449.4L283.6 455.6M268.8 468.8L277.6 468.8M270.1 465.7L276.3 471.9M273.2 464.4L273.2 473.2M276.3 465.7L270.1 471.9M294.0 472.7L302.8 472.7M295.2 469.6L301.5 475.8M298.4 468.3L298.4 477.1M301.5 469.6L295.2 475.8M257.1 488.2L265.9 488.2M258.4 485.1L264.7 491.3M261.5 483.8L261.5 492.6M264.7 485.1L258.4 491.3M280.4 488.2L289.2 488.2M281.7 485.1L287.9 491.3M284.8 483.8L284.8 492.6M287.9 485.1L281.7 491.3M304.4 495.2L313.2 495.2M305.7 492.0L311.9 498.3M308.8 490.8L308.8 499.6M311.9 492.0L305.7 498.3M320.3 482.4L329.1 482.4M321.6 479.3L327.8 485.5M324.7 478.0L324.7 486.8M327.8 479.3L321.6 485.5M341.6 495.9L350.4 495.9M342.9 492.8L349.1 499.0M346.0 491.5L346.0 500.3M349.1 492.8L342.9 499.0M381.9 479.7L390.7 479.7M383.2 476.5L389.4 482.8M386.3 475.3L386.3 484.1M389.4 476.5L383.2 482.8M380.4 505.6L389.2 505.6M381.7 502.5L387.9 508.7M384.8 501.2L384.8 510.0M387.9 502.5L381.7 508.7M406.3 504.5L415.1 504.5M407.6 501.3L413.8 507.6M410.7 500.1L410.7 508.9M413.8 501.3L407.6 507.6M290.9 509.5L299.7 509.5M292.1 506.4L298.4 512.6M295.3 505.1L295.3 513.9M298.4 506.4L292.1 512.6M313.3 518.0L322.1 518.0M314.6 514.9L320.8 521.1M317.7 513.6L317.7 522.4M320.8 514.9L314.6 521.1M328.8 508.7L337.6 508.7M330.1 505.6L336.3 511.8M333.2 504.3L333.2 513.1M336.3 505.6L330.1 511.8M280.4 527.7L289.2 527.7M281.7 524.6L287.9 530.8M284.8 523.3L284.8 532.1M287.9 524.6L281.7 530.8M299.8 533.5L308.6 533.5M301.1 530.4L307.3 536.6M304.2 529.1L304.2 537.9M307.3 530.4L301.1 536.6M326.9 538.6L335.7 538.6M328.2 535.4L334.4 541.7M331.3 534.2L331.3 543.0M334.4 535.4L328.2 541.7M343.6 529.6L352.4 529.6M344.8 526.5L351.1 532.8M348.0 525.2L348.0 534.0M351.1 526.5L344.8 532.8M376.5 536.6L385.3 536.6M377.8 533.5L384.0 539.7M380.9 532.2L380.9 541.0M384.0 533.5L377.8 539.7M401.3 529.6L410.1 529.6M402.6 526.5L408.8 532.8M405.7 525.2L405.7 534.0M408.8 526.5L402.6 532.8M361.8 551.0L370.6 551.0M363.1 547.8L369.3 554.1M366.2 546.6L366.2 555.4M369.3 547.8L363.1 554.1M343.2 559.1L352.0 559.1M344.5 556.0L350.7 562.2M347.6 554.7L347.6 563.5M350.7 556.0L344.5 562.2M416.0 554.1L424.8 554.1M417.3 550.9L423.5 557.2M420.4 549.7L420.4 558.5M423.5 550.9L417.3 557.2M302.9 573.4L311.7 573.4M304.2 570.3L310.4 576.5M307.3 569.0L307.3 577.8M310.4 570.3L304.2 576.5M325.0 570.3L333.8 570.3M326.2 567.2L332.5 573.4M329.4 565.9L329.4 574.7M332.5 567.2L326.2 573.4M356.0 581.2L364.8 581.2M357.2 578.1L363.5 584.3M360.4 576.8L360.4 585.6M363.5 578.1L357.2 584.3M337.7 587.0L346.5 587.0M339.0 583.9L345.3 590.1M342.1 582.6L342.1 591.4M345.3 583.9L339.0 590.1M405.2 581.2L414.0 581.2M406.5 578.1L412.7 584.3M409.6 576.8L409.6 585.6M412.7 578.1L406.5 584.3M290.1 594.7L298.9 594.7M291.4 591.6L297.6 597.8M294.5 590.3L294.5 599.1M297.6 591.6L291.4 597.8M315.3 590.9L324.1 590.9M316.6 587.8L322.8 594.0M319.7 586.5L319.7 595.3M322.8 587.8L316.6 594.0M412.9 603.3L421.7 603.3M414.2 600.1L420.4 606.4M417.3 598.9L417.3 607.7M420.4 600.1L414.2 606.4M327.7 609.5L336.5 609.5M329.0 606.3L335.2 612.6M332.1 605.1L332.1 613.9M335.2 606.3L329.0 612.6M395.9 622.6L404.7 622.6M397.2 619.5L403.4 625.7M400.3 618.2L400.3 627.0M403.4 619.5L397.2 625.7M333.9 632.3L342.7 632.3M335.2 629.2L341.4 635.4M338.3 627.9L338.3 636.7M341.4 629.2L335.2 635.4M374.6 631.5L383.4 631.5M375.8 628.4L382.1 634.7M379.0 627.1L379.0 635.9M382.1 628.4L375.8 634.7M398.6 645.9L407.4 645.9M399.9 642.8L406.1 649.0M403.0 641.5L403.0 650.3M406.1 642.8L399.9 649.0M301.7 648.2L310.5 648.2M303.0 645.1L309.2 651.3M306.1 643.8L306.1 652.6M309.2 645.1L303.0 651.3M319.1 654.0L327.9 654.0M320.4 650.9L326.7 657.1M323.5 649.6L323.5 658.4M326.7 650.9L320.4 657.1M336.6 659.4L345.4 659.4M337.9 656.3L344.1 662.6M341.0 655.0L341.0 663.8M344.1 656.3L337.9 662.6M354.0 661.8L362.8 661.8M355.3 658.7L361.5 664.9M358.4 657.4L358.4 666.2M361.5 658.7L355.3 664.9M376.5 658.7L385.3 658.7M377.8 655.6L384.0 661.8M380.9 654.3L380.9 663.1M384.0 655.6L377.8 661.8M294.0 668.4L302.8 668.4M295.2 665.2L301.5 671.5M298.4 664.0L298.4 672.8M301.5 665.2L295.2 671.5M312.6 678.0L321.4 678.0M313.8 674.9L320.1 681.2M317.0 673.6L317.0 682.4M320.1 674.9L313.8 681.2M370.7 686.6L379.5 686.6M372.0 683.5L378.2 689.7M375.1 682.2L375.1 691.0M378.2 683.5L372.0 689.7" stroke="#1a1718" stroke-width="1.15" fill="none"/>
<path d="M273.4 582.2l1.8 1.8l-1.8 1.8l-1.8-1.8zM281.5 562.5l1.8 1.8l-1.8 1.8l-1.8-1.8zM294.5 579.4l1.8 1.8l-1.8 1.8l-1.8-1.8zM286.4 599.1l1.8 1.8l-1.8 1.8l-1.8-1.8zM265.2 601.9l1.8 1.8l-1.8 1.8l-1.8-1.8zM252.2 585.0l1.8 1.8l-1.8 1.8l-1.8-1.8zM260.3 565.3l1.8 1.8l-1.8 1.8l-1.8-1.8zM303.3 551.9l1.8 1.8l-1.8 1.8l-1.8-1.8zM303.7 612.2l1.8 1.8l-1.8 1.8l-1.8-1.8zM284.6 623.3l1.8 1.8l-1.8 1.8l-1.8-1.8zM262.5 623.4l1.8 1.8l-1.8 1.8l-1.8-1.8zM243.4 612.5l1.8 1.8l-1.8 1.8l-1.8-1.8zM232.2 593.5l1.8 1.8l-1.8 1.8l-1.8-1.8zM232.1 571.4l1.8 1.8l-1.8 1.8l-1.8-1.8zM243.0 552.2l1.8 1.8l-1.8 1.8l-1.8-1.8zM262.1 541.1l1.8 1.8l-1.8 1.8l-1.8-1.8zM284.2 541.0l1.8 1.8l-1.8 1.8l-1.8-1.8zM313.5 632.0l1.8 1.8l-1.8 1.8l-1.8-1.8zM292.8 643.1l1.8 1.8l-1.8 1.8l-1.8-1.8zM269.4 646.0l1.8 1.8l-1.8 1.8l-1.8-1.8zM246.6 640.3l1.8 1.8l-1.8 1.8l-1.8-1.8zM227.5 626.7l1.8 1.8l-1.8 1.8l-1.8-1.8zM214.5 607.2l1.8 1.8l-1.8 1.8l-1.8-1.8zM209.4 584.2l1.8 1.8l-1.8 1.8l-1.8-1.8zM213.0 561.0l1.8 1.8l-1.8 1.8l-1.8-1.8zM224.8 540.6l1.8 1.8l-1.8 1.8l-1.8-1.8zM243.1 525.9l1.8 1.8l-1.8 1.8l-1.8-1.8zM265.5 518.7l1.8 1.8l-1.8 1.8l-1.8-1.8zM326.7 546.8l1.8 1.8l-1.8 1.8l-1.8-1.8zM355.4 605.3l1.8 1.8l-1.8 1.8l-1.8-1.8zM309.6 659.4l1.8 1.8l-1.8 1.8l-1.8-1.8zM286.4 666.5l1.8 1.8l-1.8 1.8l-1.8-1.8zM262.1 666.7l1.8 1.8l-1.8 1.8l-1.8-1.8zM238.8 660.2l1.8 1.8l-1.8 1.8l-1.8-1.8zM218.2 647.2l1.8 1.8l-1.8 1.8l-1.8-1.8zM202.1 629.1l1.8 1.8l-1.8 1.8l-1.8-1.8zM191.8 607.1l1.8 1.8l-1.8 1.8l-1.8-1.8zM188.1 583.1l1.8 1.8l-1.8 1.8l-1.8-1.8zM191.3 559.1l1.8 1.8l-1.8 1.8l-1.8-1.8zM201.1 536.9l1.8 1.8l-1.8 1.8l-1.8-1.8zM216.8 518.4l1.8 1.8l-1.8 1.8l-1.8-1.8zM237.1 505.0l1.8 1.8l-1.8 1.8l-1.8-1.8zM260.3 497.9l1.8 1.8l-1.8 1.8l-1.8-1.8zM284.6 497.7l1.8 1.8l-1.8 1.8l-1.8-1.8zM307.9 504.2l1.8 1.8l-1.8 1.8l-1.8-1.8zM328.5 517.2l1.8 1.8l-1.8 1.8l-1.8-1.8zM367.1 632.9l1.8 1.8l-1.8 1.8l-1.8-1.8zM334.4 669.6l1.8 1.8l-1.8 1.8l-1.8-1.8zM288.7 687.7l1.8 1.8l-1.8 1.8l-1.8-1.8zM263.9 688.4l1.8 1.8l-1.8 1.8l-1.8-1.8zM239.7 683.4l1.8 1.8l-1.8 1.8l-1.8-1.8zM217.3 672.9l1.8 1.8l-1.8 1.8l-1.8-1.8zM197.9 657.5l1.8 1.8l-1.8 1.8l-1.8-1.8zM182.6 638.1l1.8 1.8l-1.8 1.8l-1.8-1.8zM172.1 615.6l1.8 1.8l-1.8 1.8l-1.8-1.8zM167.1 591.4l1.8 1.8l-1.8 1.8l-1.8-1.8zM167.9 566.6l1.8 1.8l-1.8 1.8l-1.8-1.8zM174.3 542.7l1.8 1.8l-1.8 1.8l-1.8-1.8zM186.1 521.0l1.8 1.8l-1.8 1.8l-1.8-1.8zM202.6 502.5l1.8 1.8l-1.8 1.8l-1.8-1.8zM222.9 488.3l1.8 1.8l-1.8 1.8l-1.8-1.8zM245.9 479.2l1.8 1.8l-1.8 1.8l-1.8-1.8zM357.0 516.2l1.8 1.8l-1.8 1.8l-1.8-1.8zM370.0 537.3l1.8 1.8l-1.8 1.8l-1.8-1.8zM377.8 560.8l1.8 1.8l-1.8 1.8l-1.8-1.8zM379.9 585.4l1.8 1.8l-1.8 1.8l-1.8-1.8zM376.3 609.9l1.8 1.8l-1.8 1.8l-1.8-1.8zM355.8 680.0l1.8 1.8l-1.8 1.8l-1.8-1.8zM334.4 694.6l1.8 1.8l-1.8 1.8l-1.8-1.8zM310.5 704.6l1.8 1.8l-1.8 1.8l-1.8-1.8zM285.1 709.6l1.8 1.8l-1.8 1.8l-1.8-1.8zM259.2 709.3l1.8 1.8l-1.8 1.8l-1.8-1.8zM233.9 703.9l1.8 1.8l-1.8 1.8l-1.8-1.8zM210.3 693.5l1.8 1.8l-1.8 1.8l-1.8-1.8zM189.1 678.5l1.8 1.8l-1.8 1.8l-1.8-1.8zM171.5 659.6l1.8 1.8l-1.8 1.8l-1.8-1.8zM158.0 637.5l1.8 1.8l-1.8 1.8l-1.8-1.8zM149.2 613.1l1.8 1.8l-1.8 1.8l-1.8-1.8zM145.5 587.5l1.8 1.8l-1.8 1.8l-1.8-1.8zM147.1 561.7l1.8 1.8l-1.8 1.8l-1.8-1.8zM153.8 536.7l1.8 1.8l-1.8 1.8l-1.8-1.8zM165.4 513.5l1.8 1.8l-1.8 1.8l-1.8-1.8zM181.4 493.2l1.8 1.8l-1.8 1.8l-1.8-1.8zM201.2 476.5l1.8 1.8l-1.8 1.8l-1.8-1.8zM224.0 464.2l1.8 1.8l-1.8 1.8l-1.8-1.8zM248.7 456.7l1.8 1.8l-1.8 1.8l-1.8-1.8zM274.5 454.3l1.8 1.8l-1.8 1.8l-1.8-1.8zM300.2 457.1l1.8 1.8l-1.8 1.8l-1.8-1.8zM324.9 465.1l1.8 1.8l-1.8 1.8l-1.8-1.8zM347.4 477.9l1.8 1.8l-1.8 1.8l-1.8-1.8zM366.9 494.9l1.8 1.8l-1.8 1.8l-1.8-1.8zM382.5 515.5l1.8 1.8l-1.8 1.8l-1.8-1.8zM393.7 538.9l1.8 1.8l-1.8 1.8l-1.8-1.8zM400.0 564.0l1.8 1.8l-1.8 1.8l-1.8-1.8zM401.0 589.8l1.8 1.8l-1.8 1.8l-1.8-1.8zM387.7 639.6l1.8 1.8l-1.8 1.8l-1.8-1.8zM336.4 715.6l1.8 1.8l-1.8 1.8l-1.8-1.8zM310.8 725.0l1.8 1.8l-1.8 1.8l-1.8-1.8zM284.0 729.4l1.8 1.8l-1.8 1.8l-1.8-1.8zM256.7 728.9l1.8 1.8l-1.8 1.8l-1.8-1.8zM230.1 723.3l1.8 1.8l-1.8 1.8l-1.8-1.8zM204.9 713.0l1.8 1.8l-1.8 1.8l-1.8-1.8zM182.0 698.1l1.8 1.8l-1.8 1.8l-1.8-1.8zM162.3 679.4l1.8 1.8l-1.8 1.8l-1.8-1.8zM146.3 657.3l1.8 1.8l-1.8 1.8l-1.8-1.8zM134.7 632.7l1.8 1.8l-1.8 1.8l-1.8-1.8zM127.7 606.4l1.8 1.8l-1.8 1.8l-1.8-1.8zM125.8 579.2l1.8 1.8l-1.8 1.8l-1.8-1.8zM128.8 552.1l1.8 1.8l-1.8 1.8l-1.8-1.8zM136.8 526.1l1.8 1.8l-1.8 1.8l-1.8-1.8zM149.5 502.0l1.8 1.8l-1.8 1.8l-1.8-1.8zM166.3 480.6l1.8 1.8l-1.8 1.8l-1.8-1.8zM186.8 462.6l1.8 1.8l-1.8 1.8l-1.8-1.8zM210.3 448.8l1.8 1.8l-1.8 1.8l-1.8-1.8zM262.7 435.0l1.8 1.8l-1.8 1.8l-1.8-1.8zM290.0 435.5l1.8 1.8l-1.8 1.8l-1.8-1.8zM316.6 441.1l1.8 1.8l-1.8 1.8l-1.8-1.8zM341.8 451.4l1.8 1.8l-1.8 1.8l-1.8-1.8zM364.7 466.3l1.8 1.8l-1.8 1.8l-1.8-1.8zM400.4 507.1l1.8 1.8l-1.8 1.8l-1.8-1.8zM420.9 585.2l1.8 1.8l-1.8 1.8l-1.8-1.8zM417.9 612.3l1.8 1.8l-1.8 1.8l-1.8-1.8zM397.2 662.4l1.8 1.8l-1.8 1.8l-1.8-1.8zM359.9 701.8l1.8 1.8l-1.8 1.8l-1.8-1.8z" stroke="#4a4030" stroke-width="0.6" fill="none"/>
<g shape-rendering="crispEdges">
<path fill="#37379b" d="M1169.72 762.02h4.43v12.86h-4.43zM1173.95 749.36h4.43v25.52h-4.43zM1178.18 749.36h4.43v12.86h-4.43z"/>
<path fill="#37389b" d="M1178.18 762.02h4.43v12.86h-4.43z"/>
<path fill="#37389b" d="M1182.40 749.36h4.43v12.86h-4.43z"/>
<path fill="#36399c" d="M1169.72 749.36h4.43v12.86h-4.43z"/>
<path fill="#294ca4" d="M1165.49 762.02h4.43v12.86h-4.43z"/>
<path fill="#0a77c0" d="M1161.26 762.02h4.43v12.86h-4.43z"/>
<path fill="#0585cc" d="M1178.18 648.08h4.43v12.86h-4.43z"/>
<path fill="#0093d8" d="M1135.90 762.02h4.43v12.86h-4.43zM1161.26 635.42h4.43v12.86h-4.43zM1165.49 610.10h4.43v12.86h-4.43zM1173.95 736.70h4.43v12.86h-4.43zM1178.18 635.42h4.43v12.86h-4.43zM1178.18 774.68h4.43v12.86h-4.43z"/>
<path fill="#009ee1" d="M1131.67 762.02h4.43v12.86h-4.43zM1140.12 762.02h4.43v12.86h-4.43zM1157.04 762.02h4.43v12.86h-4.43zM1161.26 610.10h4.43v25.52h-4.43zM1161.26 648.08h4.43v12.86h-4.43zM1165.49 572.12h4.43v38.18h-4.43zM1165.49 622.76h4.43v25.52h-4.43zM1165.49 749.36h4.43v12.86h-4.43zM1169.72 736.70h4.43v12.86h-4.43zM1173.95 774.68h4.43v12.86h-4.43zM1178.18 660.74h4.43v12.86h-4.43z"/>
<path fill="#00a9ea" d="M1144.35 762.02h4.43v12.86h-4.43zM1152.81 762.02h4.43v12.86h-4.43zM1161.26 597.44h4.43v12.86h-4.43zM1165.49 546.80h4.43v25.52h-4.43zM1165.49 648.08h4.43v12.86h-4.43zM1169.72 774.68h4.43v12.86h-4.43zM1178.18 622.76h4.43v12.86h-4.43zM1178.18 736.70h4.43v12.86h-4.43z"/>
<path fill="#00aeee" d="M1135.90 749.36h4.43v12.86h-4.43zM1140.12 749.36h4.43v12.86h-4.43zM1148.58 762.02h4.43v12.86h-4.43zM1157.04 622.76h4.43v38.18h-4.43zM1161.26 559.46h4.43v38.18h-4.43zM1161.26 749.36h4.43v12.86h-4.43zM1173.95 622.76h4.43v50.84h-4.43zM1178.18 597.44h4.43v25.52h-4.43zM1182.40 736.70h4.43v12.86h-4.43z"/>
<path fill="#00afed" d="M1144.35 749.36h4.43v12.86h-4.43zM1157.04 597.44h4.43v25.52h-4.43zM1157.04 749.36h4.43v12.86h-4.43zM1161.26 546.80h4.43v12.86h-4.43zM1169.72 496.16h4.43v50.84h-4.43zM1169.72 559.46h4.43v63.50h-4.43zM1173.95 597.44h4.43v25.52h-4.43zM1178.18 584.78h4.43v12.86h-4.43zM1186.63 724.04h4.43v12.86h-4.43z"/>
<path fill="#00afeb" d="M806.11 584.78h4.43v114.14h-4.43zM810.34 584.78h4.43v126.80h-4.43zM814.57 420.20h4.43v126.80h-4.43zM814.57 622.76h4.43v63.50h-4.43zM814.57 724.04h4.43v50.84h-4.43zM818.80 724.04h4.43v50.84h-4.43zM856.85 584.78h4.43v12.86h-4.43zM861.08 546.80h4.43v88.82h-4.43zM877.99 496.16h4.43v12.86h-4.43zM882.22 496.16h4.43v101.48h-4.43zM903.36 546.80h4.43v50.84h-4.43zM1042.88 584.78h4.43v76.16h-4.43zM1047.11 635.42h4.43v38.18h-4.43zM1080.93 762.02h4.43v25.52h-4.43zM1085.16 673.40h4.43v25.52h-4.43zM1085.16 736.70h4.43v50.84h-4.43zM1089.39 660.74h4.43v126.80h-4.43zM1093.62 521.48h4.43v266.06h-4.43zM1097.84 496.16h4.43v291.38h-4.43zM1102.07 673.40h4.43v38.18h-4.43zM1102.07 736.70h4.43v12.86h-4.43zM1106.30 698.72h4.43v63.50h-4.43zM1110.53 711.38h4.43v50.84h-4.43zM1114.76 724.04h4.43v38.18h-4.43zM1118.98 736.70h4.43v38.18h-4.43zM1123.21 749.36h4.43v25.52h-4.43zM1127.44 749.36h4.43v25.52h-4.43zM1131.67 749.36h4.43v12.86h-4.43zM1148.58 635.42h4.43v25.52h-4.43zM1148.58 749.36h4.43v12.86h-4.43zM1152.81 420.20h4.43v253.40h-4.43zM1152.81 749.36h4.43v12.86h-4.43zM1157.04 534.14h4.43v63.50h-4.43zM1157.04 660.74h4.43v12.86h-4.43zM1161.26 534.14h4.43v12.86h-4.43zM1161.26 660.74h4.43v12.86h-4.43zM1161.26 774.68h4.43v12.86h-4.43zM1165.49 420.20h4.43v126.80h-4.43zM1165.49 660.74h4.43v12.86h-4.43zM1165.49 736.70h4.43v12.86h-4.43zM1165.49 774.68h4.43v12.86h-4.43zM1169.72 420.20h4.43v76.16h-4.43zM1169.72 546.80h4.43v12.86h-4.43zM1169.72 622.76h4.43v63.50h-4.43zM1169.72 724.04h4.43v12.86h-4.43zM1173.95 546.80h4.43v50.84h-4.43zM1173.95 673.40h4.43v12.86h-4.43zM1173.95 724.04h4.43v12.86h-4.43zM1178.18 420.20h4.43v164.78h-4.43zM1178.18 673.40h4.43v25.52h-4.43zM1178.18 724.04h4.43v12.86h-4.43zM1182.40 622.76h4.43v50.84h-4.43zM1182.40 724.04h4.43v12.86h-4.43z"/>
<path fill="#00b0ea" d="M806.11 559.46h4.43v25.52h-4.43zM810.34 724.04h4.43v50.84h-4.43zM814.57 686.06h4.43v25.52h-4.43zM856.85 572.12h4.43v12.86h-4.43zM856.85 597.44h4.43v12.86h-4.43zM877.99 508.82h4.43v101.48h-4.43zM882.22 483.50h4.43v12.86h-4.43zM882.22 597.44h4.43v12.86h-4.43zM1042.88 660.74h4.43v12.86h-4.43zM1047.11 622.76h4.43v12.86h-4.43zM1047.11 774.68h4.43v12.86h-4.43zM1051.34 787.34h4.43v12.86h-4.43zM1085.16 660.74h4.43v12.86h-4.43zM1085.16 698.72h4.43v38.18h-4.43zM1089.39 648.08h4.43v12.86h-4.43zM1093.62 508.82h4.43v12.86h-4.43zM1097.84 432.86h4.43v63.50h-4.43zM1102.07 660.74h4.43v12.86h-4.43zM1102.07 711.38h4.43v25.52h-4.43zM1102.07 749.36h4.43v12.86h-4.43zM1106.30 686.06h4.43v12.86h-4.43zM1114.76 711.38h4.43v12.86h-4.43zM1114.76 762.02h4.43v12.86h-4.43zM1123.21 420.20h4.43v101.48h-4.43zM1131.67 420.20h4.43v50.84h-4.43zM1148.58 622.76h4.43v12.86h-4.43zM1148.58 660.74h4.43v12.86h-4.43zM1157.04 521.48h4.43v12.86h-4.43zM1157.04 774.68h4.43v12.86h-4.43zM1161.26 521.48h4.43v12.86h-4.43zM1173.95 534.14h4.43v12.86h-4.43zM1173.95 686.06h4.43v12.86h-4.43zM1182.40 610.10h4.43v12.86h-4.43zM1186.63 635.42h4.43v25.52h-4.43z"/>
<path fill="#09b2df" d="M806.11 546.80h4.43v12.86h-4.43zM810.34 711.38h4.43v12.86h-4.43zM814.57 597.44h4.43v25.52h-4.43zM814.57 711.38h4.43v12.86h-4.43zM823.02 736.70h4.43v12.86h-4.43zM839.94 698.72h4.43v25.52h-4.43zM844.16 698.72h4.43v25.52h-4.43zM856.85 559.46h4.43v12.86h-4.43zM856.85 610.10h4.43v12.86h-4.43zM861.08 534.14h4.43v12.86h-4.43zM861.08 635.42h4.43v12.86h-4.43zM865.30 724.04h4.43v25.52h-4.43zM869.53 724.04h4.43v25.52h-4.43zM873.76 724.04h4.43v25.52h-4.43zM877.99 610.10h4.43v12.86h-4.43zM877.99 724.04h4.43v25.52h-4.43zM882.22 470.84h4.43v12.86h-4.43zM886.44 724.04h4.43v25.52h-4.43zM890.67 724.04h4.43v12.86h-4.43zM903.36 521.48h4.43v25.52h-4.43zM903.36 597.44h4.43v12.86h-4.43zM911.81 736.70h4.43v12.86h-4.43zM1013.28 546.80h4.43v12.86h-4.43zM1042.88 572.12h4.43v12.86h-4.43zM1042.88 774.68h4.43v12.86h-4.43zM1047.11 610.10h4.43v12.86h-4.43zM1047.11 673.40h4.43v12.86h-4.43zM1055.56 787.34h4.43v12.86h-4.43zM1080.93 749.36h4.43v12.86h-4.43zM1093.62 496.16h4.43v12.86h-4.43zM1097.84 420.20h4.43v12.86h-4.43zM1102.07 762.02h4.43v12.86h-4.43zM1106.30 673.40h4.43v12.86h-4.43zM1106.30 762.02h4.43v12.86h-4.43zM1110.53 698.72h4.43v12.86h-4.43zM1110.53 762.02h4.43v12.86h-4.43zM1118.98 724.04h4.43v12.86h-4.43zM1131.67 470.84h4.43v12.86h-4.43zM1157.04 508.82h4.43v12.86h-4.43zM1161.26 432.86h4.43v12.86h-4.43zM1161.26 508.82h4.43v12.86h-4.43zM1161.26 736.70h4.43v12.86h-4.43zM1165.49 673.40h4.43v12.86h-4.43zM1165.49 800.00h4.43v12.86h-4.43zM1173.95 496.16h4.43v38.18h-4.43zM1186.63 622.76h4.43v12.86h-4.43zM1190.86 635.42h4.43v25.52h-4.43z"/>
<path fill="#12b4d4" d="M806.11 534.14h4.43v12.86h-4.43zM810.34 572.12h4.43v12.86h-4.43zM814.57 546.80h4.43v12.86h-4.43zM814.57 584.78h4.43v12.86h-4.43zM823.02 724.04h4.43v12.86h-4.43zM823.02 762.02h4.43v12.86h-4.43zM856.85 622.76h4.43v12.86h-4.43zM877.99 483.50h4.43v12.86h-4.43zM877.99 622.76h4.43v12.86h-4.43zM882.22 610.10h4.43v12.86h-4.43zM890.67 736.70h4.43v12.86h-4.43zM907.58 736.70h4.43v12.86h-4.43zM1013.28 559.46h4.43v25.52h-4.43zM1030.20 420.20h4.43v25.52h-4.43zM1047.11 787.34h4.43v12.86h-4.43zM1051.34 774.68h4.43v12.86h-4.43zM1080.93 673.40h4.43v25.52h-4.43zM1085.16 787.34h4.43v12.86h-4.43zM1089.39 635.42h4.43v12.86h-4.43zM1089.39 787.34h4.43v12.86h-4.43zM1102.07 648.08h4.43v12.86h-4.43zM1106.30 660.74h4.43v12.86h-4.43zM1123.21 521.48h4.43v12.86h-4.43zM1123.21 774.68h4.43v12.86h-4.43zM1127.44 774.68h4.43v12.86h-4.43zM1135.90 736.70h4.43v12.86h-4.43zM1140.12 736.70h4.43v12.86h-4.43zM1144.35 736.70h4.43v12.86h-4.43zM1148.58 610.10h4.43v12.86h-4.43zM1148.58 736.70h4.43v12.86h-4.43zM1152.81 736.70h4.43v12.86h-4.43zM1152.81 774.68h4.43v12.86h-4.43zM1157.04 496.16h4.43v12.86h-4.43zM1157.04 736.70h4.43v12.86h-4.43zM1161.26 445.52h4.43v12.86h-4.43zM1161.26 483.50h4.43v25.52h-4.43zM1161.26 673.40h4.43v12.86h-4.43zM1169.72 686.06h4.43v12.86h-4.43zM1169.72 711.38h4.43v12.86h-4.43zM1173.95 470.84h4.43v25.52h-4.43zM1173.95 711.38h4.43v12.86h-4.43zM1178.18 711.38h4.43v12.86h-4.43zM1182.40 597.44h4.43v12.86h-4.43zM1182.40 673.40h4.43v12.86h-4.43zM1186.63 610.10h4.43v12.86h-4.43zM1190.86 420.20h4.43v12.86h-4.43zM1190.86 610.10h4.43v25.52h-4.43z"/>
<path fill="#26b7ba" d="M806.11 496.16h4.43v38.18h-4.43zM806.11 698.72h4.43v12.86h-4.43zM810.34 432.86h4.43v139.46h-4.43zM810.34 774.68h4.43v12.86h-4.43zM814.57 559.46h4.43v25.52h-4.43zM814.57 774.68h4.43v12.86h-4.43zM818.80 622.76h4.43v12.86h-4.43zM818.80 774.68h4.43v12.86h-4.43zM823.02 420.20h4.43v114.14h-4.43zM823.02 749.36h4.43v12.86h-4.43zM839.94 420.20h4.43v88.82h-4.43zM839.94 686.06h4.43v12.86h-4.43zM839.94 724.04h4.43v12.86h-4.43zM856.85 546.80h4.43v12.86h-4.43zM861.08 521.48h4.43v12.86h-4.43zM861.08 724.04h4.43v12.86h-4.43zM865.30 711.38h4.43v12.86h-4.43zM869.53 420.20h4.43v12.86h-4.43zM869.53 711.38h4.43v12.86h-4.43zM873.76 420.20h4.43v63.50h-4.43zM873.76 711.38h4.43v12.86h-4.43zM882.22 622.76h4.43v12.86h-4.43zM882.22 724.04h4.43v12.86h-4.43zM894.90 749.36h4.43v12.86h-4.43zM899.13 749.36h4.43v12.86h-4.43zM903.36 508.82h4.43v12.86h-4.43zM903.36 610.10h4.43v25.52h-4.43zM903.36 749.36h4.43v12.86h-4.43zM907.58 711.38h4.43v25.52h-4.43zM907.58 749.36h4.43v12.86h-4.43zM911.81 724.04h4.43v12.86h-4.43zM911.81 749.36h4.43v12.86h-4.43zM916.04 736.70h4.43v12.86h-4.43zM1013.28 534.14h4.43v12.86h-4.43zM1013.28 584.78h4.43v12.86h-4.43zM1030.20 445.52h4.43v25.52h-4.43zM1034.42 420.20h4.43v25.52h-4.43zM1042.88 559.46h4.43v12.86h-4.43zM1042.88 673.40h4.43v12.86h-4.43zM1042.88 762.02h4.43v12.86h-4.43zM1047.11 597.44h4.43v12.86h-4.43zM1047.11 762.02h4.43v12.86h-4.43zM1051.34 762.02h4.43v12.86h-4.43zM1055.56 774.68h4.43v12.86h-4.43zM1080.93 698.72h4.43v12.86h-4.43zM1085.16 648.08h4.43v12.86h-4.43zM1089.39 622.76h4.43v12.86h-4.43zM1106.30 521.48h4.43v88.82h-4.43zM1118.98 711.38h4.43v12.86h-4.43zM1123.21 534.14h4.43v12.86h-4.43zM1123.21 736.70h4.43v12.86h-4.43zM1131.67 736.70h4.43v12.86h-4.43zM1131.67 774.68h4.43v12.86h-4.43zM1157.04 420.20h4.43v76.16h-4.43zM1161.26 420.20h4.43v12.86h-4.43zM1161.26 458.18h4.43v25.52h-4.43zM1165.49 724.04h4.43v12.86h-4.43zM1169.72 698.72h4.43v12.86h-4.43zM1173.95 420.20h4.43v50.84h-4.43zM1173.95 698.72h4.43v12.86h-4.43zM1178.18 698.72h4.43v12.86h-4.43zM1182.40 483.50h4.43v50.84h-4.43zM1182.40 584.78h4.43v12.86h-4.43zM1186.63 420.20h4.43v63.50h-4.43zM1186.63 597.44h4.43v12.86h-4.43zM1190.86 432.86h4.43v25.52h-4.43zM1190.86 597.44h4.43v12.86h-4.43z"/>
<path fill="#53c0a8" d="M797.66 420.20h4.43v12.86h-4.43zM806.11 445.52h4.43v50.84h-4.43zM810.34 420.20h4.43v12.86h-4.43zM818.80 635.42h4.43v12.86h-4.43zM818.80 711.38h4.43v12.86h-4.43zM856.85 534.14h4.43v12.86h-4.43zM861.08 483.50h4.43v38.18h-4.43zM865.30 420.20h4.43v101.48h-4.43zM869.53 432.86h4.43v50.84h-4.43zM877.99 470.84h4.43v12.86h-4.43zM903.36 496.16h4.43v12.86h-4.43zM903.36 736.70h4.43v12.86h-4.43zM907.58 762.02h4.43v12.86h-4.43zM954.09 458.18h4.43v50.84h-4.43zM1030.20 470.84h4.43v12.86h-4.43zM1034.42 445.52h4.43v25.52h-4.43zM1042.88 749.36h4.43v12.86h-4.43zM1042.88 787.34h4.43v12.86h-4.43zM1047.11 584.78h4.43v12.86h-4.43zM1047.11 686.06h4.43v12.86h-4.43zM1047.11 736.70h4.43v25.52h-4.43zM1051.34 724.04h4.43v25.52h-4.43zM1055.56 762.02h4.43v12.86h-4.43zM1059.79 774.68h4.43v25.52h-4.43zM1076.70 774.68h4.43v12.86h-4.43zM1080.93 660.74h4.43v12.86h-4.43zM1080.93 711.38h4.43v38.18h-4.43zM1089.39 610.10h4.43v12.86h-4.43zM1093.62 787.34h4.43v12.86h-4.43zM1102.07 635.42h4.43v12.86h-4.43zM1102.07 774.68h4.43v12.86h-4.43zM1106.30 508.82h4.43v12.86h-4.43zM1106.30 610.10h4.43v25.52h-4.43zM1114.76 698.72h4.43v12.86h-4.43zM1118.98 774.68h4.43v12.86h-4.43zM1127.44 635.42h4.43v25.52h-4.43zM1127.44 736.70h4.43v12.86h-4.43zM1144.35 622.76h4.43v12.86h-4.43zM1148.58 774.68h4.43v12.86h-4.43zM1152.81 673.40h4.43v12.86h-4.43zM1157.04 673.40h4.43v12.86h-4.43zM1182.40 470.84h4.43v12.86h-4.43zM1182.40 534.14h4.43v12.86h-4.43zM1182.40 686.06h4.43v12.86h-4.43zM1186.63 483.50h4.43v38.18h-4.43zM1186.63 711.38h4.43v12.86h-4.43z"/>
<path fill="#78c89c" d="M789.20 420.20h4.43v12.86h-4.43zM793.43 420.20h4.43v25.52h-4.43zM797.66 432.86h4.43v25.52h-4.43zM801.88 420.20h4.43v38.18h-4.43zM806.11 432.86h4.43v12.86h-4.43zM806.11 711.38h4.43v12.86h-4.43zM818.80 597.44h4.43v25.52h-4.43zM823.02 774.68h4.43v12.86h-4.43zM835.71 724.04h4.43v12.86h-4.43zM839.94 736.70h4.43v12.86h-4.43zM844.16 686.06h4.43v12.86h-4.43zM844.16 724.04h4.43v12.86h-4.43zM856.85 508.82h4.43v25.52h-4.43zM856.85 635.42h4.43v12.86h-4.43zM861.08 420.20h4.43v63.50h-4.43zM861.08 736.70h4.43v12.86h-4.43zM865.30 521.48h4.43v50.84h-4.43zM865.30 749.36h4.43v12.86h-4.43zM869.53 483.50h4.43v38.18h-4.43zM869.53 698.72h4.43v12.86h-4.43zM873.76 483.50h4.43v38.18h-4.43zM873.76 698.72h4.43v12.86h-4.43zM877.99 635.42h4.43v12.86h-4.43zM877.99 711.38h4.43v12.86h-4.43zM882.22 420.20h4.43v50.84h-4.43zM882.22 736.70h4.43v12.86h-4.43zM886.44 420.20h4.43v12.86h-4.43zM890.67 749.36h4.43v12.86h-4.43zM894.90 736.70h4.43v12.86h-4.43zM899.13 736.70h4.43v12.86h-4.43zM899.13 762.02h4.43v12.86h-4.43zM903.36 483.50h4.43v12.86h-4.43zM903.36 635.42h4.43v12.86h-4.43zM903.36 724.04h4.43v12.86h-4.43zM903.36 762.02h4.43v25.52h-4.43zM907.58 698.72h4.43v12.86h-4.43zM911.81 711.38h4.43v12.86h-4.43zM911.81 762.02h4.43v12.86h-4.43zM916.04 724.04h4.43v12.86h-4.43zM916.04 749.36h4.43v12.86h-4.43zM928.72 420.20h4.43v38.18h-4.43zM937.18 458.18h4.43v12.86h-4.43zM949.86 432.86h4.43v76.16h-4.43zM954.09 420.20h4.43v38.18h-4.43zM1009.06 648.08h4.43v12.86h-4.43zM1013.28 521.48h4.43v12.86h-4.43zM1013.28 597.44h4.43v12.86h-4.43zM1030.20 483.50h4.43v38.18h-4.43zM1034.42 470.84h4.43v25.52h-4.43zM1038.65 635.42h4.43v38.18h-4.43zM1042.88 534.14h4.43v25.52h-4.43zM1042.88 686.06h4.43v12.86h-4.43zM1042.88 736.70h4.43v12.86h-4.43zM1047.11 420.20h4.43v63.50h-4.43zM1047.11 534.14h4.43v50.84h-4.43zM1047.11 724.04h4.43v12.86h-4.43zM1051.34 673.40h4.43v50.84h-4.43zM1051.34 749.36h4.43v12.86h-4.43zM1055.56 724.04h4.43v38.18h-4.43zM1059.79 762.02h4.43v12.86h-4.43zM1068.25 420.20h4.43v25.52h-4.43zM1080.93 787.34h4.43v12.86h-4.43zM1089.39 572.12h4.43v38.18h-4.43zM1093.62 470.84h4.43v25.52h-4.43zM1097.84 787.34h4.43v12.86h-4.43zM1102.07 622.76h4.43v12.86h-4.43zM1106.30 458.18h4.43v50.84h-4.43zM1106.30 635.42h4.43v25.52h-4.43zM1106.30 774.68h4.43v12.86h-4.43zM1110.53 686.06h4.43v12.86h-4.43zM1114.76 420.20h4.43v12.86h-4.43zM1123.21 546.80h4.43v12.86h-4.43zM1131.67 635.42h4.43v25.52h-4.43zM1135.90 774.68h4.43v12.86h-4.43zM1144.35 610.10h4.43v12.86h-4.43zM1144.35 635.42h4.43v12.86h-4.43zM1148.58 584.78h4.43v25.52h-4.43zM1148.58 673.40h4.43v12.86h-4.43zM1173.95 787.34h4.43v12.86h-4.43zM1182.40 458.18h4.43v12.86h-4.43zM1182.40 546.80h4.43v38.18h-4.43zM1182.40 711.38h4.43v12.86h-4.43zM1186.63 521.48h4.43v25.52h-4.43zM1186.63 584.78h4.43v12.86h-4.43zM1186.63 660.74h4.43v12.86h-4.43zM1190.86 458.18h4.43v12.86h-4.43zM1190.86 584.78h4.43v12.86h-4.43z"/>
<path fill="#8fcd93" d="M789.20 432.86h4.43v12.86h-4.43zM789.20 610.10h4.43v12.86h-4.43zM793.43 445.52h4.43v12.86h-4.43zM797.66 458.18h4.43v12.86h-4.43zM801.88 458.18h4.43v12.86h-4.43zM801.88 686.06h4.43v12.86h-4.43zM806.11 420.20h4.43v12.86h-4.43zM818.80 572.12h4.43v25.52h-4.43zM823.02 534.14h4.43v12.86h-4.43zM823.02 711.38h4.43v12.86h-4.43zM827.25 736.70h4.43v12.86h-4.43zM827.25 762.02h4.43v12.86h-4.43zM831.48 724.04h4.43v25.52h-4.43zM835.71 686.06h4.43v38.18h-4.43zM835.71 736.70h4.43v12.86h-4.43zM839.94 508.82h4.43v38.18h-4.43zM839.94 673.40h4.43v12.86h-4.43zM844.16 736.70h4.43v12.86h-4.43zM856.85 496.16h4.43v12.86h-4.43zM861.08 648.08h4.43v12.86h-4.43zM861.08 711.38h4.43v12.86h-4.43zM865.30 572.12h4.43v25.52h-4.43zM865.30 698.72h4.43v12.86h-4.43zM869.53 749.36h4.43v12.86h-4.43zM873.76 521.48h4.43v25.52h-4.43zM873.76 749.36h4.43v12.86h-4.43zM877.99 432.86h4.43v38.18h-4.43zM877.99 749.36h4.43v12.86h-4.43zM882.22 635.42h4.43v12.86h-4.43zM882.22 711.38h4.43v12.86h-4.43zM882.22 749.36h4.43v12.86h-4.43zM886.44 432.86h4.43v63.50h-4.43zM886.44 711.38h4.43v12.86h-4.43zM886.44 749.36h4.43v12.86h-4.43zM890.67 420.20h4.43v12.86h-4.43zM890.67 711.38h4.43v12.86h-4.43zM894.90 559.46h4.43v76.16h-4.43zM894.90 724.04h4.43v12.86h-4.43zM894.90 762.02h4.43v12.86h-4.43zM899.13 546.80h4.43v63.50h-4.43zM899.13 724.04h4.43v12.86h-4.43zM903.36 458.18h4.43v25.52h-4.43zM903.36 711.38h4.43v12.86h-4.43zM907.58 774.68h4.43v12.86h-4.43zM924.50 432.86h4.43v50.84h-4.43zM928.72 458.18h4.43v25.52h-4.43zM932.95 432.86h4.43v63.50h-4.43zM937.18 432.86h4.43v25.52h-4.43zM937.18 470.84h4.43v12.86h-4.43zM949.86 420.20h4.43v12.86h-4.43zM949.86 508.82h4.43v12.86h-4.43zM954.09 508.82h4.43v12.86h-4.43zM1009.06 635.42h4.43v12.86h-4.43zM1009.06 660.74h4.43v12.86h-4.43zM1013.28 508.82h4.43v12.86h-4.43zM1013.28 610.10h4.43v12.86h-4.43zM1030.20 521.48h4.43v12.86h-4.43zM1034.42 496.16h4.43v12.86h-4.43zM1034.42 660.74h4.43v12.86h-4.43zM1038.65 597.44h4.43v38.18h-4.43zM1038.65 673.40h4.43v12.86h-4.43zM1038.65 774.68h4.43v12.86h-4.43zM1042.88 420.20h4.43v114.14h-4.43zM1042.88 724.04h4.43v12.86h-4.43zM1047.11 483.50h4.43v50.84h-4.43zM1047.11 698.72h4.43v25.52h-4.43zM1051.34 432.86h4.43v88.82h-4.43zM1051.34 648.08h4.43v25.52h-4.43zM1055.56 686.06h4.43v38.18h-4.43zM1059.79 724.04h4.43v38.18h-4.43zM1068.25 445.52h4.43v25.52h-4.43zM1076.70 420.20h4.43v50.84h-4.43zM1076.70 762.02h4.43v12.86h-4.43zM1076.70 787.34h4.43v12.86h-4.43zM1080.93 648.08h4.43v12.86h-4.43zM1089.39 432.86h4.43v38.18h-4.43zM1089.39 546.80h4.43v25.52h-4.43zM1093.62 420.20h4.43v50.84h-4.43zM1102.07 584.78h4.43v38.18h-4.43zM1106.30 420.20h4.43v38.18h-4.43zM1110.53 673.40h4.43v12.86h-4.43zM1110.53 774.68h4.43v12.86h-4.43zM1114.76 432.86h4.43v25.52h-4.43zM1114.76 774.68h4.43v12.86h-4.43zM1118.98 420.20h4.43v38.18h-4.43zM1118.98 698.72h4.43v12.86h-4.43zM1123.21 559.46h4.43v12.86h-4.43zM1127.44 622.76h4.43v12.86h-4.43zM1127.44 660.74h4.43v12.86h-4.43zM1131.67 483.50h4.43v12.86h-4.43zM1144.35 584.78h4.43v25.52h-4.43zM1144.35 774.68h4.43v12.86h-4.43zM1161.26 800.00h4.43v12.86h-4.43zM1165.49 686.06h4.43v12.86h-4.43zM1165.49 787.34h4.43v12.86h-4.43zM1169.72 787.34h4.43v12.86h-4.43zM1182.40 445.52h4.43v12.86h-4.43zM1182.40 698.72h4.43v12.86h-4.43zM1186.63 546.80h4.43v38.18h-4.43zM1186.63 698.72h4.43v12.86h-4.43zM1190.86 470.84h4.43v12.86h-4.43zM1190.86 572.12h4.43v12.86h-4.43zM1190.86 660.74h4.43v12.86h-4.43z"/>
<path fill="#a5d28a" d="M789.20 445.52h4.43v38.18h-4.43zM793.43 458.18h4.43v25.52h-4.43zM797.66 470.84h4.43v12.86h-4.43zM801.88 470.84h4.43v12.86h-4.43zM801.88 698.72h4.43v12.86h-4.43zM806.11 724.04h4.43v25.52h-4.43zM810.34 787.34h4.43v12.86h-4.43zM814.57 787.34h4.43v12.86h-4.43zM818.80 420.20h4.43v12.86h-4.43zM818.80 546.80h4.43v25.52h-4.43zM818.80 648.08h4.43v12.86h-4.43zM818.80 787.34h4.43v12.86h-4.43zM823.02 546.80h4.43v25.52h-4.43zM827.25 711.38h4.43v25.52h-4.43zM827.25 749.36h4.43v12.86h-4.43zM827.25 774.68h4.43v12.86h-4.43zM831.48 686.06h4.43v38.18h-4.43zM831.48 749.36h4.43v12.86h-4.43zM835.71 673.40h4.43v12.86h-4.43zM835.71 749.36h4.43v12.86h-4.43zM839.94 749.36h4.43v12.86h-4.43zM844.16 673.40h4.43v12.86h-4.43zM848.39 711.38h4.43v38.18h-4.43zM852.62 724.04h4.43v25.52h-4.43zM856.85 420.20h4.43v76.16h-4.43zM856.85 711.38h4.43v38.18h-4.43zM861.08 749.36h4.43v12.86h-4.43zM865.30 597.44h4.43v63.50h-4.43zM865.30 686.06h4.43v12.86h-4.43zM869.53 521.48h4.43v12.86h-4.43zM869.53 686.06h4.43v12.86h-4.43zM873.76 546.80h4.43v50.84h-4.43zM873.76 686.06h4.43v12.86h-4.43zM877.99 420.20h4.43v12.86h-4.43zM877.99 698.72h4.43v12.86h-4.43zM886.44 496.16h4.43v88.82h-4.43zM890.67 432.86h4.43v12.86h-4.43zM894.90 546.80h4.43v12.86h-4.43zM894.90 635.42h4.43v12.86h-4.43zM894.90 711.38h4.43v12.86h-4.43zM894.90 774.68h4.43v12.86h-4.43zM899.13 483.50h4.43v63.50h-4.43zM899.13 610.10h4.43v25.52h-4.43zM899.13 711.38h4.43v12.86h-4.43zM899.13 774.68h4.43v12.86h-4.43zM903.36 420.20h4.43v38.18h-4.43zM903.36 648.08h4.43v12.86h-4.43zM903.36 698.72h4.43v12.86h-4.43zM911.81 698.72h4.43v12.86h-4.43zM911.81 774.68h4.43v12.86h-4.43zM916.04 711.38h4.43v12.86h-4.43zM916.04 762.02h4.43v12.86h-4.43zM920.27 736.70h4.43v25.52h-4.43zM924.50 420.20h4.43v12.86h-4.43zM924.50 483.50h4.43v38.18h-4.43zM928.72 483.50h4.43v12.86h-4.43zM932.95 420.20h4.43v12.86h-4.43zM932.95 496.16h4.43v25.52h-4.43zM937.18 420.20h4.43v12.86h-4.43zM937.18 483.50h4.43v25.52h-4.43zM949.86 521.48h4.43v12.86h-4.43zM954.09 521.48h4.43v12.86h-4.43zM962.55 420.20h4.43v114.14h-4.43zM987.92 420.20h4.43v50.84h-4.43zM1013.28 483.50h4.43v25.52h-4.43zM1013.28 622.76h4.43v25.52h-4.43zM1030.20 534.14h4.43v25.52h-4.43zM1030.20 660.74h4.43v12.86h-4.43zM1034.42 648.08h4.43v12.86h-4.43zM1034.42 673.40h4.43v12.86h-4.43zM1038.65 572.12h4.43v25.52h-4.43zM1038.65 787.34h4.43v12.86h-4.43zM1042.88 698.72h4.43v25.52h-4.43zM1051.34 420.20h4.43v12.86h-4.43zM1051.34 521.48h4.43v76.16h-4.43zM1051.34 635.42h4.43v12.86h-4.43zM1051.34 800.00h4.43v12.86h-4.43zM1055.56 420.20h4.43v164.78h-4.43zM1055.56 673.40h4.43v12.86h-4.43zM1055.56 800.00h4.43v12.86h-4.43zM1059.79 698.72h4.43v25.52h-4.43zM1059.79 800.00h4.43v12.86h-4.43zM1068.25 470.84h4.43v38.18h-4.43zM1068.25 787.34h4.43v12.86h-4.43zM1072.48 787.34h4.43v12.86h-4.43zM1076.70 470.84h4.43v63.50h-4.43zM1080.93 420.20h4.43v50.84h-4.43zM1085.16 635.42h4.43v12.86h-4.43zM1089.39 420.20h4.43v12.86h-4.43zM1089.39 470.84h4.43v76.16h-4.43zM1102.07 420.20h4.43v164.78h-4.43zM1102.07 787.34h4.43v12.86h-4.43zM1110.53 420.20h4.43v12.86h-4.43zM1110.53 610.10h4.43v25.52h-4.43zM1110.53 660.74h4.43v12.86h-4.43zM1114.76 458.18h4.43v25.52h-4.43zM1118.98 458.18h4.43v76.16h-4.43zM1123.21 572.12h4.43v12.86h-4.43zM1123.21 724.04h4.43v12.86h-4.43zM1127.44 610.10h4.43v12.86h-4.43zM1131.67 622.76h4.43v12.86h-4.43zM1131.67 660.74h4.43v12.86h-4.43zM1140.12 774.68h4.43v12.86h-4.43zM1144.35 420.20h4.43v164.78h-4.43zM1148.58 420.20h4.43v164.78h-4.43zM1157.04 686.06h4.43v12.86h-4.43zM1161.26 686.06h4.43v12.86h-4.43zM1161.26 724.04h4.43v12.86h-4.43zM1165.49 711.38h4.43v12.86h-4.43zM1182.40 432.86h4.43v12.86h-4.43zM1186.63 673.40h4.43v25.52h-4.43zM1190.86 483.50h4.43v25.52h-4.43zM1190.86 546.80h4.43v25.52h-4.43zM1190.86 673.40h4.43v25.52h-4.43z"/>
<path fill="#bed971" d="M789.20 483.50h4.43v12.86h-4.43zM789.20 597.44h4.43v12.86h-4.43zM801.88 483.50h4.43v12.86h-4.43zM801.88 673.40h4.43v12.86h-4.43zM818.80 432.86h4.43v12.86h-4.43zM818.80 534.14h4.43v12.86h-4.43zM823.02 572.12h4.43v63.50h-4.43zM848.39 432.86h4.43v101.48h-4.43zM873.76 597.44h4.43v25.52h-4.43zM886.44 584.78h4.43v25.52h-4.43zM890.67 445.52h4.43v12.86h-4.43zM894.90 534.14h4.43v12.86h-4.43zM899.13 420.20h4.43v63.50h-4.43zM899.13 635.42h4.43v12.86h-4.43zM928.72 496.16h4.43v12.86h-4.43zM937.18 508.82h4.43v12.86h-4.43zM941.41 432.86h4.43v63.50h-4.43zM962.55 534.14h4.43v38.18h-4.43zM987.92 470.84h4.43v12.86h-4.43zM1013.28 470.84h4.43v12.86h-4.43zM1030.20 559.46h4.43v38.18h-4.43zM1038.65 559.46h4.43v12.86h-4.43zM1038.65 749.36h4.43v25.52h-4.43zM1051.34 597.44h4.43v38.18h-4.43zM1055.56 584.78h4.43v12.86h-4.43zM1068.25 508.82h4.43v12.86h-4.43zM1072.48 774.68h4.43v12.86h-4.43zM1076.70 534.14h4.43v76.16h-4.43zM1076.70 648.08h4.43v25.52h-4.43zM1080.93 470.84h4.43v12.86h-4.43zM1110.53 432.86h4.43v25.52h-4.43zM1110.53 559.46h4.43v50.84h-4.43zM1110.53 635.42h4.43v25.52h-4.43zM1118.98 534.14h4.43v12.86h-4.43zM1123.21 584.78h4.43v38.18h-4.43zM1127.44 597.44h4.43v12.86h-4.43zM1131.67 597.44h4.43v25.52h-4.43zM1135.90 660.74h4.43v12.86h-4.43zM1152.81 686.06h4.43v12.86h-4.43zM1161.26 787.34h4.43v12.86h-4.43zM1165.49 698.72h4.43v12.86h-4.43zM1190.86 508.82h4.43v12.86h-4.43zM1190.86 534.14h4.43v12.86h-4.43z"/>
<path fill="#d8e058" d="M789.20 496.16h4.43v25.52h-4.43zM793.43 483.50h4.43v25.52h-4.43zM793.43 622.76h4.43v25.52h-4.43zM793.43 686.06h4.43v12.86h-4.43zM797.66 483.50h4.43v12.86h-4.43zM801.88 496.16h4.43v25.52h-4.43zM801.88 622.76h4.43v50.84h-4.43zM801.88 711.38h4.43v12.86h-4.43zM806.11 749.36h4.43v38.18h-4.43zM818.80 445.52h4.43v88.82h-4.43zM818.80 660.74h4.43v12.86h-4.43zM818.80 698.72h4.43v12.86h-4.43zM823.02 635.42h4.43v25.52h-4.43zM823.02 698.72h4.43v12.86h-4.43zM827.25 420.20h4.43v215.42h-4.43zM827.25 673.40h4.43v38.18h-4.43zM831.48 420.20h4.43v228.08h-4.43zM831.48 660.74h4.43v25.52h-4.43zM831.48 762.02h4.43v25.52h-4.43zM835.71 610.10h4.43v25.52h-4.43zM835.71 660.74h4.43v12.86h-4.43zM835.71 762.02h4.43v25.52h-4.43zM839.94 546.80h4.43v50.84h-4.43zM844.16 420.20h4.43v126.80h-4.43zM844.16 749.36h4.43v12.86h-4.43zM848.39 420.20h4.43v12.86h-4.43zM848.39 698.72h4.43v12.86h-4.43zM852.62 420.20h4.43v114.14h-4.43zM852.62 698.72h4.43v25.52h-4.43zM856.85 648.08h4.43v12.86h-4.43zM856.85 698.72h4.43v12.86h-4.43zM856.85 749.36h4.43v12.86h-4.43zM861.08 660.74h4.43v12.86h-4.43zM861.08 698.72h4.43v12.86h-4.43zM865.30 660.74h4.43v25.52h-4.43zM869.53 534.14h4.43v12.86h-4.43zM869.53 673.40h4.43v12.86h-4.43zM873.76 622.76h4.43v38.18h-4.43zM873.76 673.40h4.43v12.86h-4.43zM877.99 648.08h4.43v12.86h-4.43zM877.99 686.06h4.43v12.86h-4.43zM882.22 648.08h4.43v12.86h-4.43zM882.22 698.72h4.43v12.86h-4.43zM886.44 610.10h4.43v25.52h-4.43zM890.67 458.18h4.43v38.18h-4.43zM890.67 584.78h4.43v50.84h-4.43zM890.67 698.72h4.43v12.86h-4.43zM890.67 762.02h4.43v12.86h-4.43zM894.90 521.48h4.43v12.86h-4.43zM894.90 648.08h4.43v12.86h-4.43zM894.90 698.72h4.43v12.86h-4.43zM899.13 648.08h4.43v12.86h-4.43zM899.13 698.72h4.43v12.86h-4.43zM899.13 787.34h4.43v12.86h-4.43zM903.36 660.74h4.43v38.18h-4.43zM903.36 787.34h4.43v12.86h-4.43zM907.58 686.06h4.43v12.86h-4.43zM907.58 787.34h4.43v12.86h-4.43zM911.81 420.20h4.43v114.14h-4.43zM916.04 420.20h4.43v177.44h-4.43zM916.04 774.68h4.43v12.86h-4.43zM920.27 724.04h4.43v12.86h-4.43zM920.27 762.02h4.43v12.86h-4.43zM924.50 521.48h4.43v12.86h-4.43zM924.50 736.70h4.43v38.18h-4.43zM928.72 508.82h4.43v25.52h-4.43zM932.95 521.48h4.43v25.52h-4.43zM937.18 521.48h4.43v38.18h-4.43zM941.41 420.20h4.43v12.86h-4.43zM941.41 496.16h4.43v38.18h-4.43zM945.64 420.20h4.43v12.86h-4.43zM949.86 534.14h4.43v25.52h-4.43zM954.09 534.14h4.43v12.86h-4.43zM962.55 572.12h4.43v88.82h-4.43zM983.69 420.20h4.43v152.12h-4.43zM987.92 483.50h4.43v76.16h-4.43zM1009.06 610.10h4.43v25.52h-4.43zM1009.06 774.68h4.43v12.86h-4.43zM1013.28 445.52h4.43v25.52h-4.43zM1013.28 648.08h4.43v12.86h-4.43zM1013.28 774.68h4.43v12.86h-4.43zM1017.51 420.20h4.43v12.86h-4.43zM1017.51 774.68h4.43v12.86h-4.43zM1021.74 420.20h4.43v38.18h-4.43zM1025.97 420.20h4.43v76.16h-4.43zM1030.20 597.44h4.43v63.50h-4.43zM1030.20 673.40h4.43v12.86h-4.43zM1030.20 787.34h4.43v12.86h-4.43zM1034.42 508.82h4.43v38.18h-4.43zM1034.42 622.76h4.43v25.52h-4.43zM1034.42 686.06h4.43v12.86h-4.43zM1034.42 787.34h4.43v12.86h-4.43zM1038.65 521.48h4.43v38.18h-4.43zM1038.65 686.06h4.43v12.86h-4.43zM1038.65 724.04h4.43v25.52h-4.43zM1047.11 800.00h4.43v12.86h-4.43zM1055.56 597.44h4.43v76.16h-4.43zM1059.79 420.20h4.43v164.78h-4.43zM1059.79 686.06h4.43v12.86h-4.43zM1064.02 787.34h4.43v12.86h-4.43zM1068.25 521.48h4.43v12.86h-4.43zM1068.25 774.68h4.43v12.86h-4.43zM1072.48 420.20h4.43v12.86h-4.43zM1076.70 610.10h4.43v38.18h-4.43zM1076.70 673.40h4.43v25.52h-4.43zM1076.70 749.36h4.43v12.86h-4.43zM1080.93 483.50h4.43v25.52h-4.43zM1080.93 635.42h4.43v12.86h-4.43zM1085.16 420.20h4.43v215.42h-4.43zM1093.62 800.00h4.43v12.86h-4.43zM1097.84 800.00h4.43v12.86h-4.43zM1110.53 458.18h4.43v101.48h-4.43zM1114.76 483.50h4.43v12.86h-4.43zM1114.76 686.06h4.43v12.86h-4.43zM1118.98 546.80h4.43v38.18h-4.43zM1118.98 686.06h4.43v12.86h-4.43zM1123.21 622.76h4.43v12.86h-4.43zM1123.21 711.38h4.43v12.86h-4.43zM1127.44 546.80h4.43v50.84h-4.43zM1127.44 673.40h4.43v12.86h-4.43zM1127.44 724.04h4.43v12.86h-4.43zM1131.67 546.80h4.43v50.84h-4.43zM1131.67 673.40h4.43v12.86h-4.43zM1131.67 724.04h4.43v12.86h-4.43zM1135.90 635.42h4.43v25.52h-4.43zM1135.90 673.40h4.43v12.86h-4.43zM1135.90 724.04h4.43v12.86h-4.43zM1140.12 610.10h4.43v25.52h-4.43zM1140.12 724.04h4.43v12.86h-4.43zM1144.35 648.08h4.43v12.86h-4.43zM1148.58 686.06h4.43v12.86h-4.43zM1148.58 724.04h4.43v12.86h-4.43zM1152.81 724.04h4.43v12.86h-4.43zM1157.04 724.04h4.43v12.86h-4.43zM1157.04 787.34h4.43v12.86h-4.43zM1182.40 420.20h4.43v12.86h-4.43zM1190.86 521.48h4.43v12.86h-4.43zM1195.09 420.20h4.43v12.86h-4.43zM1195.09 597.44h4.43v12.86h-4.43z"/>
<path fill="#e9e443" d="M789.20 521.48h4.43v25.52h-4.43zM789.20 572.12h4.43v25.52h-4.43zM793.43 508.82h4.43v12.86h-4.43zM793.43 648.08h4.43v38.18h-4.43zM797.66 496.16h4.43v12.86h-4.43zM797.66 648.08h4.43v50.84h-4.43zM801.88 521.48h4.43v38.18h-4.43zM823.02 787.34h4.43v12.86h-4.43zM827.25 635.42h4.43v12.86h-4.43zM827.25 660.74h4.43v12.86h-4.43zM831.48 648.08h4.43v12.86h-4.43zM835.71 534.14h4.43v76.16h-4.43zM835.71 635.42h4.43v12.86h-4.43zM839.94 597.44h4.43v25.52h-4.43zM839.94 660.74h4.43v12.86h-4.43zM839.94 762.02h4.43v25.52h-4.43zM848.39 534.14h4.43v12.86h-4.43zM848.39 686.06h4.43v12.86h-4.43zM848.39 749.36h4.43v12.86h-4.43zM861.08 686.06h4.43v12.86h-4.43zM861.08 762.02h4.43v12.86h-4.43zM869.53 546.80h4.43v12.86h-4.43zM869.53 648.08h4.43v12.86h-4.43zM877.99 673.40h4.43v12.86h-4.43zM882.22 800.00h4.43v12.86h-4.43zM886.44 635.42h4.43v12.86h-4.43zM886.44 698.72h4.43v12.86h-4.43zM886.44 800.00h4.43v12.86h-4.43zM890.67 496.16h4.43v12.86h-4.43zM890.67 546.80h4.43v38.18h-4.43zM890.67 635.42h4.43v12.86h-4.43zM890.67 774.68h4.43v12.86h-4.43zM894.90 660.74h4.43v38.18h-4.43zM894.90 787.34h4.43v12.86h-4.43zM899.13 660.74h4.43v38.18h-4.43zM907.58 673.40h4.43v12.86h-4.43zM911.81 534.14h4.43v12.86h-4.43zM911.81 686.06h4.43v12.86h-4.43zM911.81 787.34h4.43v12.86h-4.43zM916.04 597.44h4.43v12.86h-4.43zM920.27 458.18h4.43v38.18h-4.43zM920.27 774.68h4.43v12.86h-4.43zM924.50 724.04h4.43v12.86h-4.43zM924.50 774.68h4.43v12.86h-4.43zM928.72 534.14h4.43v12.86h-4.43zM928.72 800.00h4.43v12.86h-4.43zM932.95 546.80h4.43v50.84h-4.43zM937.18 559.46h4.43v25.52h-4.43zM941.41 534.14h4.43v12.86h-4.43zM945.64 432.86h4.43v88.82h-4.43zM949.86 559.46h4.43v12.86h-4.43zM954.09 546.80h4.43v12.86h-4.43zM979.46 420.20h4.43v139.46h-4.43zM983.69 572.12h4.43v12.86h-4.43zM987.92 559.46h4.43v12.86h-4.43zM996.37 420.20h4.43v50.84h-4.43zM1000.60 420.20h4.43v25.52h-4.43zM1004.83 420.20h4.43v25.52h-4.43zM1009.06 420.20h4.43v50.84h-4.43zM1009.06 597.44h4.43v12.86h-4.43zM1013.28 420.20h4.43v25.52h-4.43zM1013.28 660.74h4.43v12.86h-4.43zM1017.51 432.86h4.43v12.86h-4.43zM1021.74 458.18h4.43v50.84h-4.43zM1025.97 496.16h4.43v12.86h-4.43zM1025.97 787.34h4.43v12.86h-4.43zM1030.20 686.06h4.43v12.86h-4.43zM1034.42 546.80h4.43v12.86h-4.43zM1034.42 597.44h4.43v25.52h-4.43zM1038.65 483.50h4.43v38.18h-4.43zM1038.65 698.72h4.43v25.52h-4.43zM1042.88 800.00h4.43v12.86h-4.43zM1059.79 584.78h4.43v12.86h-4.43zM1059.79 673.40h4.43v12.86h-4.43zM1064.02 774.68h4.43v12.86h-4.43zM1072.48 432.86h4.43v101.48h-4.43zM1076.70 698.72h4.43v50.84h-4.43zM1080.93 508.82h4.43v12.86h-4.43zM1080.93 622.76h4.43v12.86h-4.43zM1089.39 800.00h4.43v12.86h-4.43zM1102.07 800.00h4.43v12.86h-4.43zM1106.30 787.34h4.43v12.86h-4.43zM1114.76 496.16h4.43v12.86h-4.43zM1118.98 584.78h4.43v12.86h-4.43zM1123.21 635.42h4.43v12.86h-4.43zM1123.21 686.06h4.43v25.52h-4.43zM1127.44 483.50h4.43v63.50h-4.43zM1127.44 686.06h4.43v12.86h-4.43zM1131.67 496.16h4.43v50.84h-4.43zM1131.67 686.06h4.43v12.86h-4.43zM1135.90 622.76h4.43v12.86h-4.43zM1135.90 686.06h4.43v12.86h-4.43zM1140.12 420.20h4.43v25.52h-4.43zM1140.12 572.12h4.43v38.18h-4.43zM1140.12 635.42h4.43v12.86h-4.43zM1144.35 724.04h4.43v12.86h-4.43zM1157.04 800.00h4.43v12.86h-4.43zM1195.09 432.86h4.43v101.48h-4.43zM1195.09 559.46h4.43v38.18h-4.43z"/>
<path fill="#fbe92e" d="M789.20 546.80h4.43v25.52h-4.43zM793.43 521.48h4.43v101.48h-4.43zM797.66 508.82h4.43v12.86h-4.43zM797.66 698.72h4.43v25.52h-4.43zM801.88 559.46h4.43v63.50h-4.43zM801.88 724.04h4.43v50.84h-4.43zM818.80 673.40h4.43v25.52h-4.43zM823.02 660.74h4.43v38.18h-4.43zM827.25 648.08h4.43v12.86h-4.43zM827.25 787.34h4.43v12.86h-4.43zM835.71 420.20h4.43v114.14h-4.43zM835.71 648.08h4.43v12.86h-4.43zM839.94 622.76h4.43v38.18h-4.43zM844.16 546.80h4.43v88.82h-4.43zM844.16 660.74h4.43v12.86h-4.43zM844.16 762.02h4.43v25.52h-4.43zM848.39 546.80h4.43v12.86h-4.43zM848.39 673.40h4.43v12.86h-4.43zM848.39 762.02h4.43v12.86h-4.43zM852.62 534.14h4.43v101.48h-4.43zM852.62 686.06h4.43v12.86h-4.43zM852.62 749.36h4.43v25.52h-4.43zM856.85 660.74h4.43v12.86h-4.43zM856.85 686.06h4.43v12.86h-4.43zM856.85 762.02h4.43v25.52h-4.43zM861.08 673.40h4.43v12.86h-4.43zM861.08 774.68h4.43v12.86h-4.43zM865.30 762.02h4.43v38.18h-4.43zM869.53 559.46h4.43v88.82h-4.43zM869.53 660.74h4.43v12.86h-4.43zM869.53 762.02h4.43v12.86h-4.43zM869.53 787.34h4.43v25.52h-4.43zM873.76 660.74h4.43v12.86h-4.43zM873.76 762.02h4.43v12.86h-4.43zM873.76 787.34h4.43v25.52h-4.43zM877.99 660.74h4.43v12.86h-4.43zM877.99 762.02h4.43v50.84h-4.43zM882.22 660.74h4.43v12.86h-4.43zM882.22 686.06h4.43v12.86h-4.43zM882.22 762.02h4.43v38.18h-4.43zM886.44 762.02h4.43v38.18h-4.43zM890.67 508.82h4.43v38.18h-4.43zM890.67 648.08h4.43v12.86h-4.43zM890.67 673.40h4.43v25.52h-4.43zM890.67 787.34h4.43v25.52h-4.43zM894.90 420.20h4.43v101.48h-4.43zM894.90 800.00h4.43v12.86h-4.43zM899.13 800.00h4.43v12.86h-4.43zM903.36 800.00h4.43v12.86h-4.43zM907.58 420.20h4.43v12.86h-4.43zM907.58 534.14h4.43v101.48h-4.43zM907.58 648.08h4.43v25.52h-4.43zM907.58 800.00h4.43v12.86h-4.43zM911.81 546.80h4.43v25.52h-4.43zM911.81 660.74h4.43v25.52h-4.43zM911.81 800.00h4.43v12.86h-4.43zM916.04 610.10h4.43v12.86h-4.43zM916.04 698.72h4.43v12.86h-4.43zM916.04 787.34h4.43v25.52h-4.43zM920.27 420.20h4.43v38.18h-4.43zM920.27 496.16h4.43v50.84h-4.43zM920.27 787.34h4.43v25.52h-4.43zM924.50 534.14h4.43v12.86h-4.43zM924.50 711.38h4.43v12.86h-4.43zM924.50 787.34h4.43v25.52h-4.43zM928.72 546.80h4.43v88.82h-4.43zM928.72 736.70h4.43v63.50h-4.43zM932.95 597.44h4.43v38.18h-4.43zM932.95 736.70h4.43v38.18h-4.43zM932.95 800.00h4.43v12.86h-4.43zM937.18 584.78h4.43v38.18h-4.43zM937.18 800.00h4.43v12.86h-4.43zM941.41 546.80h4.43v25.52h-4.43zM945.64 521.48h4.43v25.52h-4.43zM949.86 572.12h4.43v25.52h-4.43zM954.09 559.46h4.43v12.86h-4.43zM958.32 420.20h4.43v228.08h-4.43zM971.00 420.20h4.43v50.84h-4.43zM979.46 559.46h4.43v38.18h-4.43zM983.69 584.78h4.43v12.86h-4.43zM983.69 774.68h4.43v12.86h-4.43zM987.92 572.12h4.43v25.52h-4.43zM987.92 774.68h4.43v12.86h-4.43zM992.14 420.20h4.43v12.86h-4.43zM996.37 470.84h4.43v38.18h-4.43zM1000.60 445.52h4.43v88.82h-4.43zM1000.60 774.68h4.43v12.86h-4.43zM1004.83 445.52h4.43v177.44h-4.43zM1004.83 774.68h4.43v12.86h-4.43zM1009.06 470.84h4.43v12.86h-4.43zM1009.06 546.80h4.43v50.84h-4.43zM1009.06 673.40h4.43v12.86h-4.43zM1013.28 762.02h4.43v12.86h-4.43zM1013.28 787.34h4.43v12.86h-4.43zM1017.51 445.52h4.43v139.46h-4.43zM1017.51 762.02h4.43v12.86h-4.43zM1017.51 787.34h4.43v12.86h-4.43zM1021.74 508.82h4.43v38.18h-4.43zM1021.74 698.72h4.43v12.86h-4.43zM1021.74 774.68h4.43v25.52h-4.43zM1025.97 508.82h4.43v164.78h-4.43zM1025.97 686.06h4.43v38.18h-4.43zM1030.20 698.72h4.43v12.86h-4.43zM1030.20 800.00h4.43v12.86h-4.43zM1034.42 559.46h4.43v38.18h-4.43zM1034.42 698.72h4.43v12.86h-4.43zM1034.42 800.00h4.43v12.86h-4.43zM1038.65 420.20h4.43v63.50h-4.43zM1038.65 800.00h4.43v12.86h-4.43zM1059.79 597.44h4.43v25.52h-4.43zM1064.02 420.20h4.43v12.86h-4.43zM1064.02 762.02h4.43v12.86h-4.43zM1064.02 800.00h4.43v12.86h-4.43zM1068.25 534.14h4.43v25.52h-4.43zM1068.25 762.02h4.43v12.86h-4.43zM1068.25 800.00h4.43v12.86h-4.43zM1072.48 534.14h4.43v63.50h-4.43zM1072.48 660.74h4.43v12.86h-4.43zM1072.48 711.38h4.43v63.50h-4.43zM1072.48 800.00h4.43v12.86h-4.43zM1076.70 800.00h4.43v12.86h-4.43zM1080.93 521.48h4.43v101.48h-4.43zM1080.93 800.00h4.43v12.86h-4.43zM1085.16 800.00h4.43v12.86h-4.43zM1106.30 800.00h4.43v12.86h-4.43zM1110.53 800.00h4.43v12.86h-4.43zM1114.76 508.82h4.43v25.52h-4.43zM1114.76 673.40h4.43v12.86h-4.43zM1118.98 597.44h4.43v25.52h-4.43zM1118.98 673.40h4.43v12.86h-4.43zM1123.21 648.08h4.43v38.18h-4.43zM1127.44 420.20h4.43v63.50h-4.43zM1127.44 698.72h4.43v25.52h-4.43zM1131.67 698.72h4.43v25.52h-4.43zM1135.90 420.20h4.43v63.50h-4.43zM1135.90 584.78h4.43v38.18h-4.43zM1140.12 445.52h4.43v126.80h-4.43zM1140.12 648.08h4.43v12.86h-4.43zM1152.81 698.72h4.43v25.52h-4.43zM1152.81 787.34h4.43v25.52h-4.43zM1157.04 698.72h4.43v25.52h-4.43zM1161.26 698.72h4.43v25.52h-4.43zM1195.09 534.14h4.43v25.52h-4.43z"/>
<path fill="#fde62a" d="M797.66 635.42h4.43v12.86h-4.43zM844.16 635.42h4.43v12.86h-4.43zM848.39 559.46h4.43v76.16h-4.43zM852.62 635.42h4.43v12.86h-4.43zM852.62 774.68h4.43v12.86h-4.43zM886.44 686.06h4.43v12.86h-4.43zM890.67 660.74h4.43v12.86h-4.43zM907.58 432.86h4.43v38.18h-4.43zM907.58 635.42h4.43v12.86h-4.43zM911.81 572.12h4.43v38.18h-4.43zM911.81 648.08h4.43v12.86h-4.43zM916.04 622.76h4.43v38.18h-4.43zM916.04 686.06h4.43v12.86h-4.43zM920.27 546.80h4.43v12.86h-4.43zM920.27 711.38h4.43v12.86h-4.43zM924.50 546.80h4.43v12.86h-4.43zM928.72 635.42h4.43v12.86h-4.43zM928.72 724.04h4.43v12.86h-4.43zM932.95 635.42h4.43v25.52h-4.43zM932.95 774.68h4.43v12.86h-4.43zM937.18 622.76h4.43v12.86h-4.43zM941.41 572.12h4.43v38.18h-4.43zM941.41 800.00h4.43v12.86h-4.43zM945.64 546.80h4.43v12.86h-4.43zM949.86 597.44h4.43v12.86h-4.43zM954.09 572.12h4.43v12.86h-4.43zM958.32 648.08h4.43v12.86h-4.43zM962.55 660.74h4.43v12.86h-4.43zM971.00 470.84h4.43v12.86h-4.43zM979.46 597.44h4.43v25.52h-4.43zM979.46 774.68h4.43v12.86h-4.43zM983.69 597.44h4.43v12.86h-4.43zM987.92 597.44h4.43v12.86h-4.43zM992.14 432.86h4.43v50.84h-4.43zM992.14 774.68h4.43v12.86h-4.43zM996.37 774.68h4.43v12.86h-4.43zM1000.60 534.14h4.43v12.86h-4.43zM1004.83 622.76h4.43v25.52h-4.43zM1009.06 534.14h4.43v12.86h-4.43zM1009.06 762.02h4.43v12.86h-4.43zM1009.06 787.34h4.43v12.86h-4.43zM1013.28 673.40h4.43v12.86h-4.43zM1013.28 698.72h4.43v12.86h-4.43zM1017.51 584.78h4.43v38.18h-4.43zM1017.51 698.72h4.43v12.86h-4.43zM1021.74 546.80h4.43v12.86h-4.43zM1021.74 686.06h4.43v12.86h-4.43zM1021.74 711.38h4.43v12.86h-4.43zM1025.97 673.40h4.43v12.86h-4.43zM1025.97 800.00h4.43v12.86h-4.43zM1034.42 711.38h4.43v12.86h-4.43zM1034.42 774.68h4.43v12.86h-4.43zM1059.79 622.76h4.43v12.86h-4.43zM1059.79 660.74h4.43v12.86h-4.43zM1064.02 432.86h4.43v101.48h-4.43zM1064.02 736.70h4.43v25.52h-4.43zM1068.25 559.46h4.43v12.86h-4.43zM1072.48 597.44h4.43v12.86h-4.43zM1072.48 648.08h4.43v12.86h-4.43zM1072.48 673.40h4.43v12.86h-4.43zM1072.48 698.72h4.43v12.86h-4.43zM1110.53 787.34h4.43v12.86h-4.43zM1114.76 534.14h4.43v25.52h-4.43zM1114.76 660.74h4.43v12.86h-4.43zM1118.98 622.76h4.43v12.86h-4.43zM1135.90 483.50h4.43v25.52h-4.43zM1135.90 698.72h4.43v25.52h-4.43zM1144.35 660.74h4.43v25.52h-4.43zM1148.58 698.72h4.43v25.52h-4.43zM1148.58 800.00h4.43v12.86h-4.43z"/>
<path fill="#fcd72a" d="M797.66 521.48h4.43v25.52h-4.43zM797.66 622.76h4.43v12.86h-4.43zM797.66 724.04h4.43v12.86h-4.43zM831.48 787.34h4.43v12.86h-4.43zM844.16 648.08h4.43v12.86h-4.43zM848.39 635.42h4.43v12.86h-4.43zM848.39 660.74h4.43v12.86h-4.43zM852.62 648.08h4.43v25.52h-4.43zM856.85 673.40h4.43v12.86h-4.43zM865.30 800.00h4.43v12.86h-4.43zM869.53 774.68h4.43v12.86h-4.43zM873.76 774.68h4.43v12.86h-4.43zM882.22 673.40h4.43v12.86h-4.43zM886.44 648.08h4.43v12.86h-4.43zM911.81 610.10h4.43v38.18h-4.43zM916.04 660.74h4.43v25.52h-4.43zM920.27 559.46h4.43v12.86h-4.43zM924.50 559.46h4.43v12.86h-4.43zM928.72 648.08h4.43v38.18h-4.43zM928.72 711.38h4.43v12.86h-4.43zM932.95 660.74h4.43v25.52h-4.43zM932.95 724.04h4.43v12.86h-4.43zM932.95 787.34h4.43v12.86h-4.43zM937.18 635.42h4.43v38.18h-4.43zM937.18 736.70h4.43v12.86h-4.43zM937.18 787.34h4.43v12.86h-4.43zM941.41 610.10h4.43v38.18h-4.43zM945.64 559.46h4.43v63.50h-4.43zM945.64 800.00h4.43v12.86h-4.43zM949.86 610.10h4.43v38.18h-4.43zM949.86 800.00h4.43v12.86h-4.43zM954.09 584.78h4.43v63.50h-4.43zM958.32 660.74h4.43v12.86h-4.43zM962.55 673.40h4.43v12.86h-4.43zM971.00 483.50h4.43v12.86h-4.43zM979.46 622.76h4.43v12.86h-4.43zM983.69 610.10h4.43v12.86h-4.43zM983.69 762.02h4.43v12.86h-4.43zM983.69 787.34h4.43v12.86h-4.43zM987.92 762.02h4.43v12.86h-4.43zM992.14 483.50h4.43v50.84h-4.43zM996.37 508.82h4.43v12.86h-4.43zM1000.60 546.80h4.43v12.86h-4.43zM1004.83 787.34h4.43v12.86h-4.43zM1009.06 483.50h4.43v50.84h-4.43zM1009.06 686.06h4.43v25.52h-4.43zM1013.28 686.06h4.43v12.86h-4.43zM1017.51 622.76h4.43v12.86h-4.43zM1021.74 559.46h4.43v38.18h-4.43zM1021.74 660.74h4.43v25.52h-4.43zM1021.74 762.02h4.43v12.86h-4.43zM1021.74 800.00h4.43v12.86h-4.43zM1030.20 711.38h4.43v12.86h-4.43zM1034.42 724.04h4.43v12.86h-4.43zM1059.79 635.42h4.43v25.52h-4.43zM1064.02 534.14h4.43v12.86h-4.43zM1064.02 724.04h4.43v12.86h-4.43zM1068.25 572.12h4.43v12.86h-4.43zM1068.25 711.38h4.43v50.84h-4.43zM1072.48 610.10h4.43v38.18h-4.43zM1072.48 686.06h4.43v12.86h-4.43zM1114.76 559.46h4.43v12.86h-4.43zM1114.76 787.34h4.43v25.52h-4.43zM1118.98 635.42h4.43v12.86h-4.43zM1118.98 660.74h4.43v12.86h-4.43zM1118.98 787.34h4.43v12.86h-4.43zM1123.21 787.34h4.43v12.86h-4.43zM1135.90 508.82h4.43v12.86h-4.43zM1135.90 559.46h4.43v25.52h-4.43zM1144.35 711.38h4.43v12.86h-4.43zM1148.58 787.34h4.43v12.86h-4.43z"/>
<path fill="#fcc82a" d="M797.66 610.10h4.43v12.86h-4.43zM814.57 800.00h4.43v12.86h-4.43zM835.71 787.34h4.43v12.86h-4.43zM848.39 648.08h4.43v12.86h-4.43zM848.39 774.68h4.43v12.86h-4.43zM852.62 673.40h4.43v12.86h-4.43zM861.08 787.34h4.43v12.86h-4.43zM886.44 673.40h4.43v12.86h-4.43zM907.58 470.84h4.43v63.50h-4.43zM928.72 686.06h4.43v12.86h-4.43zM932.95 711.38h4.43v12.86h-4.43zM937.18 673.40h4.43v12.86h-4.43zM937.18 724.04h4.43v12.86h-4.43zM937.18 749.36h4.43v12.86h-4.43zM941.41 648.08h4.43v12.86h-4.43zM945.64 622.76h4.43v12.86h-4.43zM949.86 648.08h4.43v12.86h-4.43zM954.09 648.08h4.43v12.86h-4.43zM954.09 800.00h4.43v12.86h-4.43zM958.32 673.40h4.43v12.86h-4.43zM958.32 800.00h4.43v12.86h-4.43zM962.55 800.00h4.43v12.86h-4.43zM966.78 420.20h4.43v50.84h-4.43zM971.00 496.16h4.43v12.86h-4.43zM975.23 774.68h4.43v12.86h-4.43zM979.46 635.42h4.43v12.86h-4.43zM979.46 762.02h4.43v12.86h-4.43zM979.46 787.34h4.43v12.86h-4.43zM983.69 622.76h4.43v12.86h-4.43zM987.92 610.10h4.43v12.86h-4.43zM987.92 787.34h4.43v12.86h-4.43zM992.14 534.14h4.43v12.86h-4.43zM996.37 521.48h4.43v12.86h-4.43zM1000.60 559.46h4.43v12.86h-4.43zM1004.83 648.08h4.43v12.86h-4.43zM1004.83 762.02h4.43v12.86h-4.43zM1013.28 711.38h4.43v12.86h-4.43zM1017.51 686.06h4.43v12.86h-4.43zM1017.51 711.38h4.43v12.86h-4.43zM1017.51 800.00h4.43v12.86h-4.43zM1021.74 597.44h4.43v63.50h-4.43zM1021.74 724.04h4.43v12.86h-4.43zM1025.97 774.68h4.43v12.86h-4.43zM1030.20 774.68h4.43v12.86h-4.43zM1064.02 546.80h4.43v12.86h-4.43zM1068.25 584.78h4.43v12.86h-4.43zM1068.25 698.72h4.43v12.86h-4.43zM1114.76 572.12h4.43v12.86h-4.43zM1114.76 648.08h4.43v12.86h-4.43zM1118.98 648.08h4.43v12.86h-4.43zM1127.44 787.34h4.43v12.86h-4.43zM1135.90 521.48h4.43v38.18h-4.43zM1140.12 660.74h4.43v12.86h-4.43zM1140.12 711.38h4.43v12.86h-4.43zM1144.35 686.06h4.43v12.86h-4.43z"/>
<path fill="#fabb29" d="M797.66 546.80h4.43v63.50h-4.43zM818.80 800.00h4.43v12.86h-4.43zM839.94 787.34h4.43v12.86h-4.43zM844.16 787.34h4.43v12.86h-4.43zM886.44 660.74h4.43v12.86h-4.43zM920.27 572.12h4.43v12.86h-4.43zM924.50 572.12h4.43v12.86h-4.43zM928.72 698.72h4.43v12.86h-4.43zM932.95 686.06h4.43v12.86h-4.43zM937.18 774.68h4.43v12.86h-4.43zM941.41 660.74h4.43v12.86h-4.43zM941.41 787.34h4.43v12.86h-4.43zM945.64 635.42h4.43v25.52h-4.43zM954.09 660.74h4.43v12.86h-4.43zM958.32 787.34h4.43v12.86h-4.43zM962.55 787.34h4.43v12.86h-4.43zM966.78 470.84h4.43v38.18h-4.43zM966.78 787.34h4.43v25.52h-4.43zM971.00 508.82h4.43v25.52h-4.43zM971.00 787.34h4.43v12.86h-4.43zM975.23 787.34h4.43v12.86h-4.43zM987.92 622.76h4.43v12.86h-4.43zM992.14 546.80h4.43v12.86h-4.43zM992.14 787.34h4.43v12.86h-4.43zM996.37 534.14h4.43v12.86h-4.43zM996.37 787.34h4.43v12.86h-4.43zM1000.60 572.12h4.43v25.52h-4.43zM1000.60 787.34h4.43v12.86h-4.43zM1009.06 711.38h4.43v12.86h-4.43zM1009.06 749.36h4.43v12.86h-4.43zM1013.28 724.04h4.43v12.86h-4.43zM1013.28 749.36h4.43v12.86h-4.43zM1013.28 800.00h4.43v12.86h-4.43zM1017.51 635.42h4.43v12.86h-4.43zM1017.51 724.04h4.43v38.18h-4.43zM1021.74 736.70h4.43v25.52h-4.43zM1025.97 724.04h4.43v12.86h-4.43zM1034.42 736.70h4.43v38.18h-4.43zM1064.02 559.46h4.43v25.52h-4.43zM1064.02 711.38h4.43v12.86h-4.43zM1114.76 584.78h4.43v63.50h-4.43zM1131.67 787.34h4.43v12.86h-4.43zM1144.35 698.72h4.43v12.86h-4.43zM1144.35 800.00h4.43v12.86h-4.43z"/>
<path fill="#f7ae28" d="M823.02 800.00h4.43v12.86h-4.43zM848.39 787.34h4.43v12.86h-4.43zM920.27 584.78h4.43v12.86h-4.43zM924.50 584.78h4.43v12.86h-4.43zM924.50 698.72h4.43v12.86h-4.43zM932.95 698.72h4.43v12.86h-4.43zM937.18 686.06h4.43v12.86h-4.43zM937.18 711.38h4.43v12.86h-4.43zM937.18 762.02h4.43v12.86h-4.43zM941.41 673.40h4.43v12.86h-4.43zM945.64 660.74h4.43v12.86h-4.43zM945.64 787.34h4.43v12.86h-4.43zM949.86 660.74h4.43v12.86h-4.43zM949.86 787.34h4.43v12.86h-4.43zM954.09 673.40h4.43v12.86h-4.43zM954.09 787.34h4.43v12.86h-4.43zM962.55 686.06h4.43v12.86h-4.43zM962.55 774.68h4.43v12.86h-4.43zM966.78 508.82h4.43v12.86h-4.43zM966.78 622.76h4.43v38.18h-4.43zM966.78 724.04h4.43v25.52h-4.43zM971.00 534.14h4.43v12.86h-4.43zM971.00 711.38h4.43v25.52h-4.43zM971.00 774.68h4.43v12.86h-4.43zM971.00 800.00h4.43v12.86h-4.43zM979.46 648.08h4.43v12.86h-4.43zM979.46 749.36h4.43v12.86h-4.43zM983.69 635.42h4.43v12.86h-4.43zM983.69 749.36h4.43v12.86h-4.43zM987.92 749.36h4.43v12.86h-4.43zM992.14 559.46h4.43v12.86h-4.43zM992.14 762.02h4.43v12.86h-4.43zM996.37 546.80h4.43v12.86h-4.43zM1000.60 597.44h4.43v12.86h-4.43zM1000.60 762.02h4.43v12.86h-4.43zM1004.83 660.74h4.43v12.86h-4.43zM1004.83 686.06h4.43v12.86h-4.43zM1009.06 724.04h4.43v25.52h-4.43zM1009.06 800.00h4.43v12.86h-4.43zM1013.28 736.70h4.43v12.86h-4.43zM1017.51 648.08h4.43v12.86h-4.43zM1017.51 673.40h4.43v12.86h-4.43zM1030.20 724.04h4.43v12.86h-4.43zM1064.02 584.78h4.43v12.86h-4.43zM1068.25 597.44h4.43v12.86h-4.43zM1068.25 686.06h4.43v12.86h-4.43zM1118.98 800.00h4.43v12.86h-4.43zM1135.90 787.34h4.43v12.86h-4.43zM1140.12 673.40h4.43v12.86h-4.43zM1144.35 787.34h4.43v12.86h-4.43z"/>
<path fill="#f4a22b" d="M852.62 787.34h4.43v12.86h-4.43zM856.85 787.34h4.43v12.86h-4.43zM861.08 800.00h4.43v12.86h-4.43zM920.27 597.44h4.43v12.86h-4.43zM924.50 597.44h4.43v12.86h-4.43zM937.18 698.72h4.43v12.86h-4.43zM941.41 686.06h4.43v12.86h-4.43zM945.64 673.40h4.43v12.86h-4.43zM949.86 673.40h4.43v12.86h-4.43zM958.32 686.06h4.43v12.86h-4.43zM958.32 774.68h4.43v12.86h-4.43zM966.78 521.48h4.43v50.84h-4.43zM966.78 597.44h4.43v25.52h-4.43zM966.78 660.74h4.43v25.52h-4.43zM966.78 711.38h4.43v12.86h-4.43zM966.78 749.36h4.43v12.86h-4.43zM971.00 736.70h4.43v12.86h-4.43zM975.23 420.20h4.43v25.52h-4.43zM975.23 749.36h4.43v25.52h-4.43zM987.92 635.42h4.43v12.86h-4.43zM992.14 572.12h4.43v25.52h-4.43zM996.37 559.46h4.43v38.18h-4.43zM996.37 762.02h4.43v12.86h-4.43zM1000.60 610.10h4.43v25.52h-4.43zM1004.83 698.72h4.43v12.86h-4.43zM1004.83 749.36h4.43v12.86h-4.43zM1017.51 660.74h4.43v12.86h-4.43zM1025.97 762.02h4.43v12.86h-4.43zM1064.02 597.44h4.43v12.86h-4.43zM1068.25 610.10h4.43v12.86h-4.43zM1068.25 660.74h4.43v25.52h-4.43zM1123.21 800.00h4.43v12.86h-4.43zM1127.44 800.00h4.43v12.86h-4.43zM1131.67 800.00h4.43v12.86h-4.43zM1135.90 800.00h4.43v12.86h-4.43zM1140.12 686.06h4.43v25.52h-4.43zM1140.12 800.00h4.43v12.86h-4.43z"/>
<path fill="#f1962e" d="M920.27 698.72h4.43v12.86h-4.43zM954.09 686.06h4.43v12.86h-4.43zM962.55 698.72h4.43v12.86h-4.43zM962.55 762.02h4.43v12.86h-4.43zM966.78 572.12h4.43v25.52h-4.43zM966.78 686.06h4.43v25.52h-4.43zM966.78 762.02h4.43v25.52h-4.43zM971.00 546.80h4.43v12.86h-4.43zM971.00 698.72h4.43v12.86h-4.43zM971.00 749.36h4.43v25.52h-4.43zM975.23 445.52h4.43v25.52h-4.43zM975.23 698.72h4.43v38.18h-4.43zM975.23 800.00h4.43v12.86h-4.43zM979.46 660.74h4.43v12.86h-4.43zM979.46 711.38h4.43v38.18h-4.43zM979.46 800.00h4.43v12.86h-4.43zM983.69 711.38h4.43v38.18h-4.43zM992.14 597.44h4.43v12.86h-4.43zM1004.83 673.40h4.43v12.86h-4.43zM1004.83 800.00h4.43v12.86h-4.43zM1025.97 736.70h4.43v12.86h-4.43zM1030.20 762.02h4.43v12.86h-4.43zM1064.02 698.72h4.43v12.86h-4.43zM1068.25 648.08h4.43v12.86h-4.43zM1140.12 787.34h4.43v12.86h-4.43z"/>
<path fill="#f08830" d="M827.25 800.00h4.43v12.86h-4.43zM856.85 800.00h4.43v12.86h-4.43zM920.27 610.10h4.43v25.52h-4.43zM924.50 610.10h4.43v50.84h-4.43zM924.50 686.06h4.43v12.86h-4.43zM941.41 698.72h4.43v12.86h-4.43zM945.64 686.06h4.43v12.86h-4.43zM949.86 686.06h4.43v12.86h-4.43zM954.09 774.68h4.43v12.86h-4.43zM958.32 698.72h4.43v12.86h-4.43zM958.32 762.02h4.43v12.86h-4.43zM971.00 559.46h4.43v12.86h-4.43zM971.00 673.40h4.43v25.52h-4.43zM975.23 470.84h4.43v63.50h-4.43zM975.23 673.40h4.43v25.52h-4.43zM975.23 736.70h4.43v12.86h-4.43zM979.46 673.40h4.43v38.18h-4.43zM983.69 648.08h4.43v12.86h-4.43zM983.69 698.72h4.43v12.86h-4.43zM983.69 800.00h4.43v12.86h-4.43zM987.92 711.38h4.43v38.18h-4.43zM987.92 800.00h4.43v12.86h-4.43zM992.14 610.10h4.43v25.52h-4.43zM992.14 800.00h4.43v12.86h-4.43zM996.37 597.44h4.43v12.86h-4.43zM996.37 800.00h4.43v12.86h-4.43zM1000.60 635.42h4.43v12.86h-4.43zM1000.60 800.00h4.43v12.86h-4.43zM1025.97 749.36h4.43v12.86h-4.43zM1030.20 736.70h4.43v12.86h-4.43zM1064.02 610.10h4.43v38.18h-4.43zM1068.25 622.76h4.43v25.52h-4.43z"/>
<path fill="#ef7930" d="M920.27 635.42h4.43v12.86h-4.43zM924.50 660.74h4.43v25.52h-4.43zM941.41 711.38h4.43v12.86h-4.43zM954.09 698.72h4.43v12.86h-4.43zM962.55 711.38h4.43v12.86h-4.43zM971.00 572.12h4.43v12.86h-4.43zM971.00 660.74h4.43v12.86h-4.43zM975.23 534.14h4.43v12.86h-4.43zM975.23 660.74h4.43v12.86h-4.43zM987.92 648.08h4.43v12.86h-4.43zM987.92 698.72h4.43v12.86h-4.43zM992.14 635.42h4.43v12.86h-4.43zM1000.60 648.08h4.43v12.86h-4.43zM1004.83 711.38h4.43v12.86h-4.43zM1004.83 736.70h4.43v12.86h-4.43zM1030.20 749.36h4.43v12.86h-4.43zM1064.02 648.08h4.43v12.86h-4.43zM1064.02 686.06h4.43v12.86h-4.43z"/>
<path fill="#ee6a30" d="M831.48 800.00h4.43v12.86h-4.43zM835.71 800.00h4.43v12.86h-4.43zM839.94 800.00h4.43v12.86h-4.43zM844.16 800.00h4.43v12.86h-4.43zM848.39 800.00h4.43v12.86h-4.43zM852.62 800.00h4.43v12.86h-4.43zM920.27 648.08h4.43v12.86h-4.43zM920.27 686.06h4.43v12.86h-4.43zM941.41 724.04h4.43v12.86h-4.43zM941.41 774.68h4.43v12.86h-4.43zM945.64 698.72h4.43v12.86h-4.43zM949.86 774.68h4.43v12.86h-4.43zM954.09 762.02h4.43v12.86h-4.43zM962.55 749.36h4.43v12.86h-4.43zM971.00 584.78h4.43v25.52h-4.43zM971.00 648.08h4.43v12.86h-4.43zM975.23 546.80h4.43v25.52h-4.43zM983.69 660.74h4.43v12.86h-4.43zM983.69 686.06h4.43v12.86h-4.43zM992.14 648.08h4.43v12.86h-4.43zM996.37 610.10h4.43v25.52h-4.43zM1000.60 660.74h4.43v12.86h-4.43zM1004.83 724.04h4.43v12.86h-4.43zM1064.02 660.74h4.43v25.52h-4.43z"/>
<path fill="#ed5330" d="M920.27 660.74h4.43v25.52h-4.43zM941.41 736.70h4.43v12.86h-4.43zM945.64 774.68h4.43v12.86h-4.43zM949.86 698.72h4.43v12.86h-4.43zM962.55 724.04h4.43v12.86h-4.43zM971.00 610.10h4.43v38.18h-4.43zM975.23 572.12h4.43v12.86h-4.43zM983.69 673.40h4.43v12.86h-4.43zM987.92 660.74h4.43v12.86h-4.43zM987.92 686.06h4.43v12.86h-4.43z"/>
<path fill="#ec3c30" d="M941.41 749.36h4.43v25.52h-4.43zM954.09 711.38h4.43v12.86h-4.43zM958.32 711.38h4.43v12.86h-4.43zM958.32 749.36h4.43v12.86h-4.43zM962.55 736.70h4.43v12.86h-4.43zM975.23 584.78h4.43v25.52h-4.43zM975.23 635.42h4.43v25.52h-4.43zM987.92 673.40h4.43v12.86h-4.43zM992.14 660.74h4.43v12.86h-4.43zM992.14 686.06h4.43v25.52h-4.43zM992.14 749.36h4.43v12.86h-4.43zM996.37 635.42h4.43v38.18h-4.43zM1000.60 673.40h4.43v12.86h-4.43z"/>
<path fill="#e72f30" d="M945.64 711.38h4.43v12.86h-4.43zM954.09 749.36h4.43v12.86h-4.43zM958.32 736.70h4.43v12.86h-4.43zM975.23 610.10h4.43v25.52h-4.43zM992.14 673.40h4.43v12.86h-4.43zM992.14 711.38h4.43v38.18h-4.43zM996.37 673.40h4.43v25.52h-4.43zM1000.60 686.06h4.43v12.86h-4.43z"/>
<path fill="#de2c2f" d="M945.64 762.02h4.43v12.86h-4.43zM949.86 711.38h4.43v12.86h-4.43zM949.86 762.02h4.43v12.86h-4.43zM954.09 724.04h4.43v25.52h-4.43zM958.32 724.04h4.43v12.86h-4.43zM996.37 698.72h4.43v12.86h-4.43zM996.37 749.36h4.43v12.86h-4.43zM1000.60 698.72h4.43v12.86h-4.43zM1000.60 749.36h4.43v12.86h-4.43z"/>
<path fill="#d42a2e" d="M945.64 749.36h4.43v12.86h-4.43zM949.86 749.36h4.43v12.86h-4.43z"/>
<path fill="#c2292f" d="M945.64 724.04h4.43v25.52h-4.43zM949.86 724.04h4.43v25.52h-4.43zM996.37 711.38h4.43v38.18h-4.43zM1000.60 711.38h4.43v12.86h-4.43z"/>
<path fill="#b12830" d="M1000.60 736.70h4.43v12.86h-4.43z"/>
<path fill="#9f292e" d="M1000.60 724.04h4.43v12.86h-4.43z"/>
</g>
<rect x="950" y="692.5" width="93.5" height="77" fill="none" stroke="#1a1718" stroke-width="2" stroke-dasharray="10.6 7.8" stroke-dashoffset="-1"/>
<defs>
<filter id="b1" x="-5%" y="-5%" width="110%" height="110%"><feGaussianBlur stdDeviation="3"/></filter>
<filter id="b2" x="-10%" y="-10%" width="120%" height="120%"><feGaussianBlur stdDeviation="6"/></filter>
<filter id="b3" x="-20%" y="-20%" width="140%" height="140%"><feGaussianBlur stdDeviation="14"/></filter>
<filter id="b4" x="-30%" y="-30%" width="160%" height="160%"><feGaussianBlur stdDeviation="22"/></filter>
<filter id="grain" x="0" y="0" width="100%" height="100%"><feTurbulence type="fractalNoise" baseFrequency="0.11" numOctaves="2" seed="7" result="n"/><feColorMatrix in="n" type="matrix" values="0 0 0 0 0  0 0 0 0 0  0 0 0 0 0  1.6 0 0 0 -0.55"/></filter>
<clipPath id="clipS"><rect x="27.15" y="1026.4" width="414.35" height="346.9"/></clipPath>
<clipPath id="clipC"><rect x="457.4" y="1026.4" width="347.2" height="346.9"/></clipPath>
<clipPath id="clipA"><rect x="820.5" y="1026.4" width="291.4" height="346.9"/></clipPath>
</defs>
<g clip-path="url(#clipS)"><g transform="translate(0,1010) scale(0.34282)">
<g filter="url(#b1)">
<path d="M215,1080 L200,900 L260,800 L600,850 L1000,780 L1180,800 L1215,900 L1190,1000 L1150,1080Z" fill="#596164"/>
<path d="M249,1065C246,1051 239,1014 233,981C227,948 219,907 213,868C207,829 200,787 197,746C193,706 191,666 192,626C193,585 196,544 205,505C213,466 225,428 243,392C261,355 286,318 312,288C338,258 368,230 399,210C429,190 456,176 494,167C531,158 579,154 623,155C668,155 718,158 761,169C804,180 845,201 882,221C919,241 953,266 985,290C1016,315 1045,339 1071,367C1097,396 1121,431 1140,462C1159,494 1172,524 1184,557C1195,590 1205,628 1211,660C1217,692 1221,724 1220,746C1220,769 1209,786 1207,794" fill="none" stroke="#505a5a" stroke-width="50"/>
<path d="M249,1065C246,1051 239,1014 233,981C227,948 219,907 213,868C207,829 200,787 197,746C193,706 191,666 192,626C193,585 196,544 205,505C213,466 225,428 243,392C261,355 286,318 312,288C338,258 368,230 399,210C429,190 456,176 494,167C531,158 579,154 623,155C668,155 718,158 761,169C804,180 845,201 882,221C919,241 953,266 985,290C1016,315 1045,339 1071,367C1097,396 1121,431 1140,462C1159,494 1172,524 1184,557C1195,590 1205,628 1211,660C1217,692 1221,724 1220,746C1220,769 1209,786 1207,794" fill="none" stroke="#727c7e" stroke-width="30"/>
<path d="M249,1065C246,1051 239,1014 233,981C227,948 219,907 213,868C207,829 200,787 197,746C193,706 191,666 192,626C193,585 196,544 205,505C213,466 225,428 243,392C261,355 286,318 312,288C338,258 368,230 399,210C429,190 456,176 494,167C531,158 602,157 623,155" fill="none" stroke="#f4f6f7" stroke-width="13"/>
<path d="M249,1065C246,1051 239,1014 233,981C227,948 219,907 213,868C207,829 199,766 197,746" fill="none" stroke="#f0f2f4" stroke-width="20"/>
<path d="M623,155C646,157 718,158 761,169C804,180 845,201 882,221C919,241 953,266 985,290C1016,315 1045,339 1071,367C1097,396 1121,431 1140,462C1159,494 1172,524 1184,557C1195,590 1205,628 1211,660C1217,692 1221,724 1220,746C1220,769 1209,786 1207,794" fill="none" stroke="#aab2b5" stroke-width="8"/>
<path d="M274,1043C271,1029 265,994 260,962C255,931 249,892 243,855C238,818 232,778 229,741C226,703 224,665 225,628C226,590 229,551 236,515C244,478 255,442 271,408C288,374 311,339 335,311C360,282 389,256 417,238C446,219 471,206 507,198C542,189 587,187 628,187C670,188 717,191 757,202C797,212 835,233 870,252C904,271 936,294 965,316C994,339 1021,361 1045,388C1069,414 1092,447 1110,476C1128,505 1140,533 1151,564C1163,594 1172,630 1178,660C1184,690 1188,720 1188,741C1187,762 1177,778 1175,786" fill="none" stroke="#2a3333" stroke-width="22"/>
<path d="M248,640C250,607 253,557 262,520C271,483 284,450 300,420C316,390 337,363 360,340C383,317 410,298 440,282C470,266 505,252 540,243C575,234 613,226 650,225C687,224 723,228 760,235C797,242 837,256 870,270C903,284 932,300 960,320C988,340 1017,364 1040,388C1063,412 1083,435 1100,462C1117,489 1130,522 1140,552C1150,582 1156,615 1160,640C1164,665 1166,682 1163,700C1160,718 1154,734 1140,745C1126,756 1103,760 1080,765C1057,770 1023,768 1000,772C977,776 956,782 940,792C924,802 915,816 905,832C895,848 894,874 880,890C866,906 843,922 820,930C797,938 765,940 740,935C715,930 688,915 670,902C652,889 642,860 630,855C618,850 608,860 600,872C592,884 593,910 580,930C567,950 545,978 520,992C495,1006 458,1014 430,1012C402,1010 372,1000 350,982C328,964 314,932 300,902C286,872 273,830 265,800C257,770 253,747 250,720C247,693 246,673 248,640Z" fill="#979da2"/>
</g>
<g filter="url(#b2)">
<ellipse cx="700" cy="560" rx="230" ry="90" fill="#b5bbc1" transform="rotate(-8 700 560)"/>
<ellipse cx="960" cy="640" rx="140" ry="80" fill="#b5bbc1"/>
<ellipse cx="800" cy="850" rx="90" ry="60" fill="#b4bac0"/>
<ellipse cx="330" cy="720" rx="70" ry="90" fill="#b4bac0"/>
<ellipse cx="420" cy="900" rx="110" ry="90" fill="#989da3"/>
</g>
<g filter="url(#b1)">
<ellipse cx="1100" cy="862" rx="72" ry="78" fill="#8e979a"/>
<ellipse cx="1098" cy="862" rx="52" ry="58" fill="#2c3435"/>
<ellipse cx="1095" cy="862" rx="30" ry="38" fill="#3e4748"/>
<path d="M985,800 L1040,790 L1060,830 L1020,850 L1000,900 L1040,960 L1020,990 L980,940 L975,860Z" fill="#dfe3e6"/>
<path d="M1060,770 L1180,770 L1190,800 L1080,790Z" fill="#c9ced2"/>
<path d="M690,960 L720,950 L715,1080 L685,1080Z" fill="#b8bec2"/>
<path d="M960,960 L990,950 L985,1080 L955,1080Z" fill="#9aa1a5"/>
<path d="M230,900 L262,1000 L300,1060 L340,1080 L250,1080 L215,980Z" fill="#d5dadd"/>
<path d="M560,1000 C700,960 850,980 960,1000 L960,1080 L540,1080Z" fill="#6a7276"/>
<path d="M1000,1000 L1150,960 L1170,1080 L1000,1080Z" fill="#3a4244"/>
</g>
<g filter="url(#b3)">
<path d="M285,500C290,457 308,395 330,360C352,325 388,295 420,290C452,285 488,305 520,330C552,355 577,415 610,440C643,465 682,483 720,480C758,477 810,445 840,420C870,395 873,338 900,330C927,322 972,350 1000,370C1028,390 1065,425 1070,450C1075,475 1058,500 1030,520C1002,540 938,555 900,570C862,585 833,600 800,610C767,620 733,630 700,630C667,630 633,607 600,610C567,613 533,643 500,650C467,657 433,655 400,650C367,645 319,645 300,620C281,595 280,543 285,500Z" fill="#e47e6a" opacity="0.72"/>
<ellipse cx="520" cy="800" rx="80" ry="110" fill="#dc8880" opacity="0.55"/>
<ellipse cx="450" cy="920" rx="90" ry="70" fill="#d09a98" opacity="0.5"/>
<ellipse cx="760" cy="560" rx="150" ry="60" fill="#e87868" opacity="0.35"/>
<ellipse cx="640" cy="330" rx="120" ry="60" fill="#d89088" opacity="0.35"/>
<path d="M700,265 C820,270 960,330 1060,440" fill="none" stroke="#d86a58" stroke-width="80" opacity="0.4"/>
</g>
<g filter="url(#b2)">
<ellipse cx="1136" cy="636" rx="27" ry="72" fill="#dc5a2c"/>
<ellipse cx="740" cy="250" rx="40" ry="22" fill="#b4473c" opacity="0.9"/>
<ellipse cx="960" cy="400" rx="50" ry="30" fill="#c9584a" opacity="0.8" transform="rotate(30 960 400)"/>
<ellipse cx="330" cy="400" rx="40" ry="70" fill="#c0503e" opacity="0.6" transform="rotate(35 330 400)"/>
</g>
<g filter="url(#b3)">
<ellipse cx="420" cy="410" rx="36" ry="80" fill="#e6a83e" opacity="0.95" transform="rotate(12 420 410)"/>
<ellipse cx="368" cy="545" rx="40" ry="72" fill="#e8ae38" opacity="0.95" transform="rotate(8 368 545)"/>
<ellipse cx="395" cy="480" rx="40" ry="60" fill="#e8a040" opacity="0.7"/>
</g>
<g filter="url(#b2)">
<g fill="none" stroke="#3c4246" stroke-opacity="0.5" stroke-linecap="round"><path d="M774,289Q760,347 746,397" stroke-width="9"/><path d="M865,314Q837,326 827,373" stroke-width="13"/><path d="M1066,504Q1010,563 941,613" stroke-width="9"/><path d="M258,612Q287,594 338,619" stroke-width="11"/><path d="M754,263Q729,330 704,383" stroke-width="11"/><path d="M494,314Q516,381 520,465" stroke-width="9"/><path d="M530,286Q582,318 603,360" stroke-width="14"/><path d="M1149,677Q1070,720 995,721" stroke-width="10"/><path d="M306,519Q329,529 388,554" stroke-width="14"/><path d="M1129,570Q1077,598 1065,600" stroke-width="9"/><path d="M948,327Q890,390 865,441" stroke-width="9"/><path d="M733,248Q756,323 754,414" stroke-width="13"/><path d="M423,348Q454,413 520,435" stroke-width="9"/><path d="M461,294Q460,319 497,379" stroke-width="11"/><path d="M443,306Q493,351 503,398" stroke-width="11"/><path d="M1152,693Q1086,691 993,711" stroke-width="9"/><path d="M1121,536Q1055,534 956,524" stroke-width="11"/><path d="M336,459Q388,452 422,467" stroke-width="13"/><path d="M996,366Q934,408 909,475" stroke-width="11"/><path d="M1145,676Q1053,641 987,650" stroke-width="10"/><path d="M776,251Q785,285 788,351" stroke-width="10"/><path d="M1127,695Q1070,647 1007,631" stroke-width="8"/><path d="M286,619Q343,654 441,678" stroke-width="11"/><path d="M1080,543Q1051,567 1017,569" stroke-width="13"/><path d="M1091,537Q1004,554 931,553" stroke-width="13"/><path d="M1122,694Q1048,694 967,684" stroke-width="10"/><path d="M980,347Q954,407 883,434" stroke-width="12"/><path d="M671,258Q680,294 660,366" stroke-width="13"/><path d="M280,588Q331,596 364,605" stroke-width="12"/><path d="M1142,733Q1104,718 1049,729" stroke-width="9"/><path d="M1128,715Q1045,700 977,670" stroke-width="9"/><path d="M733,278Q702,356 682,427" stroke-width="10"/><path d="M348,428Q423,487 479,507" stroke-width="10"/><path d="M356,373Q386,403 424,422" stroke-width="11"/><path d="M552,292Q540,326 566,401" stroke-width="13"/><path d="M286,570Q344,564 375,600" stroke-width="9"/><path d="M795,287Q784,310 804,373" stroke-width="12"/><path d="M766,273Q766,353 725,416" stroke-width="9"/><path d="M826,260Q830,302 816,371" stroke-width="10"/><path d="M601,261Q620,320 615,388" stroke-width="13"/><path d="M1104,728Q1018,733 965,743" stroke-width="12"/><path d="M1120,722Q1055,734 964,706" stroke-width="11"/><path d="M1038,445Q989,506 928,547" stroke-width="9"/><path d="M1110,694Q1071,657 1006,636" stroke-width="13"/><path d="M1155,682Q1103,694 1046,683" stroke-width="11"/><path d="M260,588Q316,605 400,637" stroke-width="13"/></g>
<g fill="none" stroke="#454b4f" stroke-opacity="0.5" stroke-linecap="round"><path d="M516,974Q557,949 577,887" stroke-width="9"/><path d="M628,841Q633,793 672,748" stroke-width="10"/><path d="M585,915Q584,907 601,863" stroke-width="14"/><path d="M904,823Q855,776 838,773" stroke-width="14"/><path d="M856,863Q801,863 764,822" stroke-width="12"/><path d="M427,978Q466,955 464,897" stroke-width="11"/><path d="M702,913Q682,898 679,874" stroke-width="9"/><path d="M420,996Q443,945 468,911" stroke-width="12"/><path d="M389,962Q408,958 406,924" stroke-width="9"/><path d="M310,873Q307,848 344,850" stroke-width="15"/><path d="M869,842Q824,799 792,769" stroke-width="12"/><path d="M319,887Q368,831 385,817" stroke-width="15"/><path d="M941,782Q882,793 838,767" stroke-width="12"/><path d="M766,927Q737,917 738,890" stroke-width="15"/><path d="M876,824Q833,807 799,814" stroke-width="13"/><path d="M284,808Q323,780 325,794" stroke-width="12"/><path d="M285,781Q338,768 379,730" stroke-width="10"/><path d="M631,836Q622,828 617,777" stroke-width="14"/><path d="M704,709Q657,695 613,700" stroke-width="11"/><path d="M887,807Q841,791 785,774" stroke-width="11"/><path d="M938,782Q881,789 837,772" stroke-width="14"/><path d="M408,979Q441,947 456,934" stroke-width="12"/><path d="M317,909Q372,890 414,864" stroke-width="9"/><path d="M585,898Q602,869 590,826" stroke-width="14"/><path d="M716,902Q697,870 692,807" stroke-width="14"/><path d="M426,983Q459,948 490,943" stroke-width="14"/></g>
<path d="M540,650 C620,690 700,740 760,790" fill="none" stroke="#464c50" stroke-opacity="0.8" stroke-width="16"/>
<path d="M620,560 C720,560 820,600 900,640" fill="none" stroke="#5a6064" stroke-opacity="0.6" stroke-width="14"/>
<path d="M300,640 C380,650 450,700 560,700" fill="none" stroke="#5a6064" stroke-opacity="0.5" stroke-width="14"/>
<path d="M640,850 C680,830 690,880 650,900" fill="none" stroke="#2e3436" stroke-width="26"/>
<path d="M900,800 C960,770 1000,770 1060,760" fill="none" stroke="#3a4042" stroke-width="14"/>
</g>
<rect x="80" y="48" width="1210" height="1012" filter="url(#grain)" opacity="0.2"/>
</g></g>
<g clip-path="url(#clipC)"><g transform="translate(440,1010) scale(0.34282)">
<g filter="url(#b1)">
<path d="M198,1061C196,1047 192,1007 188,974C185,941 179,906 176,864C173,822 172,769 172,722C171,675 170,620 171,580C173,540 173,513 181,480C188,446 200,411 215,380C231,349 249,319 272,293C294,266 321,241 350,221C378,200 411,181 443,169C475,158 509,152 544,151C579,150 618,155 652,166C685,176 716,194 745,213C773,232 799,253 823,279C847,304 869,334 887,365C904,396 918,430 928,466C938,502 944,537 949,580C953,623 954,675 954,722C955,769 953,822 951,864C948,906 942,941 939,974C935,1007 931,1047 929,1062" fill="none" stroke="#4f5959" stroke-width="50"/>
<path d="M198,1061C196,1047 192,1007 188,974C185,941 179,906 176,864C173,822 172,769 172,722C171,675 170,620 171,580C173,540 173,513 181,480C188,446 200,411 215,380C231,349 249,319 272,293C294,266 321,241 350,221C378,200 411,181 443,169C475,158 509,152 544,151C579,150 618,155 652,166C685,176 716,194 745,213C773,232 799,253 823,279C847,304 869,334 887,365C904,396 918,430 928,466C938,502 944,537 949,580C953,623 954,675 954,722C955,769 953,822 951,864C948,906 942,941 939,974C935,1007 931,1047 929,1062" fill="none" stroke="#78828a" stroke-width="30"/>
<path d="M198,1061C196,1047 192,1007 188,974C185,941 179,906 176,864C173,822 172,769 172,722C171,675 170,620 171,580C173,540 173,513 181,480C188,446 200,411 215,380C231,349 249,319 272,293C294,266 321,241 350,221C378,200 411,181 443,169C475,158 509,152 544,151C579,150 618,155 652,166C685,176 716,194 745,213C773,232 799,253 823,279C847,304 869,334 887,365C904,396 918,430 928,466C938,502 944,537 949,580C953,623 954,675 954,722C955,769 953,822 951,864C948,906 942,941 939,974C935,1007 931,1047 929,1062" fill="none" stroke="#e2e6e8" stroke-width="11"/>
<path d="M215,380C225,365 249,319 272,293C294,266 321,241 350,221C378,200 411,181 443,169C475,158 509,152 544,151C579,150 618,155 652,166C685,176 716,194 745,213C773,232 799,253 823,279C847,304 876,350 887,365" fill="none" stroke="#7d878a" stroke-width="26"/>
<path d="M198,1061C196,1047 192,1007 188,974C185,941 179,906 176,864C173,822 172,746 172,722" fill="none" stroke="#c3c9cc" stroke-width="22"/>
<path d="M954,722C954,746 953,822 951,864C948,906 942,941 939,974C935,1007 931,1047 929,1062" fill="none" stroke="#c3c9cc" stroke-width="22"/>
<path d="M220,1037C219,1023 216,984 213,953C211,921 207,888 205,849C204,810 205,761 204,717C204,673 203,624 204,587C205,549 204,525 210,494C217,463 228,430 241,400C255,371 271,344 292,318C312,293 338,270 364,250C391,231 421,212 451,201C481,190 513,185 545,184C578,183 614,188 646,198C677,208 706,226 732,244C758,262 783,282 804,306C826,330 846,358 862,387C878,416 890,448 899,481C908,514 912,547 916,587C920,626 921,673 922,717C923,761 923,810 922,849C920,888 916,922 913,953C911,984 908,1023 907,1037" fill="none" stroke="#283131" stroke-width="24"/>
<path d="M294,322C306,310 340,273 366,254C392,234 422,216 452,205C481,194 513,189 545,188C577,187 614,192 645,202C676,212 704,230 731,247C757,265 790,299 802,309" fill="none" stroke="#5a6466" stroke-width="22"/>
<path d="M250,900 L870,900 L860,1080 L270,1080Z" fill="#70787c"/>
<path d="M215,600C216,553 214,516 222,480C230,444 242,413 262,382C282,351 309,317 340,295C371,273 413,258 450,248C487,238 522,238 560,238C598,238 642,237 680,248C718,259 760,278 790,302C820,326 841,359 858,392C875,425 886,462 893,500C900,538 902,577 903,620C904,663 906,717 900,760C894,803 887,846 870,880C853,914 835,942 800,962C765,982 700,1002 660,1002C620,1002 592,965 560,965C528,965 505,1002 465,1002C425,1002 358,982 322,962C286,942 268,914 250,880C232,846 223,807 217,760C211,713 214,647 215,600Z" fill="#959ba0"/>
</g>
<g filter="url(#b2)">
<ellipse cx="400" cy="720" rx="120" ry="90" fill="#b3b9be"/>
<ellipse cx="730" cy="720" rx="120" ry="90" fill="#b3b9be"/>
<ellipse cx="420" cy="900" rx="110" ry="60" fill="#aeb4ba"/>
<ellipse cx="700" cy="900" rx="110" ry="60" fill="#aeb4ba"/>
</g>
<g filter="url(#b3)">
<path d="M225,560C214,535 224,475 235,440C246,405 266,377 290,350C314,323 348,297 380,280C412,263 452,255 480,250C508,245 538,192 550,250C562,308 564,543 552,600C540,657 505,590 480,590C455,590 430,600 400,600C370,600 329,597 300,590C271,583 236,585 225,560Z" fill="#e27e60" opacity="0.78"/>
<path d="M572,245C584,187 619,232 650,240C681,248 728,268 760,290C792,312 819,338 840,370C861,402 876,443 885,480C894,517 906,570 895,590C884,610 846,593 820,600C794,607 767,630 740,630C713,630 688,607 660,600C632,593 590,649 575,590C560,531 560,303 572,245Z" fill="#e89250" opacity="0.84"/>
<ellipse cx="690" cy="460" rx="75" ry="120" fill="#e2b648" opacity="0.85" transform="rotate(-20 690 460)"/>
<ellipse cx="400" cy="420" rx="60" ry="90" fill="#e89850" opacity="0.7"/>
<ellipse cx="770" cy="900" rx="60" ry="60" fill="#c89090" opacity="0.6"/>
<ellipse cx="380" cy="830" rx="50" ry="40" fill="#b89898" opacity="0.4"/>
<ellipse cx="500" cy="400" rx="40" ry="130" fill="#a8aeb2" opacity="0.75"/>
</g>
<g filter="url(#b2)">
<g fill="none" stroke="#3c4246" stroke-opacity="0.6" stroke-linecap="round"><path d="M288,414Q319,476 376,512" stroke-width="15"/><path d="M691,272Q673,309 667,339" stroke-width="9"/><path d="M883,570Q870,595 813,600" stroke-width="15"/><path d="M808,358Q767,441 759,483" stroke-width="12"/><path d="M263,405Q320,481 382,554" stroke-width="11"/><path d="M658,252Q644,356 653,435" stroke-width="10"/><path d="M518,662Q606,677 687,671" stroke-width="10"/><path d="M639,259Q616,341 558,431" stroke-width="12"/><path d="M607,302Q584,344 602,422" stroke-width="14"/><path d="M305,617Q387,611 446,629" stroke-width="13"/><path d="M747,296Q715,354 696,373" stroke-width="11"/><path d="M797,326Q791,372 759,394" stroke-width="12"/><path d="M818,440Q729,510 648,536" stroke-width="16"/><path d="M771,330Q714,384 679,405" stroke-width="10"/><path d="M260,527Q329,545 369,603" stroke-width="11"/><path d="M399,285Q410,337 436,354" stroke-width="16"/><path d="M875,502Q787,553 698,583" stroke-width="9"/><path d="M326,378Q371,458 408,543" stroke-width="13"/><path d="M869,651Q828,635 764,663" stroke-width="14"/><path d="M563,666Q517,625 439,575" stroke-width="11"/><path d="M530,292Q500,316 505,376" stroke-width="9"/><path d="M611,294Q606,372 633,447" stroke-width="11"/><path d="M670,261Q661,317 663,354" stroke-width="13"/><path d="M267,557Q356,572 420,631" stroke-width="12"/><path d="M232,516Q290,567 370,601" stroke-width="11"/><path d="M239,544Q322,564 422,583" stroke-width="13"/><path d="M605,686Q552,683 478,639" stroke-width="11"/><path d="M842,453Q823,495 776,495" stroke-width="11"/><path d="M430,267Q410,320 428,346" stroke-width="14"/><path d="M604,247Q587,323 574,398" stroke-width="12"/><path d="M542,246Q546,317 572,369" stroke-width="15"/><path d="M867,475Q815,511 763,535" stroke-width="16"/><path d="M252,491Q343,538 400,560" stroke-width="13"/><path d="M844,525Q774,534 688,564" stroke-width="15"/><path d="M521,292Q544,368 525,487" stroke-width="11"/><path d="M427,271Q437,327 485,400" stroke-width="16"/><path d="M881,494Q802,524 706,580" stroke-width="11"/><path d="M823,376Q738,424 669,494" stroke-width="15"/><path d="M266,408Q308,456 369,514" stroke-width="16"/><path d="M627,282Q606,330 613,388" stroke-width="11"/><path d="M285,365Q343,452 362,522" stroke-width="9"/><path d="M682,287Q673,346 686,448" stroke-width="13"/><path d="M255,477Q337,492 430,540" stroke-width="15"/><path d="M895,605Q844,611 801,613" stroke-width="11"/></g>
<g fill="none" stroke="#40464a" stroke-opacity="0.55" stroke-linecap="round"><path d="M410,672Q432,692 445,718" stroke-width="12"/><path d="M828,900Q791,870 758,882" stroke-width="10"/><path d="M269,859Q320,816 384,812" stroke-width="14"/><path d="M361,949Q414,917 479,862" stroke-width="11"/><path d="M374,963Q395,953 419,924" stroke-width="13"/><path d="M518,972Q520,954 538,908" stroke-width="10"/><path d="M855,891Q820,900 779,881" stroke-width="11"/><path d="M586,961Q570,889 550,839" stroke-width="10"/><path d="M260,783Q299,804 334,789" stroke-width="13"/><path d="M551,709Q563,711 583,755" stroke-width="14"/><path d="M296,888Q370,903 440,876" stroke-width="13"/><path d="M616,966Q600,930 622,897" stroke-width="10"/><path d="M451,664Q467,676 480,717" stroke-width="12"/><path d="M237,737Q304,722 377,721" stroke-width="14"/><path d="M247,749Q298,778 333,779" stroke-width="13"/><path d="M731,964Q686,924 635,880" stroke-width="14"/><path d="M849,879Q817,843 755,829" stroke-width="15"/><path d="M852,846Q820,833 783,822" stroke-width="12"/><path d="M259,847Q294,824 361,769" stroke-width="10"/><path d="M281,882Q299,863 354,826" stroke-width="12"/><path d="M282,879Q321,878 378,842" stroke-width="10"/><path d="M235,651Q296,691 341,723" stroke-width="11"/><path d="M634,981Q596,909 572,848" stroke-width="12"/><path d="M243,735Q271,719 318,740" stroke-width="10"/><path d="M703,965Q691,919 682,907" stroke-width="12"/><path d="M526,968Q543,928 582,845" stroke-width="13"/><path d="M874,806Q818,805 793,775" stroke-width="10"/><path d="M268,825Q287,831 343,801" stroke-width="13"/><path d="M797,904Q755,882 756,849" stroke-width="10"/><path d="M271,833Q334,833 374,804" stroke-width="13"/></g>
<path d="M560,240 L562,640" stroke="#4c5256" stroke-opacity="0.8" stroke-width="12" fill="none"/>
<path d="M520,680 L560,650 L610,690 L590,750 L535,745Z" fill="none" stroke="#4a5054" stroke-width="9"/>
<path d="M225,640 C320,600 440,640 540,690" stroke="#5f656a" stroke-width="12" fill="none"/>
<path d="M900,640 C800,600 690,640 590,690" stroke="#5f656a" stroke-width="12" fill="none"/>
<path d="M300,950 C380,900 470,880 545,950 C600,1000 640,900 720,890 C800,900 840,940 860,960" stroke="#3a4044" stroke-width="14" fill="none"/>
</g>
<rect x="52" y="48" width="1012" height="1012" filter="url(#grain)" opacity="0.2"/>
</g></g>
<g clip-path="url(#clipA)"><g transform="translate(800,1010) scale(0.40388)">
<g filter="url(#b1)">
<path d="M412,92C440,92 482,97 513,108C543,118 571,133 596,154C620,176 641,207 660,238C678,269 694,302 706,338C719,375 730,419 735,456C740,492 740,524 735,555C731,587 720,616 707,643C693,671 676,697 654,720C633,744 605,767 577,785C550,803 518,818 490,827C461,837 434,843 407,842C379,841 351,832 325,820C298,809 271,794 248,774C224,754 202,728 183,702C165,676 149,649 137,620C124,591 115,557 111,526C107,494 111,461 114,432C117,402 122,376 131,350C140,324 152,299 166,274C181,248 199,219 219,196C238,174 262,152 283,137C305,122 326,112 348,105C369,97 385,92 412,92Z" fill="#2a3333" stroke="#4e5858" stroke-width="28"/>
<path d="M412,92C440,92 482,97 513,108C543,118 571,133 596,154C620,176 641,207 660,238C678,269 694,302 706,338C719,375 730,419 735,456C740,492 740,524 735,555C731,587 720,616 707,643C693,671 676,697 654,720C633,744 605,767 577,785C550,803 518,818 490,827C461,837 434,843 407,842C379,841 351,832 325,820C298,809 271,794 248,774C224,754 202,728 183,702C165,676 149,649 137,620C124,591 115,557 111,526C107,494 111,461 114,432C117,402 122,376 131,350C140,324 152,299 166,274C181,248 199,219 219,196C238,174 262,152 283,137C305,122 326,112 348,105C369,97 385,92 412,92Z" fill="none" stroke="#8a9395" stroke-width="13"/>
<path d="M412,92C440,92 482,97 513,108C543,118 571,133 596,154C620,176 641,207 660,238C678,269 694,302 706,338C719,375 730,419 735,456C740,492 740,524 735,555C731,587 720,616 707,643C693,671 676,697 654,720C633,744 605,767 577,785C550,803 518,818 490,827C461,837 434,843 407,842C379,841 351,832 325,820C298,809 271,794 248,774C224,754 202,728 183,702C165,676 149,649 137,620C124,591 115,557 111,526C107,494 111,461 114,432C117,402 122,376 131,350C140,324 152,299 166,274C181,248 199,219 219,196C238,174 262,152 283,137C305,122 326,112 348,105C369,97 385,92 412,92Z" fill="none" stroke="#e2e6e8" stroke-width="6.5"/>
<path d="M418,131C444,131 488,127 516,137C544,147 568,170 589,192C610,214 628,242 644,272C660,302 676,336 687,369C698,402 708,434 711,467C714,500 712,534 705,565C698,596 684,630 669,656C654,682 638,704 614,723C590,742 561,760 528,772C495,784 450,795 418,797C386,799 360,796 333,785C306,774 276,752 253,730C230,708 208,678 192,650C176,622 164,590 156,559C148,528 144,496 144,467C144,438 149,410 156,382C163,354 173,322 186,296C199,270 217,244 235,223C253,202 276,182 296,168C316,154 337,143 357,137C377,131 392,131 418,131Z" fill="#979da2"/>
</g>
<g filter="url(#b2)">
<ellipse cx="300" cy="440" rx="105" ry="165" fill="#bec3c9" transform="rotate(10 300 440)"/>
<ellipse cx="505" cy="420" rx="62" ry="120" fill="#bac0c6" transform="rotate(-6 505 420)"/>
<ellipse cx="330" cy="250" rx="70" ry="50" fill="#b0b6bb"/>
</g>
<g filter="url(#b3)">
<path d="M422,135C436,121 489,130 516,140C543,150 565,172 586,195C607,218 624,246 640,275C656,304 673,338 684,370C695,402 703,434 706,467C709,500 707,534 700,565C693,596 679,628 664,654C649,680 633,701 610,720C587,739 558,756 526,768C494,780 450,790 418,792C386,794 362,791 335,780C308,769 280,748 258,726C236,704 203,671 200,650C197,629 218,613 240,600C262,587 300,582 330,570C360,558 395,534 420,530C445,526 457,547 480,545C503,543 544,541 560,520C576,499 577,453 575,420C573,387 566,347 550,320C534,293 500,276 480,260C460,244 440,246 430,225C420,204 408,149 422,135Z" fill="#e5816d" opacity="0.72"/>
<ellipse cx="300" cy="690" rx="110" ry="80" fill="#a8aeb3" opacity="0.45"/>
<ellipse cx="520" cy="655" rx="95" ry="80" fill="#e8944e" opacity="0.8"/>
<ellipse cx="505" cy="675" rx="46" ry="36" fill="#dcb446" opacity="0.9"/>
<ellipse cx="610" cy="410" rx="28" ry="36" fill="#e89a50" opacity="0.55"/>
</g>
<g filter="url(#b2)">
<ellipse cx="705" cy="500" rx="10" ry="60" fill="#8a2c22" opacity="0.8"/>
<g fill="none" stroke="#3a4044" stroke-opacity="0.5" stroke-linecap="round"><path d="M447,148Q441,177 467,240" stroke-width="9"/><path d="M182,391Q213,394 275,394" stroke-width="10"/><path d="M556,750Q574,725 553,709" stroke-width="9"/><path d="M642,632Q605,621 593,603" stroke-width="11"/><path d="M358,151Q372,201 356,207" stroke-width="8"/><path d="M172,439Q211,460 225,461" stroke-width="9"/><path d="M178,606Q196,579 229,562" stroke-width="11"/><path d="M229,287Q268,332 282,394" stroke-width="9"/><path d="M209,627Q215,632 248,600" stroke-width="11"/><path d="M163,497Q222,496 267,452" stroke-width="9"/><path d="M469,768Q475,700 477,666" stroke-width="8"/><path d="M399,142Q420,188 422,204" stroke-width="10"/><path d="M383,780Q399,754 406,715" stroke-width="8"/><path d="M598,245Q601,301 563,334" stroke-width="9"/><path d="M169,384Q180,387 201,410" stroke-width="9"/><path d="M511,168Q516,177 511,212" stroke-width="9"/><path d="M205,283Q246,304 270,323" stroke-width="12"/><path d="M565,721Q556,685 529,653" stroke-width="9"/><path d="M600,256Q563,295 509,327" stroke-width="9"/><path d="M244,239Q260,245 286,269" stroke-width="10"/><path d="M155,473Q217,488 258,474" stroke-width="8"/><path d="M208,653Q247,635 259,630" stroke-width="10"/><path d="M202,289Q219,313 249,321" stroke-width="10"/><path d="M173,366Q217,369 262,372" stroke-width="13"/><path d="M703,548Q654,544 624,543" stroke-width="8"/><path d="M421,159Q443,194 428,222" stroke-width="10"/><path d="M188,360Q242,364 293,384" stroke-width="8"/><path d="M255,712Q290,681 286,634" stroke-width="11"/><path d="M247,232Q283,253 314,299" stroke-width="10"/><path d="M223,288Q262,307 261,310" stroke-width="10"/><path d="M396,138Q392,189 389,197" stroke-width="9"/><path d="M516,141Q512,174 506,213" stroke-width="9"/><path d="M460,150Q446,195 434,224" stroke-width="13"/><path d="M213,280Q211,316 246,321" stroke-width="8"/><path d="M267,724Q290,720 320,677" stroke-width="11"/><path d="M240,264Q269,295 307,299" stroke-width="12"/><path d="M310,197Q321,245 326,269" stroke-width="10"/><path d="M614,283Q555,314 530,355" stroke-width="9"/><path d="M652,653Q625,622 618,597" stroke-width="11"/><path d="M650,664Q641,635 596,636" stroke-width="12"/><path d="M596,222Q556,238 521,292" stroke-width="8"/><path d="M195,324Q232,342 252,362" stroke-width="8"/><path d="M234,656Q271,606 285,589" stroke-width="12"/><path d="M231,650Q273,642 306,611" stroke-width="9"/><path d="M310,742Q350,729 358,674" stroke-width="9"/><path d="M554,175Q525,228 498,278" stroke-width="12"/><path d="M264,220Q283,222 305,256" stroke-width="12"/><path d="M618,666Q571,632 538,597" stroke-width="11"/><path d="M660,382Q647,408 617,414" stroke-width="11"/><path d="M639,650Q643,637 613,612" stroke-width="9"/><path d="M647,346Q603,371 573,425" stroke-width="8"/><path d="M552,754Q549,707 518,700" stroke-width="10"/><path d="M350,784Q334,782 350,738" stroke-width="12"/><path d="M159,488Q205,499 218,501" stroke-width="13"/><path d="M620,674Q565,626 539,599" stroke-width="8"/><path d="M288,729Q315,717 326,693" stroke-width="9"/><path d="M313,180Q306,211 330,245" stroke-width="10"/><path d="M684,455Q646,450 568,448" stroke-width="12"/><path d="M607,699Q548,652 529,609" stroke-width="10"/><path d="M194,319Q213,341 223,355" stroke-width="11"/><path d="M185,363Q211,371 279,401" stroke-width="11"/><path d="M387,145Q365,201 363,261" stroke-width="9"/><path d="M230,658Q252,621 306,570" stroke-width="11"/><path d="M673,544Q630,530 577,550" stroke-width="12"/><path d="M570,724Q571,690 531,659" stroke-width="11"/><path d="M169,367Q215,393 221,410" stroke-width="10"/><path d="M274,203Q298,218 306,235" stroke-width="10"/><path d="M492,754Q466,724 451,662" stroke-width="8"/><path d="M265,731Q259,671 290,650" stroke-width="9"/><path d="M614,706Q615,697 593,661" stroke-width="13"/><path d="M518,156Q517,232 513,275" stroke-width="9"/><path d="M432,784Q451,757 441,703" stroke-width="11"/><path d="M216,287Q218,294 244,340" stroke-width="13"/><path d="M272,705Q297,671 330,629" stroke-width="8"/><path d="M680,498Q638,494 587,499" stroke-width="10"/><path d="M596,718Q564,673 505,651" stroke-width="10"/><path d="M166,413Q196,430 253,412" stroke-width="8"/><path d="M272,210Q301,248 297,268" stroke-width="9"/><path d="M658,619Q615,619 587,600" stroke-width="9"/><path d="M615,287Q572,323 525,339" stroke-width="12"/><path d="M497,150Q486,211 489,249" stroke-width="9"/><path d="M355,162Q382,209 380,249" stroke-width="9"/><path d="M499,774Q480,740 479,669" stroke-width="10"/><path d="M356,153Q337,183 361,249" stroke-width="11"/><path d="M665,596Q634,591 594,564" stroke-width="12"/><path d="M581,228Q541,234 538,268" stroke-width="8"/><path d="M270,720Q280,722 319,682" stroke-width="11"/><path d="M695,463Q639,435 581,429" stroke-width="9"/><path d="M448,146Q449,189 419,240" stroke-width="11"/><path d="M160,456Q178,439 216,465" stroke-width="11"/><path d="M192,603Q241,603 285,572" stroke-width="11"/><path d="M163,545Q200,549 209,535" stroke-width="11"/><path d="M322,185Q327,202 367,251" stroke-width="8"/><path d="M668,370Q646,395 625,378" stroke-width="12"/><path d="M680,588Q660,555 627,564" stroke-width="10"/><path d="M328,177Q355,220 342,283" stroke-width="13"/></g>
<path d="M420,135 C422,300 424,600 418,795" stroke="#4e5458" stroke-opacity="0.85" stroke-width="13" fill="none"/>
</g>
<rect x="52" y="42" width="722" height="858" filter="url(#grain)" opacity="0.2"/>
</g></g>
<text x="466.5" y="1071" font-size="46" text-anchor="start" font-weight="bold" fill="#fff" >L</text>
<text x="761.5" y="1071" font-size="46" text-anchor="start" font-weight="bold" fill="#fff" >R</text>
</svg>
</body></html>
